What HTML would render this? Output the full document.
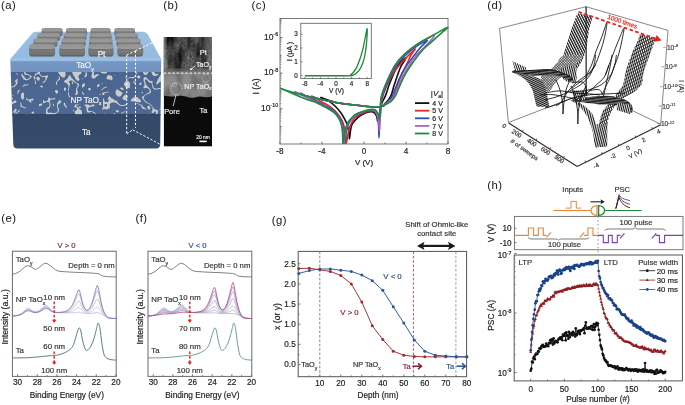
<!DOCTYPE html>
<html><head><meta charset="utf-8"><style>
html,body{margin:0;padding:0;background:#fff;}
svg{display:block;will-change:transform;}
text{font-family:"Liberation Sans", sans-serif;}
</style></head><body>
<svg width="685" height="405" viewBox="0 0 685 405">
<defs>
<linearGradient id="gTop" x1="0" y1="0" x2="0" y2="1"><stop offset="0" stop-color="#9cc0e4"/><stop offset="0.85" stop-color="#96bbe1"/><stop offset="1" stop-color="#a2c5e8"/></linearGradient>
<linearGradient id="gTaOy" x1="0" y1="0" x2="0" y2="1"><stop offset="0" stop-color="#84a8d4"/><stop offset="0.25" stop-color="#7396c2"/><stop offset="1" stop-color="#7093bf"/></linearGradient>
<linearGradient id="gNP" x1="0" y1="0" x2="0" y2="1"><stop offset="0" stop-color="#4a6690"/><stop offset="1" stop-color="#4c6893"/></linearGradient>
<linearGradient id="gTa" x1="0" y1="0" x2="0" y2="1"><stop offset="0" stop-color="#334967"/><stop offset="1" stop-color="#364c6b"/></linearGradient>
<linearGradient id="gPadS" x1="0" y1="0" x2="0" y2="1"><stop offset="0" stop-color="#666"/><stop offset="0.45" stop-color="#7a7a7a"/><stop offset="0.8" stop-color="#707070"/><stop offset="1" stop-color="#555"/></linearGradient>
<linearGradient id="gPadT" x1="0" y1="0" x2="0" y2="1"><stop offset="0" stop-color="#929292"/><stop offset="1" stop-color="#9c9c9c"/></linearGradient>
<clipPath id="clipFront"><path d="M10.3 60 L161.2 60 L160.2 144.5 Q160 148.6 156 148.6 L17.5 148.6 Q13.4 148.6 13.3 144.5 Z"/></clipPath>
<filter id="fblur" x="0" y="0" width="1" height="1"><feGaussianBlur stdDeviation="0.35"/></filter>

<filter id="ftem1" x="0" y="0" width="1" height="1">
<feTurbulence type="fractalNoise" baseFrequency="0.12 0.035" numOctaves="3" seed="12" result="n"/>
<feColorMatrix in="n" type="matrix" values="0 0 0 0 0  0 0 0 0 0  0 0 0 0 0  2.4 0 0 0 -0.98" result="a"/>
<feFlood flood-color="#000"/><feComposite in2="a" operator="in"/>
</filter>
<filter id="ftem3" x="0" y="0" width="1" height="1">
<feTurbulence type="fractalNoise" baseFrequency="0.1 0.03" numOctaves="2" seed="31" result="n"/>
<feColorMatrix in="n" type="matrix" values="0 0 0 0 0  0 0 0 0 0  0 0 0 0 0  0 2.8 0 0 -1.25" result="a"/>
<feFlood flood-color="#9a9a9a"/><feComposite in2="a" operator="in"/>
</filter>
<filter id="ftem2" x="0" y="0" width="1" height="1">
<feTurbulence type="fractalNoise" baseFrequency="0.4" numOctaves="2" seed="9" result="n"/>
<feColorMatrix in="n" type="matrix" values="0 0 0 0 0  0 0 0 0 0  0 0 0 0 0  0.8 0 0 0 -0.25" result="a"/>
<feFlood flood-color="#000"/><feComposite in2="a" operator="in"/>
</filter>
<filter id="ftem4" x="0" y="0" width="1" height="1">
<feTurbulence type="fractalNoise" baseFrequency="0.12 0.08" numOctaves="2" seed="5" result="n"/>
<feColorMatrix in="n" type="matrix" values="0 0 0 0 0  0 0 0 0 0  0 0 0 0 0  1.6 0 0 0 -0.65" result="a"/>
<feFlood flood-color="#000"/><feComposite in2="a" operator="in"/>
</filter>
<linearGradient id="gPt" x1="0" y1="0" x2="0" y2="1"><stop offset="0" stop-color="#555"/><stop offset="0.6" stop-color="#585858"/><stop offset="1" stop-color="#626262"/></linearGradient>
<linearGradient id="gNPt" x1="0" y1="0" x2="0" y2="1"><stop offset="0" stop-color="#868686"/><stop offset="0.5" stop-color="#8e8e8e"/><stop offset="1" stop-color="#828282"/></linearGradient>
<linearGradient id="gPtEdge" x1="0" y1="0" x2="1" y2="0"><stop offset="0" stop-color="#8a8a8a" stop-opacity="0.7"/><stop offset="0.08" stop-color="#8a8a8a" stop-opacity="0"/><stop offset="0.75" stop-color="#8a8a8a" stop-opacity="0"/><stop offset="1" stop-color="#8a8a8a" stop-opacity="0.45"/></linearGradient>
<clipPath id="clipTEM"><rect x="163.7" y="36.9" width="48.3" height="109.7"/></clipPath>
<clipPath id="clipc"><rect x="280" y="18.5" width="169" height="125.5"/></clipPath>
<pattern id="pDiag" patternUnits="userSpaceOnUse" width="2.3" height="2.3" patternTransform="rotate(-27)"><rect width="2.3" height="2.3" fill="#fff"/><rect width="1.3" height="2.3" fill="#161616"/></pattern>
<pattern id="pDiag2" patternUnits="userSpaceOnUse" width="2.0" height="2.0" patternTransform="rotate(-20)"><rect width="2.0" height="2.0" fill="#fff"/><rect width="1.0" height="2.0" fill="#161616"/></pattern>
<pattern id="pMesh" patternUnits="userSpaceOnUse" width="1.9" height="1.9" patternTransform="rotate(45)"><rect width="1.9" height="1.9" fill="#fff"/><rect width="0.55" height="1.9" fill="#161616"/><rect width="1.9" height="0.55" fill="#161616"/></pattern>
<pattern id="pR1" patternUnits="userSpaceOnUse" width="1.8" height="2" patternTransform="rotate(14)"><rect width="0.85" height="2" fill="#161616"/></pattern>
<pattern id="pR2" patternUnits="userSpaceOnUse" width="3.0" height="2" patternTransform="rotate(62)"><rect width="0.7" height="2" fill="#161616"/></pattern>
<pattern id="pHor" patternUnits="userSpaceOnUse" width="2" height="1.8" patternTransform="rotate(25)"><rect width="2" height="1.8" fill="#fff"/><rect width="2" height="1.2" fill="#161616"/></pattern>
<pattern id="pBand" patternUnits="userSpaceOnUse" width="3" height="1.45" patternTransform="rotate(4)"><rect width="3" height="1.45" fill="#fff"/><rect width="3" height="1.15" fill="#141414"/></pattern>
<pattern id="pVert" patternUnits="userSpaceOnUse" width="1.8" height="2" patternTransform="rotate(12)"><rect width="1.8" height="2" fill="#fff"/><rect width="1.0" height="2" fill="#161616"/></pattern>
<clipPath id="cliph"><rect x="514.2" y="255" width="168.19999999999993" height="125.89999999999998"/></clipPath></defs>
<rect width="685" height="405" fill="#fff"/>
<text x="1" y="9" font-size="11.3" text-anchor="start" fill="#222" stroke="#222" stroke-width="0.04" letter-spacing="0.45">(a)</text>
<text x="163.3" y="9" font-size="11.3" text-anchor="start" fill="#222" stroke="#222" stroke-width="0.04" letter-spacing="0.45">(b)</text>
<text x="251.6" y="9" font-size="11.3" text-anchor="start" fill="#222" stroke="#222" stroke-width="0.04" letter-spacing="0.45">(c)</text>
<text x="487.3" y="8.8" font-size="11.3" text-anchor="start" fill="#222" stroke="#222" stroke-width="0.04" letter-spacing="0.45">(d)</text>
<text x="1.3" y="221.5" font-size="11.3" text-anchor="start" fill="#222" stroke="#222" stroke-width="0.04" letter-spacing="0.45">(e)</text>
<text x="135.5" y="221.5" font-size="11.3" text-anchor="start" fill="#222" stroke="#222" stroke-width="0.04" letter-spacing="0.45">(f)</text>
<text x="271.8" y="224.4" font-size="11.3" text-anchor="start" fill="#222" stroke="#222" stroke-width="0.04" letter-spacing="0.45">(g)</text>
<text x="487.3" y="189" font-size="11.3" text-anchor="start" fill="#222" stroke="#222" stroke-width="0.04" letter-spacing="0.45">(h)</text>
<path d="M36 31.8 L143 31.8 Q146.3 31.8 147.8 34.5 L161.2 59 L161.2 61 L10.3 61 L10.3 59 L31.5 34.2 Q33 31.8 36 31.8 Z" stroke="none" stroke-width="1" fill="url(#gTop)"/>
<g clip-path="url(#clipFront)">
<rect x="8" y="59.5" width="156" height="13" fill="url(#gTaOy)" stroke="none" stroke-width="1"/>
<rect x="8" y="72" width="156" height="43" fill="url(#gNP)" stroke="none" stroke-width="1"/>
<rect x="8" y="114.6" width="156" height="36" fill="url(#gTa)" stroke="none" stroke-width="1"/>
<path d="M24 72h1.5v0.5h-1.5zM37.5 72h2.5v0.5h-2.5zM58 72h7.5v0.5h-7.5zM72 72h9.5v0.5h-9.5zM85.5 72h1v0.5h-1zM92.5 72h1.5v0.5h-1.5zM100.5 72h6.5v0.5h-6.5zM136.5 72h1v0.5h-1zM143 72h2v0.5h-2zM146.5 72h2v0.5h-2zM151.5 72h3v0.5h-3zM24 72.5h1.5v0.5h-1.5zM37.5 72.5h2.5v0.5h-2.5zM58.5 72.5h7v0.5h-7zM72.5 72.5h9v0.5h-9zM85.5 72.5h1v0.5h-1zM92 72.5h2v0.5h-2zM101 72.5h6v0.5h-6zM136.5 72.5h1v0.5h-1zM143 72.5h5v0.5h-5zM151.5 72.5h3v0.5h-3zM24 73h2v0.5h-2zM37 73h3v0.5h-3zM58.5 73h7v0.5h-7zM72.5 73h9v0.5h-9zM85.5 73h1.5v0.5h-1.5zM92 73h2v0.5h-2zM102 73h4.5v0.5h-4.5zM136.5 73h0.5v0.5h-0.5zM143.5 73h4.5v0.5h-4.5zM152 73h3v0.5h-3zM161.5 73h0.5v0.5h-0.5zM16 73.5h1.5v0.5h-1.5zM21.5 73.5h0.5v0.5h-0.5zM24.5 73.5h2v0.5h-2zM35 73.5h5v0.5h-5zM59 73.5h6.5v0.5h-6.5zM72.5 73.5h8.5v0.5h-8.5zM85.5 73.5h1.5v0.5h-1.5zM92 73.5h2v0.5h-2zM136 73.5h1v0.5h-1zM143.5 73.5h4v0.5h-4zM152 73.5h3.5v0.5h-3.5zM157.5 73.5h0.5v0.5h-0.5zM161 73.5h1v0.5h-1zM16.5 74h1.5v0.5h-1.5zM21.5 74h1v0.5h-1zM24.5 74h3.5v0.5h-3.5zM35 74h2.5v0.5h-2.5zM39 74h1.5v0.5h-1.5zM59.5 74h6v0.5h-6zM73 74h7v0.5h-7zM85.5 74h1.5v0.5h-1.5zM92 74h2v0.5h-2zM96.5 74h1.5v0.5h-1.5zM136 74h0.5v0.5h-0.5zM144 74h3v0.5h-3zM152 74h6.5v0.5h-6.5zM161 74h1v0.5h-1zM17 74.5h0.5v0.5h-0.5zM21.5 74.5h1v0.5h-1zM25 74.5h4.5v0.5h-4.5zM35 74.5h1.5v0.5h-1.5zM39.5 74.5h1v0.5h-1zM59.5 74.5h6v0.5h-6zM73 74.5h6.5v0.5h-6.5zM85.5 74.5h1.5v0.5h-1.5zM91.5 74.5h2.5v0.5h-2.5zM95.5 74.5h3.5v0.5h-3.5zM135.5 74.5h1v0.5h-1zM144.5 74.5h2v0.5h-2zM152.5 74.5h5.5v0.5h-5.5zM160.5 74.5h1.5v0.5h-1.5zM21 75h2v0.5h-2zM28 75h2.5v0.5h-2.5zM35 75h1v0.5h-1zM40 75h1v0.5h-1zM60 75h5.5v0.5h-5.5zM69.5 75h0.5v0.5h-0.5zM73.5 75h5.5v0.5h-5.5zM85 75h2v0.5h-2zM91.5 75h2.5v0.5h-2.5zM95 75h4v0.5h-4zM108 75h1.5v0.5h-1.5zM135.5 75h0.5v0.5h-0.5zM153 75h4.5v0.5h-4.5zM160.5 75h1.5v0.5h-1.5zM21.5 75.5h2v0.5h-2zM29.5 75.5h1.5v0.5h-1.5zM34.5 75.5h1v0.5h-1zM40.5 75.5h1v0.5h-1zM45.5 75.5h2.5v0.5h-2.5zM60.5 75.5h5v0.5h-5zM69 75.5h1.5v0.5h-1.5zM73.5 75.5h5v0.5h-5zM84.5 75.5h2.5v0.5h-2.5zM91.5 75.5h6v0.5h-6zM107.5 75.5h4v0.5h-4zM114 75.5h1v0.5h-1zM135 75.5h0.5v0.5h-0.5zM138 75.5h1.5v0.5h-1.5zM153.5 75.5h2.5v0.5h-2.5zM160 75.5h2v0.5h-2zM22 76h2v0.5h-2zM30 76h1.5v0.5h-1.5zM34 76h1v0.5h-1zM41 76h7v0.5h-7zM58.5 76h0.5v0.5h-0.5zM61 76h4v0.5h-4zM68.5 76h2v0.5h-2zM74 76h4.5v0.5h-4.5zM84.5 76h2v0.5h-2zM91.5 76h5.5v0.5h-5.5zM107 76h5v0.5h-5zM134.5 76h1v0.5h-1zM137 76h3v0.5h-3zM159.5 76h2.5v0.5h-2.5zM22 76.5h2.5v0.5h-2.5zM30 76.5h1.5v0.5h-1.5zM33.5 76.5h1v0.5h-1zM37.5 76.5h0.5v0.5h-0.5zM41.5 76.5h6.5v0.5h-6.5zM58.5 76.5h1v0.5h-1zM61.5 76.5h3.5v0.5h-3.5zM68.5 76.5h2.5v0.5h-2.5zM74.5 76.5h4v0.5h-4zM84.5 76.5h1.5v0.5h-1.5zM91.5 76.5h5v0.5h-5zM107 76.5h5v0.5h-5zM134 76.5h1v0.5h-1zM136.5 76.5h4v0.5h-4zM159.5 76.5h2.5v0.5h-2.5zM22.5 77h2v0.5h-2zM30 77h1.5v0.5h-1.5zM33.5 77h1.5v0.5h-1.5zM36.5 77h2.5v0.5h-2.5zM45 77h2.5v0.5h-2.5zM59 77h0.5v0.5h-0.5zM62 77h2.5v0.5h-2.5zM68.5 77h2.5v0.5h-2.5zM74.5 77h4v0.5h-4zM84.5 77h1v0.5h-1zM91.5 77h4.5v0.5h-4.5zM106.5 77h6v0.5h-6zM125 77h1v0.5h-1zM130 77h5v0.5h-5zM137 77h3.5v0.5h-3.5zM144.5 77h1.5v0.5h-1.5zM159 77h3v0.5h-3zM22.5 77.5h2.5v0.5h-2.5zM29.5 77.5h1.5v0.5h-1.5zM33.5 77.5h2v0.5h-2zM36.5 77.5h3v0.5h-3zM45.5 77.5h2v0.5h-2zM59 77.5h1v0.5h-1zM68 77.5h3.5v0.5h-3.5zM75 77.5h4v0.5h-4zM92 77.5h3.5v0.5h-3.5zM106.5 77.5h6v0.5h-6zM121 77.5h0.5v0.5h-0.5zM125.5 77.5h1.5v0.5h-1.5zM128.5 77.5h5.5v0.5h-5.5zM137.5 77.5h2.5v0.5h-2.5zM144 77.5h2.5v0.5h-2.5zM159 77.5h3v0.5h-3zM23 78h2.5v0.5h-2.5zM29 78h1.5v0.5h-1.5zM34 78h1.5v0.5h-1.5zM36.5 78h3v0.5h-3zM45.5 78h1.5v0.5h-1.5zM59 78h1v0.5h-1zM68 78h4v0.5h-4zM75 78h4v0.5h-4zM82.5 78h0.5v0.5h-0.5zM92.5 78h2.5v0.5h-2.5zM106.5 78h6v0.5h-6zM126 78h3.5v0.5h-3.5zM132.5 78h1v0.5h-1zM138 78h1.5v0.5h-1.5zM143.5 78h3.5v0.5h-3.5zM158.5 78h3.5v0.5h-3.5zM17 78.5h0.5v0.5h-0.5zM23 78.5h3v0.5h-3zM28 78.5h2v0.5h-2zM34 78.5h1.5v0.5h-1.5zM36.5 78.5h3.5v0.5h-3.5zM45.5 78.5h1.5v0.5h-1.5zM58.5 78.5h1.5v0.5h-1.5zM67 78.5h5.5v0.5h-5.5zM75.5 78.5h3.5v0.5h-3.5zM82.5 78.5h0.5v0.5h-0.5zM107 78.5h5.5v0.5h-5.5zM143.5 78.5h4v0.5h-4zM158.5 78.5h3.5v0.5h-3.5zM16.5 79h1v0.5h-1zM23.5 79h5.5v0.5h-5.5zM34.5 79h0.5v0.5h-0.5zM37 79h3v0.5h-3zM45.5 79h1v0.5h-1zM58.5 79h1.5v0.5h-1.5zM66.5 79h6.5v0.5h-6.5zM76 79h3.5v0.5h-3.5zM82.5 79h0.5v0.5h-0.5zM107.5 79h5v0.5h-5zM143.5 79h4.5v0.5h-4.5zM158 79h4v0.5h-4zM16 79.5h1.5v0.5h-1.5zM24.5 79.5h4v0.5h-4zM34.5 79.5h0.5v0.5h-0.5zM37 79.5h2.5v0.5h-2.5zM45 79.5h1.5v0.5h-1.5zM57.5 79.5h2v0.5h-2zM66 79.5h7.5v0.5h-7.5zM76 79.5h3.5v0.5h-3.5zM110.5 79.5h1.5v0.5h-1.5zM143.5 79.5h1.5v0.5h-1.5zM146.5 79.5h2v0.5h-2zM157.5 79.5h4.5v0.5h-4.5zM15.5 80h2v0.5h-2zM26 80h1v0.5h-1zM34.5 80h1v0.5h-1zM37.5 80h2v0.5h-2zM45 80h1v0.5h-1zM57.5 80h1.5v0.5h-1.5zM65 80h9v0.5h-9zM76.5 80h2.5v0.5h-2.5zM111 80h0.5v0.5h-0.5zM143.5 80h1.5v0.5h-1.5zM147 80h2v0.5h-2zM157.5 80h4.5v0.5h-4.5zM15 80.5h2.5v0.5h-2.5zM35 80.5h0.5v0.5h-0.5zM44.5 80.5h1v0.5h-1zM57 80.5h1v0.5h-1zM64.5 80.5h5.5v0.5h-5.5zM72.5 80.5h2v0.5h-2zM77.5 80.5h1v0.5h-1zM143.5 80.5h1.5v0.5h-1.5zM147.5 80.5h2.5v0.5h-2.5zM157.5 80.5h4.5v0.5h-4.5zM14.5 81h3v0.5h-3zM35 81h0.5v0.5h-0.5zM44 81h1.5v0.5h-1.5zM56.5 81h1v0.5h-1zM64 81h5v0.5h-5zM73 81h2v0.5h-2zM126.5 81h2v0.5h-2zM133.5 81h0.5v0.5h-0.5zM135 81h0.5v0.5h-0.5zM143.5 81h1.5v0.5h-1.5zM148 81h4.5v0.5h-4.5zM157 81h5v0.5h-5zM15.5 81.5h2v0.5h-2zM35 81.5h1v0.5h-1zM43.5 81.5h1.5v0.5h-1.5zM56.5 81.5h1v0.5h-1zM64 81.5h5v0.5h-5zM72 81.5h1v0.5h-1zM74 81.5h1.5v0.5h-1.5zM125.5 81.5h3.5v0.5h-3.5zM133.5 81.5h2v0.5h-2zM144 81.5h1v0.5h-1zM148.5 81.5h4v0.5h-4zM157 81.5h5v0.5h-5zM15.5 82h2v0.5h-2zM35 82h1v0.5h-1zM43 82h1.5v0.5h-1.5zM56 82h1v0.5h-1zM64.5 82h4.5v0.5h-4.5zM72 82h1v0.5h-1zM74.5 82h1.5v0.5h-1.5zM125 82h4.5v0.5h-4.5zM133.5 82h2v0.5h-2zM144 82h1.5v0.5h-1.5zM149 82h3.5v0.5h-3.5zM156.5 82h3v0.5h-3zM16 82.5h1.5v0.5h-1.5zM35 82.5h1v0.5h-1zM42.5 82.5h1v0.5h-1zM56 82.5h1v0.5h-1zM65.5 82.5h4v0.5h-4zM72 82.5h1v0.5h-1zM75.5 82.5h1.5v0.5h-1.5zM124.5 82.5h5v0.5h-5zM133.5 82.5h1.5v0.5h-1.5zM140 82.5h1.5v0.5h-1.5zM144 82.5h1.5v0.5h-1.5zM150.5 82.5h2v0.5h-2zM156.5 82.5h2.5v0.5h-2.5zM10 83h1v0.5h-1zM16 83h1.5v0.5h-1.5zM35 83h1v0.5h-1zM56 83h1v0.5h-1zM66.5 83h3.5v0.5h-3.5zM72 83h1v0.5h-1zM76 83h2v0.5h-2zM124.5 83h5.5v0.5h-5.5zM133.5 83h1v0.5h-1zM139.5 83h2v0.5h-2zM144.5 83h1v0.5h-1zM151.5 83h1v0.5h-1zM156.5 83h2v0.5h-2zM9.5 83.5h1v0.5h-1zM15.5 83.5h2v0.5h-2zM34.5 83.5h1.5v0.5h-1.5zM56 83.5h1v0.5h-1zM67 83.5h3v0.5h-3zM72.5 83.5h1v0.5h-1zM77 83.5h1.5v0.5h-1.5zM83 83.5h2v0.5h-2zM101.5 83.5h1.5v0.5h-1.5zM124 83.5h6v0.5h-6zM139.5 83.5h2v0.5h-2zM144.5 83.5h1.5v0.5h-1.5zM151.5 83.5h1v0.5h-1zM156 83.5h2v0.5h-2zM9.5 84h1v0.5h-1zM15.5 84h1.5v0.5h-1.5zM56 84h1v0.5h-1zM67.5 84h2.5v0.5h-2.5zM72.5 84h0.5v0.5h-0.5zM77.5 84h1.5v0.5h-1.5zM82.5 84h2.5v0.5h-2.5zM98 84h1v0.5h-1zM124 84h6v0.5h-6zM139 84h2.5v0.5h-2.5zM144.5 84h1.5v0.5h-1.5zM152 84h0.5v0.5h-0.5zM156.5 84h1v0.5h-1zM9.5 84.5h1v0.5h-1zM15 84.5h1.5v0.5h-1.5zM24 84.5h5v0.5h-5zM56.5 84.5h1v0.5h-1zM68 84.5h2v0.5h-2zM77.5 84.5h1.5v0.5h-1.5zM82 84.5h3v0.5h-3zM97.5 84.5h2v0.5h-2zM124 84.5h6v0.5h-6zM139.5 84.5h1.5v0.5h-1.5zM144.5 84.5h2v0.5h-2zM152 84.5h0.5v0.5h-0.5zM9.5 85h1v0.5h-1zM14.5 85h1.5v0.5h-1.5zM23.5 85h4v0.5h-4zM68 85h2v0.5h-2zM77.5 85h1.5v0.5h-1.5zM82 85h3v0.5h-3zM97 85h2.5v0.5h-2.5zM124 85h6v0.5h-6zM144.5 85h2v0.5h-2zM152 85h1v0.5h-1zM9.5 85.5h1.5v0.5h-1.5zM14 85.5h1.5v0.5h-1.5zM23 85.5h2v0.5h-2zM41 85.5h1v0.5h-1zM68.5 85.5h1v0.5h-1zM77.5 85.5h1.5v0.5h-1.5zM82 85.5h2.5v0.5h-2.5zM97 85.5h2.5v0.5h-2.5zM124.5 85.5h5.5v0.5h-5.5zM144.5 85.5h2.5v0.5h-2.5zM152 85.5h1v0.5h-1zM10 86h1.5v0.5h-1.5zM13.5 86h1.5v0.5h-1.5zM22.5 86h1.5v0.5h-1.5zM40 86h2.5v0.5h-2.5zM68.5 86h1v0.5h-1zM77.5 86h1v0.5h-1zM82 86h2.5v0.5h-2.5zM97 86h2v0.5h-2zM125 86h5v0.5h-5zM144 86h3.5v0.5h-3.5zM152.5 86h1v0.5h-1zM10.5 86.5h4v0.5h-4zM40.5 86.5h2.5v0.5h-2.5zM68.5 86.5h1v0.5h-1zM77 86.5h1.5v0.5h-1.5zM82 86.5h2v0.5h-2zM97 86.5h1.5v0.5h-1.5zM105.5 86.5h1v0.5h-1zM125.5 86.5h4.5v0.5h-4.5zM143.5 86.5h4.5v0.5h-4.5zM152.5 86.5h1v0.5h-1zM11.5 87h2v0.5h-2zM41 87h1.5v0.5h-1.5zM68.5 87h1v0.5h-1zM77 87h1v0.5h-1zM82 87h1v0.5h-1zM104.5 87h2.5v0.5h-2.5zM125.5 87h4.5v0.5h-4.5zM143.5 87h5v0.5h-5zM152.5 87h1v0.5h-1zM64.5 87.5h1.5v0.5h-1.5zM68.5 87.5h0.5v0.5h-0.5zM76.5 87.5h1v0.5h-1zM103.5 87.5h2v0.5h-2zM120.5 87.5h2v0.5h-2zM126 87.5h3.5v0.5h-3.5zM143.5 87.5h5.5v0.5h-5.5zM152.5 87.5h1.5v0.5h-1.5zM64 88h2v0.5h-2zM68.5 88h0.5v0.5h-0.5zM76.5 88h1v0.5h-1zM88.5 88h1.5v0.5h-1.5zM103 88h1.5v0.5h-1.5zM120 88h3v0.5h-3zM127 88h1.5v0.5h-1.5zM144 88h0.5v0.5h-0.5zM147.5 88h2v0.5h-2zM153 88h2v0.5h-2zM158 88h4v0.5h-4zM64 88.5h2v0.5h-2zM68 88.5h1v0.5h-1zM76 88.5h1.5v0.5h-1.5zM88 88.5h3v0.5h-3zM102.5 88.5h1v0.5h-1zM120.5 88.5h3v0.5h-3zM148.5 88.5h1.5v0.5h-1.5zM153.5 88.5h8.5v0.5h-8.5zM64 89h2v0.5h-2zM68 89h1v0.5h-1zM76 89h1v0.5h-1zM88 89h3v0.5h-3zM101.5 89h1.5v0.5h-1.5zM121 89h2.5v0.5h-2.5zM149 89h1v0.5h-1zM154 89h4v0.5h-4zM19.5 89.5h0.5v0.5h-0.5zM64 89.5h2v0.5h-2zM68 89.5h1v0.5h-1zM76 89.5h1v0.5h-1zM88.5 89.5h2.5v0.5h-2.5zM101.5 89.5h1v0.5h-1zM116.5 89.5h1.5v0.5h-1.5zM121.5 89.5h2v0.5h-2zM149 89.5h1.5v0.5h-1.5zM18.5 90h1.5v0.5h-1.5zM55.5 90h2v0.5h-2zM64 90h1.5v0.5h-1.5zM68 90h0.5v0.5h-0.5zM76 90h1.5v0.5h-1.5zM89 90h1v0.5h-1zM101.5 90h0.5v0.5h-0.5zM116 90h2.5v0.5h-2.5zM149.5 90h1v0.5h-1zM18 90.5h1.5v0.5h-1.5zM55 90.5h2.5v0.5h-2.5zM64.5 90.5h1v0.5h-1zM68 90.5h0.5v0.5h-0.5zM76 90.5h1.5v0.5h-1.5zM116 90.5h3.5v0.5h-3.5zM149.5 90.5h1.5v0.5h-1.5zM17.5 91h1.5v0.5h-1.5zM55 91h3v0.5h-3zM68 91h0.5v0.5h-0.5zM76 91h1.5v0.5h-1.5zM116 91h4.5v0.5h-4.5zM149.5 91h1.5v0.5h-1.5zM17.5 91.5h1v0.5h-1zM55 91.5h3v0.5h-3zM68 91.5h0.5v0.5h-0.5zM76 91.5h2v0.5h-2zM82 91.5h0.5v0.5h-0.5zM107 91.5h1.5v0.5h-1.5zM115.5 91.5h5.5v0.5h-5.5zM149.5 91.5h1.5v0.5h-1.5zM17.5 92h1v0.5h-1zM55.5 92h2.5v0.5h-2.5zM68 92h0.5v0.5h-0.5zM76 92h2v0.5h-2zM82 92h0.5v0.5h-0.5zM104.5 92h4v0.5h-4zM115.5 92h6.5v0.5h-6.5zM141.5 92h1.5v0.5h-1.5zM149.5 92h1.5v0.5h-1.5zM17.5 92.5h1v0.5h-1zM22.5 92.5h1v0.5h-1zM55.5 92.5h2.5v0.5h-2.5zM68 92.5h0.5v0.5h-0.5zM76 92.5h2v0.5h-2zM82 92.5h1v0.5h-1zM102.5 92.5h3.5v0.5h-3.5zM115.5 92.5h7v0.5h-7zM141.5 92.5h1.5v0.5h-1.5zM148.5 92.5h2v0.5h-2zM17.5 93h1v0.5h-1zM21.5 93h2.5v0.5h-2.5zM56 93h1.5v0.5h-1.5zM68 93h1v0.5h-1zM75.5 93h2.5v0.5h-2.5zM82 93h1.5v0.5h-1.5zM102 93h2.5v0.5h-2.5zM115.5 93h7v0.5h-7zM147.5 93h2.5v0.5h-2.5zM17.5 93.5h0.5v0.5h-0.5zM21.5 93.5h2.5v0.5h-2.5zM68 93.5h1v0.5h-1zM75.5 93.5h2v0.5h-2zM82.5 93.5h1.5v0.5h-1.5zM102.5 93.5h2v0.5h-2zM116 93.5h6.5v0.5h-6.5zM146.5 93.5h2.5v0.5h-2.5zM8 94h2.5v0.5h-2.5zM21 94h3v0.5h-3zM68 94h1v0.5h-1zM75.5 94h1.5v0.5h-1.5zM83 94h1v0.5h-1zM99.5 94h1v0.5h-1zM102 94h2.5v0.5h-2.5zM116 94h6v0.5h-6zM146 94h1.5v0.5h-1.5zM10 94.5h2v0.5h-2zM21 94.5h3v0.5h-3zM68 94.5h1v0.5h-1zM75 94.5h2v0.5h-2zM83.5 94.5h1v0.5h-1zM99.5 94.5h1.5v0.5h-1.5zM102 94.5h0.5v0.5h-0.5zM103 94.5h1v0.5h-1zM116 94.5h6v0.5h-6zM125 94.5h1.5v0.5h-1.5zM145 94.5h1.5v0.5h-1.5zM11.5 95h2v0.5h-2zM21 95h3v0.5h-3zM68.5 95h1v0.5h-1zM116.5 95h5v0.5h-5zM124.5 95h2.5v0.5h-2.5zM144.5 95h1v0.5h-1zM8 95.5h1.5v0.5h-1.5zM21 95.5h3v0.5h-3zM68.5 95.5h1v0.5h-1zM117 95.5h4v0.5h-4zM124 95.5h3.5v0.5h-3.5zM144 95.5h1v0.5h-1zM8 96h2.5v0.5h-2.5zM21 96h3v0.5h-3zM68.5 96h1.5v0.5h-1.5zM109.5 96h0.5v0.5h-0.5zM117.5 96h3v0.5h-3zM123.5 96h4v0.5h-4zM143 96h1.5v0.5h-1.5zM8 96.5h3.5v0.5h-3.5zM21 96.5h3v0.5h-3zM69 96.5h1v0.5h-1zM109 96.5h1v0.5h-1zM123 96.5h4.5v0.5h-4.5zM142 96.5h2v0.5h-2zM8 97h4v0.5h-4zM21 97h3v0.5h-3zM69.5 97h0.5v0.5h-0.5zM108.5 97h2v0.5h-2zM123 97h4.5v0.5h-4.5zM134 97h3v0.5h-3zM142 97h2v0.5h-2zM8 97.5h4.5v0.5h-4.5zM21 97.5h3v0.5h-3zM26 97.5h0.5v0.5h-0.5zM48.5 97.5h1v0.5h-1zM108 97.5h3v0.5h-3zM122.5 97.5h5v0.5h-5zM133 97.5h5v0.5h-5zM142 97.5h1.5v0.5h-1.5zM8 98h5v0.5h-5zM21.5 98h2.5v0.5h-2.5zM26 98h0.5v0.5h-0.5zM48 98h1.5v0.5h-1.5zM53.5 98h1.5v0.5h-1.5zM103 98h0.5v0.5h-0.5zM108 98h3.5v0.5h-3.5zM122.5 98h4.5v0.5h-4.5zM132.5 98h6v0.5h-6zM142 98h1.5v0.5h-1.5zM8 98.5h5v0.5h-5zM21.5 98.5h2v0.5h-2zM26 98.5h1v0.5h-1zM31.5 98.5h1.5v0.5h-1.5zM48 98.5h7.5v0.5h-7.5zM103 98.5h0.5v0.5h-0.5zM108 98.5h4.5v0.5h-4.5zM122.5 98.5h4.5v0.5h-4.5zM132 98.5h7v0.5h-7zM142.5 98.5h1.5v0.5h-1.5zM8 99h4.5v0.5h-4.5zM22 99h1.5v0.5h-1.5zM26 99h1.5v0.5h-1.5zM29.5 99h4v0.5h-4zM48 99h6.5v0.5h-6.5zM103 99h1v0.5h-1zM108 99h6v0.5h-6zM123 99h3.5v0.5h-3.5zM131.5 99h8v0.5h-8zM143 99h1v0.5h-1zM8 99.5h4.5v0.5h-4.5zM26.5 99.5h7v0.5h-7zM48 99.5h3.5v0.5h-3.5zM103 99.5h1v0.5h-1zM108.5 99.5h5.5v0.5h-5.5zM123.5 99.5h2.5v0.5h-2.5zM131 99.5h9.5v0.5h-9.5zM143.5 99.5h1v0.5h-1zM8 100h3.5v0.5h-3.5zM27 100h4v0.5h-4zM31.5 100h2v0.5h-2zM43 100h1v0.5h-1zM48 100h2v0.5h-2zM59 100h0.5v0.5h-0.5zM103 100h1v0.5h-1zM108.5 100h6v0.5h-6zM130.5 100h10v0.5h-10zM143.5 100h1.5v0.5h-1.5zM8 100.5h2.5v0.5h-2.5zM14.5 100.5h1.5v0.5h-1.5zM29 100.5h2v0.5h-2zM43 100.5h1v0.5h-1zM47 100.5h3v0.5h-3zM59 100.5h2v0.5h-2zM103 100.5h1.5v0.5h-1.5zM109 100.5h7.5v0.5h-7.5zM131 100.5h10v0.5h-10zM144 100.5h1v0.5h-1zM8 101h1v0.5h-1zM13.5 101h3v0.5h-3zM29 101h2.5v0.5h-2.5zM43 101h1.5v0.5h-1.5zM45.5 101h4.5v0.5h-4.5zM58.5 101h3v0.5h-3zM103 101h1.5v0.5h-1.5zM108.5 101h8.5v0.5h-8.5zM131.5 101h9.5v0.5h-9.5zM144.5 101h1v0.5h-1zM8 101.5h1v0.5h-1zM12.5 101.5h4v0.5h-4zM29.5 101.5h2v0.5h-2zM43 101.5h7v0.5h-7zM58.5 101.5h2.5v0.5h-2.5zM103 101.5h2v0.5h-2zM108 101.5h9.5v0.5h-9.5zM136 101.5h5v0.5h-5zM145 101.5h1.5v0.5h-1.5zM8 102h1.5v0.5h-1.5zM11 102h5.5v0.5h-5.5zM20.5 102h0.5v0.5h-0.5zM30 102h1.5v0.5h-1.5zM43 102h3v0.5h-3zM48.5 102h1.5v0.5h-1.5zM58 102h3v0.5h-3zM103 102h14.5v0.5h-14.5zM138.5 102h1.5v0.5h-1.5zM145.5 102h1.5v0.5h-1.5zM8 102.5h8v0.5h-8zM20.5 102.5h0.5v0.5h-0.5zM43 102.5h2v0.5h-2zM49 102.5h1v0.5h-1zM57.5 102.5h3v0.5h-3zM64 102.5h0.5v0.5h-0.5zM103 102.5h8.5v0.5h-8.5zM115.5 102.5h2.5v0.5h-2.5zM146 102.5h2v0.5h-2zM8 103h6v0.5h-6zM20.5 103h1v0.5h-1zM49.5 103h1v0.5h-1zM57 103h3.5v0.5h-3.5zM64 103h1v0.5h-1zM103 103h8v0.5h-8zM116.5 103h2v0.5h-2zM126.5 103h1v0.5h-1zM135 103h1.5v0.5h-1.5zM147.5 103h1.5v0.5h-1.5zM8 103.5h5v0.5h-5zM20.5 103.5h1v0.5h-1zM40.5 103.5h2v0.5h-2zM49.5 103.5h1v0.5h-1zM53 103.5h0.5v0.5h-0.5zM57 103.5h2v0.5h-2zM63.5 103.5h2v0.5h-2zM103 103.5h7v0.5h-7zM117 103.5h2v0.5h-2zM126 103.5h1.5v0.5h-1.5zM136.5 103.5h2v0.5h-2zM148.5 103.5h1.5v0.5h-1.5zM20.5 104h1v0.5h-1zM39 104h3.5v0.5h-3.5zM49.5 104h1v0.5h-1zM53 104h1v0.5h-1zM57 104h1.5v0.5h-1.5zM63.5 104h2v0.5h-2zM103 104h1.5v0.5h-1.5zM107 104h3v0.5h-3zM118 104h1.5v0.5h-1.5zM125 104h2v0.5h-2zM138.5 104h1.5v0.5h-1.5zM149.5 104h1v0.5h-1zM20.5 104.5h1v0.5h-1zM39 104.5h3v0.5h-3zM49.5 104.5h1v0.5h-1zM53 104.5h1v0.5h-1zM57 104.5h1v0.5h-1zM64 104.5h1.5v0.5h-1.5zM75 104.5h4v0.5h-4zM84.5 104.5h4v0.5h-4zM92 104.5h2v0.5h-2zM103 104.5h1.5v0.5h-1.5zM107 104.5h2.5v0.5h-2.5zM118.5 104.5h2v0.5h-2zM124.5 104.5h2v0.5h-2zM139.5 104.5h2v0.5h-2zM150 104.5h1v0.5h-1zM20.5 105h1v0.5h-1zM39 105h2.5v0.5h-2.5zM49.5 105h1v0.5h-1zM53 105h1v0.5h-1zM57 105h1v0.5h-1zM64 105h1.5v0.5h-1.5zM75 105h2.5v0.5h-2.5zM84.5 105h5v0.5h-5zM91 105h3.5v0.5h-3.5zM103 105h1.5v0.5h-1.5zM107 105h2.5v0.5h-2.5zM119 105h6.5v0.5h-6.5zM140.5 105h1.5v0.5h-1.5zM150.5 105h1v0.5h-1zM20.5 105.5h1.5v0.5h-1.5zM39 105.5h2v0.5h-2zM49.5 105.5h1v0.5h-1zM53.5 105.5h0.5v0.5h-0.5zM57 105.5h1v0.5h-1zM64.5 105.5h1.5v0.5h-1.5zM74.5 105.5h2v0.5h-2zM85 105.5h9.5v0.5h-9.5zM103 105.5h1.5v0.5h-1.5zM107 105.5h3v0.5h-3zM120.5 105.5h4v0.5h-4zM141 105.5h1.5v0.5h-1.5zM148 105.5h0.5v0.5h-0.5zM151 105.5h1v0.5h-1zM20.5 106h2v0.5h-2zM39.5 106h0.5v0.5h-0.5zM49 106h1.5v0.5h-1.5zM53.5 106h0.5v0.5h-0.5zM57 106h1v0.5h-1zM65 106h2v0.5h-2zM74.5 106h2v0.5h-2zM79.5 106h1v0.5h-1zM85.5 106h8.5v0.5h-8.5zM103 106h1.5v0.5h-1.5zM106.5 106h3.5v0.5h-3.5zM141 106h1.5v0.5h-1.5zM147.5 106h2v0.5h-2zM151.5 106h0.5v0.5h-0.5zM20.5 106.5h3v0.5h-3zM49 106.5h1v0.5h-1zM57 106.5h1v0.5h-1zM65.5 106.5h1.5v0.5h-1.5zM74 106.5h3.5v0.5h-3.5zM79 106.5h1.5v0.5h-1.5zM86 106.5h5v0.5h-5zM103 106.5h2v0.5h-2zM105.5 106.5h4.5v0.5h-4.5zM141.5 106.5h1.5v0.5h-1.5zM147 106.5h3v0.5h-3zM152 106.5h0.5v0.5h-0.5zM22 107h2.5v0.5h-2.5zM48 107h2v0.5h-2zM57 107h1v0.5h-1zM66 107h1v0.5h-1zM74.5 107h3.5v0.5h-3.5zM79 107h2v0.5h-2zM86 107h3.5v0.5h-3.5zM103 107h7v0.5h-7zM141.5 107h2.5v0.5h-2.5zM147.5 107h2.5v0.5h-2.5zM152 107h1v0.5h-1zM160.5 107h0.5v0.5h-0.5zM23.5 107.5h2.5v0.5h-2.5zM47 107.5h2.5v0.5h-2.5zM57.5 107.5h1v0.5h-1zM65 107.5h0.5v0.5h-0.5zM76.5 107.5h2v0.5h-2zM79 107.5h1.5v0.5h-1.5zM86.5 107.5h2v0.5h-2zM103 107.5h6.5v0.5h-6.5zM142 107.5h2.5v0.5h-2.5zM147.5 107.5h3v0.5h-3zM152.5 107.5h1v0.5h-1zM160.5 107.5h1v0.5h-1zM25 108h1v0.5h-1zM46.5 108h3v0.5h-3zM57.5 108h1v0.5h-1zM77 108h2v0.5h-2zM86.5 108h2v0.5h-2zM102.5 108h7v0.5h-7zM142 108h3.5v0.5h-3.5zM147.5 108h3v0.5h-3zM152.5 108h1v0.5h-1zM160.5 108h1.5v0.5h-1.5zM15.5 108.5h0.5v0.5h-0.5zM46.5 108.5h2v0.5h-2zM57.5 108.5h1.5v0.5h-1.5zM77 108.5h2.5v0.5h-2.5zM86.5 108.5h1.5v0.5h-1.5zM102 108.5h6.5v0.5h-6.5zM143 108.5h2.5v0.5h-2.5zM148 108.5h2v0.5h-2zM152.5 108.5h1.5v0.5h-1.5zM160.5 108.5h1.5v0.5h-1.5zM15 109h1.5v0.5h-1.5zM46.5 109h1.5v0.5h-1.5zM57.5 109h1.5v0.5h-1.5zM77 109h3v0.5h-3zM86.5 109h1.5v0.5h-1.5zM102.5 109h1v0.5h-1zM105.5 109h2v0.5h-2zM145 109h1v0.5h-1zM148.5 109h1.5v0.5h-1.5zM152.5 109h2.5v0.5h-2.5zM159.5 109h1v0.5h-1zM161.5 109h0.5v0.5h-0.5zM8 109.5h0.5v0.5h-0.5zM14.5 109.5h2v0.5h-2zM19.5 109.5h0.5v0.5h-0.5zM46 109.5h1.5v0.5h-1.5zM58 109.5h1v0.5h-1zM73.5 109.5h0.5v0.5h-0.5zM77 109.5h3.5v0.5h-3.5zM86.5 109.5h1.5v0.5h-1.5zM102.5 109.5h0.5v0.5h-0.5zM146 109.5h0.5v0.5h-0.5zM152.5 109.5h4v0.5h-4zM159.5 109.5h1v0.5h-1zM8 110h1v0.5h-1zM14 110h2.5v0.5h-2.5zM19 110h0.5v0.5h-0.5zM46 110h1.5v0.5h-1.5zM58 110h1v0.5h-1zM73.5 110h0.5v0.5h-0.5zM76.5 110h4.5v0.5h-4.5zM86.5 110h2v0.5h-2zM116.5 110h1.5v0.5h-1.5zM152.5 110h5v0.5h-5zM8 110.5h1.5v0.5h-1.5zM14 110.5h2.5v0.5h-2.5zM18.5 110.5h1v0.5h-1zM46 110.5h1.5v0.5h-1.5zM57.5 110.5h1.5v0.5h-1.5zM73 110.5h1v0.5h-1zM75.5 110.5h6v0.5h-6zM86.5 110.5h2v0.5h-2zM116 110.5h2.5v0.5h-2.5zM152 110.5h6v0.5h-6zM8 111h1.5v0.5h-1.5zM13.5 111h2.5v0.5h-2.5zM18 111h1.5v0.5h-1.5zM46 111h1.5v0.5h-1.5zM57.5 111h1v0.5h-1zM73 111h0.5v0.5h-0.5zM75 111h6.5v0.5h-6.5zM87 111h4.5v0.5h-4.5zM116 111h3v0.5h-3zM152 111h6v0.5h-6zM8 111.5h2v0.5h-2zM13.5 111.5h2v0.5h-2zM17.5 111.5h1.5v0.5h-1.5zM32.5 111.5h1.5v0.5h-1.5zM46 111.5h1.5v0.5h-1.5zM57 111.5h1.5v0.5h-1.5zM74.5 111.5h7.5v0.5h-7.5zM87 111.5h6.5v0.5h-6.5zM116 111.5h2.5v0.5h-2.5zM123.5 111.5h2v0.5h-2zM151.5 111.5h3v0.5h-3zM156 111.5h2v0.5h-2zM8 112h3v0.5h-3zM13.5 112h2v0.5h-2zM17 112h1v0.5h-1zM32 112h2v0.5h-2zM46 112h2v0.5h-2zM56.5 112h1.5v0.5h-1.5zM74.5 112h7.5v0.5h-7.5zM87.5 112h2.5v0.5h-2.5zM92.5 112h2v0.5h-2zM117 112h1v0.5h-1zM122.5 112h2v0.5h-2zM151.5 112h2.5v0.5h-2.5zM156 112h2v0.5h-2zM8 112.5h3v0.5h-3zM14 112.5h1v0.5h-1zM16 112.5h1.5v0.5h-1.5zM31.5 112.5h2.5v0.5h-2.5zM46 112.5h2.5v0.5h-2.5zM49.5 112.5h2v0.5h-2zM55.5 112.5h1.5v0.5h-1.5zM75 112.5h7v0.5h-7zM93.5 112.5h1.5v0.5h-1.5zM121.5 112.5h1.5v0.5h-1.5zM152 112.5h1.5v0.5h-1.5zM156 112.5h1.5v0.5h-1.5zM8 113h3v0.5h-3zM15.5 113h1.5v0.5h-1.5zM31.5 113h2.5v0.5h-2.5zM46 113h10.5v0.5h-10.5zM75 113h7v0.5h-7zM94.5 113h1v0.5h-1zM114 113h0.5v0.5h-0.5zM121.5 113h1v0.5h-1zM156 113h1.5v0.5h-1.5zM8 113.5h3v0.5h-3zM15.5 113.5h1v0.5h-1zM46 113.5h10v0.5h-10zM75 113.5h7v0.5h-7zM94.5 113.5h1v0.5h-1zM104.5 113.5h0.5v0.5h-0.5zM113.5 113.5h1.5v0.5h-1.5zM121.5 113.5h0.5v0.5h-0.5zM126 113.5h1v0.5h-1zM156 113.5h1.5v0.5h-1.5zM8 114h3v0.5h-3zM15 114h1v0.5h-1zM26 114h1.5v0.5h-1.5zM46 114h9v0.5h-9zM75 114h7v0.5h-7zM95 114h0.5v0.5h-0.5zM104.5 114h0.5v0.5h-0.5zM113.5 114h1.5v0.5h-1.5zM121 114h1v0.5h-1zM125 114h2.5v0.5h-2.5zM156 114h1.5v0.5h-1.5zM8 114.5h3v0.5h-3zM15 114.5h1v0.5h-1zM25.5 114.5h2.5v0.5h-2.5zM46 114.5h9v0.5h-9zM75 114.5h7v0.5h-7zM93 114.5h0.5v0.5h-0.5zM95 114.5h1v0.5h-1zM104.5 114.5h0.5v0.5h-0.5zM113.5 114.5h1.5v0.5h-1.5zM121 114.5h1v0.5h-1zM124.5 114.5h3.5v0.5h-3.5zM148 114.5h1.5v0.5h-1.5zM156 114.5h1v0.5h-1z" fill="#c9cacc" filter="url(#fblur)"/>
<line x1="8" y1="114.5" x2="164" y2="114.5" stroke="#2a3d58" stroke-width="0.8"/>
<line x1="8" y1="60.3" x2="164" y2="60.3" stroke="#9fc2e6" stroke-width="1"/>
</g>
<rect x="41.5" y="29.8" width="21.3" height="6.2" fill="url(#gPadS)" stroke="none" stroke-width="1" rx="2.2"/>
<rect x="41.5" y="28" width="21.3" height="3.6" fill="url(#gPadT)" stroke="none" stroke-width="1" rx="2.7" ry="1.8"/>
<rect x="65.9" y="29.8" width="21.3" height="6.2" fill="url(#gPadS)" stroke="none" stroke-width="1" rx="2.2"/>
<rect x="65.9" y="28" width="21.3" height="3.6" fill="url(#gPadT)" stroke="none" stroke-width="1" rx="2.7" ry="1.8"/>
<rect x="90.4" y="29.8" width="20.4" height="6.2" fill="url(#gPadS)" stroke="none" stroke-width="1" rx="2.2"/>
<rect x="90.4" y="28" width="20.4" height="3.6" fill="url(#gPadT)" stroke="none" stroke-width="1" rx="2.7" ry="1.8"/>
<rect x="114.2" y="29.8" width="21" height="6.2" fill="url(#gPadS)" stroke="none" stroke-width="1" rx="2.2"/>
<rect x="114.2" y="28" width="21" height="3.6" fill="url(#gPadT)" stroke="none" stroke-width="1" rx="2.7" ry="1.8"/>
<rect x="37.33" y="34.85" width="22.93" height="6.15" fill="url(#gPadS)" stroke="none" stroke-width="1" rx="2.7"/>
<rect x="37.33" y="32.9" width="22.93" height="3.9" fill="url(#gPadT)" stroke="none" stroke-width="1" rx="3.2" ry="1.95"/>
<rect x="63.67" y="34.85" width="22.83" height="6.15" fill="url(#gPadS)" stroke="none" stroke-width="1" rx="2.7"/>
<rect x="63.67" y="32.9" width="22.83" height="3.9" fill="url(#gPadT)" stroke="none" stroke-width="1" rx="3.2" ry="1.95"/>
<rect x="89.7" y="34.85" width="22.07" height="6.15" fill="url(#gPadS)" stroke="none" stroke-width="1" rx="2.7"/>
<rect x="89.7" y="32.9" width="22.07" height="3.9" fill="url(#gPadT)" stroke="none" stroke-width="1" rx="3.2" ry="1.95"/>
<rect x="115.23" y="34.85" width="22.67" height="6.15" fill="url(#gPadS)" stroke="none" stroke-width="1" rx="2.7"/>
<rect x="115.23" y="32.9" width="22.67" height="3.9" fill="url(#gPadT)" stroke="none" stroke-width="1" rx="3.2" ry="1.95"/>
<rect x="33.17" y="40.35" width="24.57" height="6.65" fill="url(#gPadS)" stroke="none" stroke-width="1" rx="3.2"/>
<rect x="33.17" y="38.2" width="24.57" height="4.3" fill="url(#gPadT)" stroke="none" stroke-width="1" rx="3.7" ry="2.15"/>
<rect x="61.43" y="40.35" width="24.37" height="6.65" fill="url(#gPadS)" stroke="none" stroke-width="1" rx="3.2"/>
<rect x="61.43" y="38.2" width="24.37" height="4.3" fill="url(#gPadT)" stroke="none" stroke-width="1" rx="3.7" ry="2.15"/>
<rect x="89" y="40.35" width="23.73" height="6.65" fill="url(#gPadS)" stroke="none" stroke-width="1" rx="3.2"/>
<rect x="89" y="38.2" width="23.73" height="4.3" fill="url(#gPadT)" stroke="none" stroke-width="1" rx="3.7" ry="2.15"/>
<rect x="116.27" y="40.35" width="24.33" height="6.65" fill="url(#gPadS)" stroke="none" stroke-width="1" rx="3.2"/>
<rect x="116.27" y="38.2" width="24.33" height="4.3" fill="url(#gPadT)" stroke="none" stroke-width="1" rx="3.7" ry="2.15"/>
<rect x="29" y="46.5" width="26.2" height="10.1" fill="url(#gPadS)" stroke="none" stroke-width="1" rx="3.7"/>
<rect x="29" y="44" width="26.2" height="5" fill="url(#gPadT)" stroke="none" stroke-width="1" rx="4.2" ry="2.5"/>
<rect x="59.2" y="46.5" width="25.9" height="10.1" fill="url(#gPadS)" stroke="none" stroke-width="1" rx="3.7"/>
<rect x="59.2" y="44" width="25.9" height="5" fill="url(#gPadT)" stroke="none" stroke-width="1" rx="4.2" ry="2.5"/>
<rect x="88.3" y="46.5" width="25.4" height="10.1" fill="url(#gPadS)" stroke="none" stroke-width="1" rx="3.7"/>
<rect x="88.3" y="44" width="25.4" height="5" fill="url(#gPadT)" stroke="none" stroke-width="1" rx="4.2" ry="2.5"/>
<rect x="117.3" y="46.5" width="26" height="10.1" fill="url(#gPadS)" stroke="none" stroke-width="1" rx="3.7"/>
<rect x="117.3" y="44" width="26" height="5" fill="url(#gPadT)" stroke="none" stroke-width="1" rx="4.2" ry="2.5"/>
<text x="101.5" y="57" font-size="8.2" text-anchor="middle" fill="#f4f4f4" stroke="#f4f4f4" stroke-width="0.18">Pt</text>
<text x="85" y="68.3" font-size="8.2" text-anchor="middle" fill="#f4f4f4" stroke="#f4f4f4" stroke-width="0.18">TaO<tspan font-size="5.3" dy="2.4">y</tspan></text>
<text x="86" y="102.5" font-size="8.2" text-anchor="middle" fill="#f4f4f4" stroke="#f4f4f4" stroke-width="0.18">NP TaO<tspan font-size="5.3" dy="2.4">x</tspan></text>
<text x="86.3" y="135" font-size="8.2" text-anchor="middle" fill="#f0f0f0" stroke="#f0f0f0" stroke-width="0.18">Ta</text>
<line x1="126.7" y1="55" x2="126.7" y2="133.8" stroke="#ffffff" stroke-width="1" stroke-dasharray="2.2 1.8"/>
<line x1="135.5" y1="50.8" x2="135.5" y2="127.8" stroke="#ffffff" stroke-width="1" stroke-dasharray="2.2 1.8"/>
<line x1="126.7" y1="55" x2="135.5" y2="50.8" stroke="#ffffff" stroke-width="1" stroke-dasharray="2.2 1.8"/>
<line x1="126.7" y1="133.8" x2="132.8" y2="129.8" stroke="#ffffff" stroke-width="1" stroke-dasharray="2.2 1.8"/>
<line x1="135.5" y1="50.8" x2="163.5" y2="37.2" stroke="#ffffff" stroke-width="1" stroke-dasharray="2.2 1.8"/>
<line x1="132.8" y1="129.8" x2="160.5" y2="144.5" stroke="#ffffff" stroke-width="1" stroke-dasharray="2.2 1.8"/>
<g clip-path="url(#clipTEM)">
<rect x="163.7" y="36.9" width="48.3" height="109.7" fill="#0b0b0b" stroke="none" stroke-width="1"/>
<rect x="163.7" y="36.9" width="48.3" height="36.5" fill="url(#gPt)" stroke="none" stroke-width="1"/>
<rect x="163.7" y="36.9" width="48.3" height="36.5" fill="#000" stroke="none" stroke-width="1" filter="url(#ftem3)"/>
<rect x="163.7" y="36.9" width="48.3" height="36.5" fill="#000" stroke="none" stroke-width="1" filter="url(#ftem1)"/>
<rect x="163.7" y="36.9" width="48.3" height="36.5" fill="#000" stroke="none" stroke-width="1" filter="url(#ftem2)"/>
<rect x="163.7" y="36.9" width="48.3" height="36.5" fill="url(#gPtEdge)" stroke="none" stroke-width="1"/>
<path d="M163.7 71.5 L212 70.5 L212 96.5 Q208 97.8 204 97 Q199 96 195 97.5 Q190 98.5 186 96.5 Q181 95 176 96.3 Q170 97 163.7 95.8 Z" stroke="none" stroke-width="1" fill="url(#gNPt)"/>
<rect x="163.7" y="68.5" width="48.3" height="4.5" fill="#6a6a6a" stroke="none" stroke-width="1" opacity="0.7"/>
<path d="M163.7 73.5 L212 73 L212 96.5 Q208 97.8 204 97 Q199 96 195 97.5 Q190 98.5 186 96.5 Q181 95 176 96.3 Q170 97 163.7 95.8 Z" fill="#000" filter="url(#ftem4)" opacity="0.35"/>
</g>
<line x1="163.7" y1="73.1" x2="212" y2="73.1" stroke="#ffffff" stroke-width="1" stroke-dasharray="2.6 1.7"/>
<text x="203.3" y="55" font-size="7.6" text-anchor="middle" fill="#f0f0f0" stroke="#f0f0f0" stroke-width="0.18">Pt</text>
<text x="202.5" y="66.6" font-size="7.2" text-anchor="middle" fill="#f0f0f0" stroke="#f0f0f0" stroke-width="0.18">TaO</text>
<text x="210" y="68.5" font-size="4.5" text-anchor="middle" fill="#f0f0f0" stroke="#f0f0f0" stroke-width="0.18">y</text>
<path d="M195 66 L191 69.5" stroke="#fff" stroke-width="0.9" fill="none"/>
<path d="M190 70.3 L190.6 67.8 L192.6 69.6 Z" stroke="none" stroke-width="1" fill="#fff"/>
<text x="196.8" y="88.5" font-size="7.2" text-anchor="middle" fill="#f0f0f0" stroke="#f0f0f0" stroke-width="0.18">NP TaO</text>
<text x="210.3" y="90.2" font-size="4.5" text-anchor="middle" fill="#f0f0f0" stroke="#f0f0f0" stroke-width="0.18">x</text>
<circle cx="176.3" cy="88.8" r="5.7" fill="none" stroke="#e8e8e8" stroke-width="0.7" stroke-dasharray="1.3 1.1"/>
<circle cx="205.8" cy="78.2" r="4" fill="none" stroke="#dddddd" stroke-width="0.6" stroke-dasharray="1.1 1"/>
<circle cx="174.5" cy="84.8" r="2" fill="none" stroke="#e0e0e0" stroke-width="0.5" stroke-dasharray="0.8 0.8"/>
<line x1="176" y1="95" x2="173.2" y2="106" stroke="#e8e8e8" stroke-width="0.8"/>
<text x="172" y="114.3" font-size="7.4" text-anchor="middle" fill="#f0f0f0" stroke="#f0f0f0" stroke-width="0.18">Pore</text>
<text x="203.5" y="113" font-size="7.4" text-anchor="middle" fill="#f0f0f0" stroke="#f0f0f0" stroke-width="0.18">Ta</text>
<text x="203" y="138.9" font-size="4.8" text-anchor="middle" fill="#f0f0f0" stroke="#f0f0f0" stroke-width="0.18">20 nm</text>
<rect x="199.4" y="140.6" width="7.3" height="1.6" fill="#fff" stroke="none" stroke-width="1"/>
<line x1="280" y1="144" x2="280" y2="141.5" stroke="#555" stroke-width="0.8"/>
<line x1="301" y1="144" x2="301" y2="142.5" stroke="#555" stroke-width="0.8"/>
<line x1="322" y1="144" x2="322" y2="141.5" stroke="#555" stroke-width="0.8"/>
<line x1="343" y1="144" x2="343" y2="142.5" stroke="#555" stroke-width="0.8"/>
<line x1="364" y1="144" x2="364" y2="141.5" stroke="#555" stroke-width="0.8"/>
<line x1="385" y1="144" x2="385" y2="142.5" stroke="#555" stroke-width="0.8"/>
<line x1="406" y1="144" x2="406" y2="141.5" stroke="#555" stroke-width="0.8"/>
<line x1="427" y1="144" x2="427" y2="142.5" stroke="#555" stroke-width="0.8"/>
<line x1="448" y1="144" x2="448" y2="141.5" stroke="#555" stroke-width="0.8"/>
<line x1="280" y1="126.5" x2="281.5" y2="126.5" stroke="#555" stroke-width="0.8"/>
<line x1="280" y1="108.7" x2="282.5" y2="108.7" stroke="#555" stroke-width="0.8"/>
<line x1="280" y1="90.9" x2="281.5" y2="90.9" stroke="#555" stroke-width="0.8"/>
<line x1="280" y1="73.1" x2="282.5" y2="73.1" stroke="#555" stroke-width="0.8"/>
<line x1="280" y1="55.3" x2="281.5" y2="55.3" stroke="#555" stroke-width="0.8"/>
<line x1="280" y1="37.5" x2="282.5" y2="37.5" stroke="#555" stroke-width="0.8"/>
<line x1="280" y1="19.7" x2="281.5" y2="19.7" stroke="#555" stroke-width="0.8"/>
<line x1="280" y1="138.94" x2="281.4" y2="138.94" stroke="#555" stroke-width="0.5"/>
<line x1="280" y1="135.81" x2="281.4" y2="135.81" stroke="#555" stroke-width="0.5"/>
<line x1="280" y1="133.58" x2="281.4" y2="133.58" stroke="#555" stroke-width="0.5"/>
<line x1="280" y1="131.86" x2="281.4" y2="131.86" stroke="#555" stroke-width="0.5"/>
<line x1="280" y1="130.45" x2="281.4" y2="130.45" stroke="#555" stroke-width="0.5"/>
<line x1="280" y1="129.26" x2="281.4" y2="129.26" stroke="#555" stroke-width="0.5"/>
<line x1="280" y1="128.22" x2="281.4" y2="128.22" stroke="#555" stroke-width="0.5"/>
<line x1="280" y1="127.31" x2="281.4" y2="127.31" stroke="#555" stroke-width="0.5"/>
<line x1="280" y1="121.14" x2="281.4" y2="121.14" stroke="#555" stroke-width="0.5"/>
<line x1="280" y1="118.01" x2="281.4" y2="118.01" stroke="#555" stroke-width="0.5"/>
<line x1="280" y1="115.78" x2="281.4" y2="115.78" stroke="#555" stroke-width="0.5"/>
<line x1="280" y1="114.06" x2="281.4" y2="114.06" stroke="#555" stroke-width="0.5"/>
<line x1="280" y1="112.65" x2="281.4" y2="112.65" stroke="#555" stroke-width="0.5"/>
<line x1="280" y1="111.46" x2="281.4" y2="111.46" stroke="#555" stroke-width="0.5"/>
<line x1="280" y1="110.42" x2="281.4" y2="110.42" stroke="#555" stroke-width="0.5"/>
<line x1="280" y1="109.51" x2="281.4" y2="109.51" stroke="#555" stroke-width="0.5"/>
<line x1="280" y1="103.34" x2="281.4" y2="103.34" stroke="#555" stroke-width="0.5"/>
<line x1="280" y1="100.21" x2="281.4" y2="100.21" stroke="#555" stroke-width="0.5"/>
<line x1="280" y1="97.98" x2="281.4" y2="97.98" stroke="#555" stroke-width="0.5"/>
<line x1="280" y1="96.26" x2="281.4" y2="96.26" stroke="#555" stroke-width="0.5"/>
<line x1="280" y1="94.85" x2="281.4" y2="94.85" stroke="#555" stroke-width="0.5"/>
<line x1="280" y1="93.66" x2="281.4" y2="93.66" stroke="#555" stroke-width="0.5"/>
<line x1="280" y1="92.62" x2="281.4" y2="92.62" stroke="#555" stroke-width="0.5"/>
<line x1="280" y1="91.71" x2="281.4" y2="91.71" stroke="#555" stroke-width="0.5"/>
<line x1="280" y1="85.54" x2="281.4" y2="85.54" stroke="#555" stroke-width="0.5"/>
<line x1="280" y1="82.41" x2="281.4" y2="82.41" stroke="#555" stroke-width="0.5"/>
<line x1="280" y1="80.18" x2="281.4" y2="80.18" stroke="#555" stroke-width="0.5"/>
<line x1="280" y1="78.46" x2="281.4" y2="78.46" stroke="#555" stroke-width="0.5"/>
<line x1="280" y1="77.05" x2="281.4" y2="77.05" stroke="#555" stroke-width="0.5"/>
<line x1="280" y1="75.86" x2="281.4" y2="75.86" stroke="#555" stroke-width="0.5"/>
<line x1="280" y1="74.82" x2="281.4" y2="74.82" stroke="#555" stroke-width="0.5"/>
<line x1="280" y1="73.91" x2="281.4" y2="73.91" stroke="#555" stroke-width="0.5"/>
<line x1="280" y1="67.74" x2="281.4" y2="67.74" stroke="#555" stroke-width="0.5"/>
<line x1="280" y1="64.61" x2="281.4" y2="64.61" stroke="#555" stroke-width="0.5"/>
<line x1="280" y1="62.38" x2="281.4" y2="62.38" stroke="#555" stroke-width="0.5"/>
<line x1="280" y1="60.66" x2="281.4" y2="60.66" stroke="#555" stroke-width="0.5"/>
<line x1="280" y1="59.25" x2="281.4" y2="59.25" stroke="#555" stroke-width="0.5"/>
<line x1="280" y1="58.06" x2="281.4" y2="58.06" stroke="#555" stroke-width="0.5"/>
<line x1="280" y1="57.02" x2="281.4" y2="57.02" stroke="#555" stroke-width="0.5"/>
<line x1="280" y1="56.11" x2="281.4" y2="56.11" stroke="#555" stroke-width="0.5"/>
<line x1="280" y1="49.94" x2="281.4" y2="49.94" stroke="#555" stroke-width="0.5"/>
<line x1="280" y1="46.81" x2="281.4" y2="46.81" stroke="#555" stroke-width="0.5"/>
<line x1="280" y1="44.58" x2="281.4" y2="44.58" stroke="#555" stroke-width="0.5"/>
<line x1="280" y1="42.86" x2="281.4" y2="42.86" stroke="#555" stroke-width="0.5"/>
<line x1="280" y1="41.45" x2="281.4" y2="41.45" stroke="#555" stroke-width="0.5"/>
<line x1="280" y1="40.26" x2="281.4" y2="40.26" stroke="#555" stroke-width="0.5"/>
<line x1="280" y1="39.22" x2="281.4" y2="39.22" stroke="#555" stroke-width="0.5"/>
<line x1="280" y1="38.31" x2="281.4" y2="38.31" stroke="#555" stroke-width="0.5"/>
<line x1="280" y1="32.14" x2="281.4" y2="32.14" stroke="#555" stroke-width="0.5"/>
<line x1="280" y1="29.01" x2="281.4" y2="29.01" stroke="#555" stroke-width="0.5"/>
<line x1="280" y1="26.78" x2="281.4" y2="26.78" stroke="#555" stroke-width="0.5"/>
<line x1="280" y1="25.06" x2="281.4" y2="25.06" stroke="#555" stroke-width="0.5"/>
<line x1="280" y1="23.65" x2="281.4" y2="23.65" stroke="#555" stroke-width="0.5"/>
<line x1="280" y1="22.46" x2="281.4" y2="22.46" stroke="#555" stroke-width="0.5"/>
<line x1="280" y1="21.42" x2="281.4" y2="21.42" stroke="#555" stroke-width="0.5"/>
<line x1="280" y1="20.51" x2="281.4" y2="20.51" stroke="#555" stroke-width="0.5"/>
<text x="280" y="154.3" font-size="8.2" text-anchor="middle" fill="#222" stroke="#222" stroke-width="0.18">-8</text>
<text x="322" y="154.3" font-size="8.2" text-anchor="middle" fill="#222" stroke="#222" stroke-width="0.18">-4</text>
<text x="364" y="154.3" font-size="8.2" text-anchor="middle" fill="#222" stroke="#222" stroke-width="0.18">0</text>
<text x="406" y="154.3" font-size="8.2" text-anchor="middle" fill="#222" stroke="#222" stroke-width="0.18">4</text>
<text x="448" y="154.3" font-size="8.2" text-anchor="middle" fill="#222" stroke="#222" stroke-width="0.18">8</text>
<text x="364" y="165" font-size="8" text-anchor="middle" fill="#222" stroke="#222" stroke-width="0.18">V (V)</text>
<text x="278.3" y="39.6" font-size="8.6" text-anchor="end" fill="#222" stroke="#222" stroke-width="0.18">10<tspan font-size="5.4" dy="-3.4">-6</tspan></text>
<text x="278.3" y="75.2" font-size="8.6" text-anchor="end" fill="#222" stroke="#222" stroke-width="0.18">10<tspan font-size="5.4" dy="-3.4">-8</tspan></text>
<text x="278.3" y="110.8" font-size="8.6" text-anchor="end" fill="#222" stroke="#222" stroke-width="0.18">10<tspan font-size="5.4" dy="-3.4">-10</tspan></text>
<text x="259.2" y="86.5" font-size="8.6" text-anchor="middle" fill="#222" stroke="#222" stroke-width="0.18" transform="rotate(-90 259.2 86.5)">I (A)</text>
<g clip-path="url(#clipc)" fill="none" stroke-linejoin="round" stroke-linecap="round">
<path d="M321 97.6 C323.7 98.45 332.37 101.55 337.2 102.7 C342.03 103.85 345.37 103.92 350 104.5 C354.63 105.08 360.67 105.75 365 106.2 C369.33 106.65 373.33 107.13 376 107.2 C378.67 107.27 379.67 106.87 381 106.6 C382.33 106.33 383.5 105.77 384 105.6" stroke="#111111" stroke-width="1.6" fill="none"/>
<path d="M321 97.6 C322.22 98.15 325.97 99.5 328.3 100.9 C330.63 102.3 333 104.15 335 106 C337 107.85 338.85 110.12 340.3 112 C341.75 113.88 342.7 115.55 343.7 117.3 C344.7 119.05 345.58 120.72 346.3 122.5 C347.02 124.28 347.55 126.25 348 128 C348.45 129.75 348.75 131.22 349 133 C349.25 134.78 349.28 138.87 349.5 138.7 C349.72 138.53 349.93 134.23 350.3 132 C350.67 129.77 350.92 127.22 351.7 125.3 C352.48 123.38 353.62 122.08 355 120.5 C356.38 118.92 358.17 117.1 360 115.8 C361.83 114.5 364.17 113.4 366 112.7 C367.83 112 369.58 111.58 371 111.6 C372.42 111.62 373.55 111.98 374.5 112.8 C375.45 113.62 376.15 115.13 376.7 116.5 C377.25 117.87 377.33 121.58 377.8 121 C378.27 120.42 378.88 115.83 379.5 113 C380.12 110.17 380.48 106.93 381.5 104 C382.52 101.07 384.3 98.68 385.6 95.4 C386.9 92.12 387.77 88.32 389.3 84.3 C390.83 80.28 392.95 75.02 394.8 71.3 C396.65 67.58 398.55 64.17 400.4 62 C402.25 59.83 405.75 57.68 405.9 58.3 C406.05 58.92 402.68 62.92 401.3 65.7 C399.92 68.48 398.83 71.6 397.6 75 C396.37 78.4 394.98 82.7 393.9 86.1 C392.82 89.5 392.08 93 391.1 95.4 C390.12 97.8 389.18 98.98 388 100.5 C386.82 102.02 384.67 103.83 384 104.5" stroke="#111111" stroke-width="1.6" fill="none"/>
<path d="M311.6 96.3 C313.4 96.87 318.13 98.63 322.4 99.7 C326.67 100.77 332.6 101.9 337.2 102.7 C341.8 103.5 345.37 103.92 350 104.5 C354.63 105.08 360.67 105.75 365 106.2 C369.33 106.65 373.33 107.13 376 107.2 C378.67 107.27 379.67 106.87 381 106.6 C382.33 106.33 383.5 105.77 384 105.6" stroke="#e3262b" stroke-width="1.6" fill="none"/>
<path d="M311.6 96.3 C312.17 96.52 313.32 96.65 315 97.6 C316.68 98.55 319.48 100.72 321.7 102 C323.92 103.28 326.08 103.85 328.3 105.3 C330.52 106.75 333.1 108.8 335 110.7 C336.9 112.6 338.37 114.7 339.7 116.7 C341.03 118.7 342.12 120.37 343 122.7 C343.88 125.03 344.52 128.15 345 130.7 C345.48 133.25 345.7 135.78 345.9 138 C346.1 140.22 345.9 144.33 346.2 144 C346.5 143.67 347.23 138.45 347.7 136 C348.17 133.55 348.33 131.52 349 129.3 C349.67 127.08 350.7 124.58 351.7 122.7 C352.7 120.82 353.62 119.37 355 118 C356.38 116.63 358.17 115.5 360 114.5 C361.83 113.5 364 112.63 366 112 C368 111.37 370.33 110.65 372 110.7 C373.67 110.75 375 111.33 376 112.3 C377 113.27 377.57 115.22 378 116.5 C378.43 117.78 378.3 120.58 378.6 120 C378.9 119.42 379.27 116.33 379.8 113 C380.33 109.67 380.93 103.83 381.8 100 C382.67 96.17 383.8 93.17 385 90 C386.2 86.83 387.08 84.58 389 81 C390.92 77.42 393.75 72.25 396.5 68.5 C399.25 64.75 402.38 61.73 405.5 58.5 C408.62 55.27 414.28 49.68 415.2 49.1 C416.12 48.52 412.23 52.85 411 55 C409.77 57.15 409.27 58.98 407.8 62 C406.33 65.02 403.9 69.38 402.2 73.1 C400.5 76.82 398.98 80.58 397.6 84.3 C396.22 88.02 395.17 92.7 393.9 95.4 C392.63 98.1 391.48 98.98 390 100.5 C388.52 102.02 385.83 103.83 385 104.5" stroke="#e3262b" stroke-width="1.6" fill="none"/>
<path d="M300.7 93.3 C301.85 93.8 303.98 95.23 307.6 96.3 C311.22 97.37 317.47 98.63 322.4 99.7 C327.33 100.77 332.6 101.9 337.2 102.7 C341.8 103.5 345.37 103.92 350 104.5 C354.63 105.08 360.67 105.75 365 106.2 C369.33 106.65 373.33 107.13 376 107.2 C378.67 107.27 379.67 106.87 381 106.6 C382.33 106.33 383.5 105.77 384 105.6" stroke="#2b4fb5" stroke-width="1.6" fill="none"/>
<path d="M300.7 93.3 C301.85 93.88 305.22 95.68 307.6 96.8 C309.98 97.92 312.65 98.8 315 100 C317.35 101.2 319.48 102.78 321.7 104 C323.92 105.22 326.08 105.97 328.3 107.3 C330.52 108.63 333.1 110.22 335 112 C336.9 113.78 338.48 116 339.7 118 C340.92 120 341.63 121.67 342.3 124 C342.97 126.33 343.37 128.67 343.7 132 C344.03 135.33 343.97 143.33 344.3 144 C344.63 144.67 345.25 138.67 345.7 136 C346.15 133.33 346.28 130.45 347 128 C347.72 125.55 348.67 123.3 350 121.3 C351.33 119.3 353 117.47 355 116 C357 114.53 359.5 113.42 362 112.5 C364.5 111.58 367.83 110.67 370 110.5 C372.17 110.33 373.75 110.42 375 111.5 C376.25 112.58 376.9 114.58 377.5 117 C378.1 119.42 378.35 122.53 378.6 126 C378.85 129.47 378.85 137.8 379 137.8 C379.15 137.8 379.23 130.13 379.5 126 C379.77 121.87 380.25 117.4 380.6 113 C380.95 108.6 380.98 103.35 381.6 99.6 C382.22 95.85 383.2 93.55 384.3 90.5 C385.4 87.45 386.32 85.28 388.2 81.3 C390.08 77.32 392.8 70.88 395.6 66.6 C398.4 62.32 401.35 59.1 405 55.6 C408.65 52.1 413.8 48.12 417.5 45.6 C421.2 43.08 426.67 40.23 427.2 40.5 C427.73 40.77 423.02 44.53 420.7 47.2 C418.38 49.87 415.77 53.25 413.3 56.5 C410.83 59.75 408.22 63 405.9 66.7 C403.58 70.4 401.25 74.85 399.4 78.7 C397.55 82.55 396.12 86.67 394.8 89.8 C393.48 92.93 392.8 95.38 391.5 97.5 C390.2 99.62 388.42 101.2 387 102.5 C385.58 103.8 383.67 104.83 383 105.3" stroke="#2b4fb5" stroke-width="1.6" fill="none"/>
<path d="M294.8 91.8 C296.93 92.55 303 94.98 307.6 96.3 C312.2 97.62 317.47 98.63 322.4 99.7 C327.33 100.77 332.6 101.9 337.2 102.7 C341.8 103.5 345.37 103.92 350 104.5 C354.63 105.08 360.67 105.75 365 106.2 C369.33 106.65 373.33 107.13 376 107.2 C378.67 107.27 379.67 106.87 381 106.6 C382.33 106.33 383.5 105.77 384 105.6" stroke="#b25fc2" stroke-width="1.6" fill="none"/>
<path d="M294.8 91.8 C295.67 92.17 297.87 92.97 300 94 C302.13 95.03 305.1 96.75 307.6 98 C310.1 99.25 312.65 100.33 315 101.5 C317.35 102.67 319.48 103.83 321.7 105 C323.92 106.17 326.08 107.17 328.3 108.5 C330.52 109.83 333.17 111.33 335 113 C336.83 114.67 338.17 116.5 339.3 118.5 C340.43 120.5 341.18 122.75 341.8 125 C342.42 127.25 342.7 128.83 343 132 C343.3 135.17 343.27 143.5 343.6 144 C343.93 144.5 344.52 137.83 345 135 C345.48 132.17 345.75 129.33 346.5 127 C347.25 124.67 348.08 122.92 349.5 121 C350.92 119.08 352.92 117 355 115.5 C357.08 114 359.5 112.92 362 112 C364.5 111.08 367.83 110.17 370 110 C372.17 109.83 373.73 110 375 111 C376.27 112 376.93 113.83 377.6 116 C378.27 118.17 378.7 121.5 379 124 C379.3 126.5 379.27 131 379.4 131 C379.53 131 379.65 127.17 379.8 124 C379.95 120.83 380.12 116.15 380.3 112 C380.48 107.85 380.37 102.77 380.9 99.1 C381.43 95.43 382.42 93.08 383.5 90 C384.58 86.92 385.52 84.65 387.4 80.6 C389.28 76.55 392.02 70.03 394.8 65.7 C397.58 61.37 400.4 58.15 404.1 54.6 C407.8 51.05 413.35 46.97 417 44.4 C420.65 41.83 423.07 40.77 426 39.2 C428.93 37.63 434.25 34.28 434.6 35 C434.95 35.72 431.03 40.23 428.1 43.5 C425.17 46.77 420.18 50.93 417 54.6 C413.82 58.27 411.42 61.77 409 65.5 C406.58 69.23 404.42 73.25 402.5 77 C400.58 80.75 399 84.67 397.5 88 C396 91.33 395.08 94.58 393.5 97 C391.92 99.42 389.75 101.08 388 102.5 C386.25 103.92 383.83 105 383 105.5" stroke="#b25fc2" stroke-width="1.6" fill="none"/>
<path d="M278.5 87.6 C280.08 88.15 284.92 89.87 288 90.9 C291.08 91.93 293.73 92.9 297 93.8 C300.27 94.7 303.37 95.32 307.6 96.3 C311.83 97.28 317.47 98.63 322.4 99.7 C327.33 100.77 332.6 101.9 337.2 102.7 C341.8 103.5 345.37 103.92 350 104.5 C354.63 105.08 360.67 105.75 365 106.2 C369.33 106.65 373.33 107.13 376 107.2 C378.67 107.27 379.67 106.87 381 106.6 C382.33 106.33 383.5 105.77 384 105.6" stroke="#1d8a3e" stroke-width="1.6" fill="none"/>
<path d="M278.5 87.6 C280.07 88.23 284.82 90.08 287.9 91.4 C290.98 92.72 293.72 94.12 297 95.5 C300.28 96.88 304.6 98.62 307.6 99.7 C310.6 100.78 312.65 101.07 315 102 C317.35 102.93 319.48 104.18 321.7 105.3 C323.92 106.42 326.08 107.37 328.3 108.7 C330.52 110.03 333.22 111.63 335 113.3 C336.78 114.97 337.92 116.7 339 118.7 C340.08 120.7 340.92 123.08 341.5 125.3 C342.08 127.52 342.25 128.88 342.5 132 C342.75 135.12 342.7 143.33 343 144 C343.3 144.67 343.85 138.67 344.3 136 C344.75 133.33 345.03 130.33 345.7 128 C346.37 125.67 347.3 123.67 348.3 122 C349.3 120.33 350.58 119.22 351.7 118 C352.82 116.78 353.28 115.73 355 114.7 C356.72 113.67 359.5 112.65 362 111.8 C364.5 110.95 367.83 109.93 370 109.6 C372.17 109.27 373.67 109.08 375 109.8 C376.33 110.52 377.28 112.37 378 113.9 C378.72 115.43 378.92 119.32 379.3 119 C379.68 118.68 380.03 115.32 380.3 112 C380.57 108.68 380.37 102.77 380.9 99.1 C381.43 95.43 382.42 93.08 383.5 90 C384.58 86.92 385.52 84.65 387.4 80.6 C389.28 76.55 392.02 70.03 394.8 65.7 C397.58 61.37 400.4 58.15 404.1 54.6 C407.8 51.05 412.68 47.33 417 44.4 C421.32 41.47 425.98 39.3 430 37 C434.02 34.7 438.1 32.18 441.1 30.6 C444.1 29.02 448 27.05 448 27.5 C448 27.95 443.78 30.93 441.1 33.3 C438.42 35.67 434.98 38.92 431.9 41.7 C428.82 44.48 425.7 46.62 422.6 50 C419.5 53.38 416.08 58.15 413.3 62 C410.52 65.85 408.05 69.38 405.9 73.1 C403.75 76.82 402.1 80.58 400.4 84.3 C398.7 88.02 397.27 92.53 395.7 95.4 C394.13 98.27 392.78 99.93 391 101.5 C389.22 103.07 386.58 104.08 385 104.8 C383.42 105.52 382.08 105.63 381.5 105.8" stroke="#1d8a3e" stroke-width="1.6" fill="none"/>
</g>
<rect x="280" y="18.5" width="168" height="125.5" fill="none" stroke="#6a6a6a" stroke-width="0.9"/>
<text x="437" y="96" font-size="8" text-anchor="middle" fill="#222" stroke="#222" stroke-width="0.18">|<tspan font-style="italic">V</tspan><tspan font-size="5" dy="1.5" font-style="italic">a</tspan><tspan dy="-1.5">|</tspan></text>
<line x1="415" y1="103.1" x2="429.3" y2="103.1" stroke="#111111" stroke-width="1.8"/>
<text x="432.3" y="105.7" font-size="7" text-anchor="start" fill="#222" stroke="#222" stroke-width="0.18">4 V</text>
<line x1="415" y1="110.7" x2="429.3" y2="110.7" stroke="#e3262b" stroke-width="1.8"/>
<text x="432.3" y="113.3" font-size="7" text-anchor="start" fill="#222" stroke="#222" stroke-width="0.18">5 V</text>
<line x1="415" y1="118.3" x2="429.3" y2="118.3" stroke="#2b4fb5" stroke-width="1.8"/>
<text x="432.3" y="120.9" font-size="7" text-anchor="start" fill="#222" stroke="#222" stroke-width="0.18">6 V</text>
<line x1="415" y1="125.9" x2="429.3" y2="125.9" stroke="#b25fc2" stroke-width="1.8"/>
<text x="432.3" y="128.5" font-size="7" text-anchor="start" fill="#222" stroke="#222" stroke-width="0.18">7 V</text>
<line x1="415" y1="133.5" x2="429.3" y2="133.5" stroke="#1d8a3e" stroke-width="1.8"/>
<text x="432.3" y="136.1" font-size="7" text-anchor="start" fill="#222" stroke="#222" stroke-width="0.18">8 V</text>
<rect x="300.8" y="23.3" width="70.5" height="55.3" fill="#fff" stroke="#6a6a6a" stroke-width="0.9"/>
<line x1="304.8" y1="78.6" x2="304.8" y2="76.8" stroke="#555" stroke-width="0.7"/>
<line x1="312.6" y1="78.6" x2="312.6" y2="77.4" stroke="#555" stroke-width="0.7"/>
<line x1="320.4" y1="78.6" x2="320.4" y2="76.8" stroke="#555" stroke-width="0.7"/>
<line x1="328.2" y1="78.6" x2="328.2" y2="77.4" stroke="#555" stroke-width="0.7"/>
<line x1="336" y1="78.6" x2="336" y2="76.8" stroke="#555" stroke-width="0.7"/>
<line x1="343.8" y1="78.6" x2="343.8" y2="77.4" stroke="#555" stroke-width="0.7"/>
<line x1="351.6" y1="78.6" x2="351.6" y2="76.8" stroke="#555" stroke-width="0.7"/>
<line x1="359.4" y1="78.6" x2="359.4" y2="77.4" stroke="#555" stroke-width="0.7"/>
<line x1="367.2" y1="78.6" x2="367.2" y2="76.8" stroke="#555" stroke-width="0.7"/>
<text x="304.8" y="85.5" font-size="6.3" text-anchor="middle" fill="#222" stroke="#222" stroke-width="0.18">-8</text>
<text x="320.4" y="85.5" font-size="6.3" text-anchor="middle" fill="#222" stroke="#222" stroke-width="0.18">-4</text>
<text x="336" y="85.5" font-size="6.3" text-anchor="middle" fill="#222" stroke="#222" stroke-width="0.18">0</text>
<text x="351.6" y="85.5" font-size="6.3" text-anchor="middle" fill="#222" stroke="#222" stroke-width="0.18">4</text>
<text x="367.2" y="85.5" font-size="6.3" text-anchor="middle" fill="#222" stroke="#222" stroke-width="0.18">8</text>
<line x1="300.8" y1="75.6" x2="302.6" y2="75.6" stroke="#555" stroke-width="0.7"/>
<text x="297.8" y="77.8" font-size="6.3" text-anchor="end" fill="#222" stroke="#222" stroke-width="0.18">0</text>
<line x1="300.8" y1="61.8" x2="302.6" y2="61.8" stroke="#555" stroke-width="0.7"/>
<text x="297.8" y="64" font-size="6.3" text-anchor="end" fill="#222" stroke="#222" stroke-width="0.18">1</text>
<line x1="300.8" y1="48" x2="302.6" y2="48" stroke="#555" stroke-width="0.7"/>
<text x="297.8" y="50.2" font-size="6.3" text-anchor="end" fill="#222" stroke="#222" stroke-width="0.18">2</text>
<line x1="300.8" y1="34.2" x2="302.6" y2="34.2" stroke="#555" stroke-width="0.7"/>
<text x="297.8" y="36.4" font-size="6.3" text-anchor="end" fill="#222" stroke="#222" stroke-width="0.18">3</text>
<text x="336.5" y="92.5" font-size="6.5" text-anchor="middle" fill="#222" stroke="#222" stroke-width="0.18">V (V)</text>
<text x="291.6" y="51.5" font-size="7.3" text-anchor="middle" fill="#222" stroke="#222" stroke-width="0.18" transform="rotate(-90 291.6 51.5)">I (μA )</text>
<path d="M304.8 75.6 C311.3 75.6 336.23 75.67 343.8 75.6 C351.37 75.53 348.15 76.42 350.2 75.2 C352.25 73.98 354.45 71.08 356.1 68.3 C357.75 65.52 358.95 61.78 360.1 58.5 C361.25 55.22 362.18 51.9 363 48.6 C363.82 45.3 364.3 42 365 38.7 C365.7 35.4 366.97 27.82 367.2 28.8 C367.43 29.78 366.77 40.32 366.4 44.6 C366.03 48.88 365.57 51.53 365 54.5 C364.43 57.47 363.98 59.77 363 62.4 C362.02 65.03 360.75 68.18 359.1 70.3 C357.45 72.42 355.33 74.18 353.1 75.1 C350.88 76.02 353.8 75.68 345.75 75.8 C337.7 75.92 311.62 75.8 304.8 75.8" stroke="#1d8a3e" stroke-width="1.3" fill="none" stroke-linejoin="round"/>
<line x1="499.5" y1="28.4" x2="508.4" y2="122.5" stroke="#555" stroke-width="0.7"/>
<line x1="499.5" y1="28.4" x2="586" y2="6.7" stroke="#555" stroke-width="0.7"/>
<line x1="586" y1="6.7" x2="668" y2="30.4" stroke="#555" stroke-width="0.7"/>
<line x1="668" y1="30.4" x2="660.7" y2="124.2" stroke="#555" stroke-width="0.7"/>
<line x1="586" y1="6.7" x2="586.4" y2="95" stroke="#555" stroke-width="0.7"/>
<line x1="508.4" y1="122.5" x2="586.4" y2="92.5" stroke="#555" stroke-width="0.7"/>
<line x1="660.7" y1="124.2" x2="619.4" y2="104.4" stroke="#555" stroke-width="0.7"/>
<line x1="508.6" y1="123" x2="577.2" y2="166.5" stroke="#3a2a22" stroke-width="1.2"/>
<line x1="577.2" y1="166.5" x2="660.8" y2="124.8" stroke="#3a2a22" stroke-width="1.2"/>
<line x1="522.32" y1="131.7" x2="523.12" y2="129.9" stroke="#3a2a22" stroke-width="0.8"/>
<line x1="536.04" y1="140.4" x2="536.84" y2="138.6" stroke="#3a2a22" stroke-width="0.8"/>
<line x1="549.76" y1="149.1" x2="550.56" y2="147.3" stroke="#3a2a22" stroke-width="0.8"/>
<line x1="563.48" y1="157.8" x2="564.28" y2="156" stroke="#3a2a22" stroke-width="0.8"/>
<line x1="585.56" y1="162.33" x2="585.06" y2="160.53" stroke="#3a2a22" stroke-width="0.8"/>
<line x1="602.28" y1="153.99" x2="601.78" y2="152.19" stroke="#3a2a22" stroke-width="0.8"/>
<line x1="619" y1="145.65" x2="618.5" y2="143.85" stroke="#3a2a22" stroke-width="0.8"/>
<line x1="635.72" y1="137.31" x2="635.22" y2="135.51" stroke="#3a2a22" stroke-width="0.8"/>
<line x1="652.44" y1="128.97" x2="651.94" y2="127.17" stroke="#3a2a22" stroke-width="0.8"/>
<text x="503.3" y="127.6" font-size="6.1" text-anchor="middle" fill="#333" stroke="#333" stroke-width="0.18" transform="rotate(33 503.3 127.6)">0</text>
<text x="515.6" y="135.3" font-size="6.1" text-anchor="middle" fill="#333" stroke="#333" stroke-width="0.18" transform="rotate(33 515.6 135.3)">200</text>
<text x="530.7" y="144.2" font-size="6.1" text-anchor="middle" fill="#333" stroke="#333" stroke-width="0.18" transform="rotate(33 530.7 144.2)">400</text>
<text x="544.4" y="152.7" font-size="6.1" text-anchor="middle" fill="#333" stroke="#333" stroke-width="0.18" transform="rotate(33 544.4 152.7)">600</text>
<text x="558.2" y="160.9" font-size="6.1" text-anchor="middle" fill="#333" stroke="#333" stroke-width="0.18" transform="rotate(33 558.2 160.9)">800</text>
<text x="523.3" y="151.4" font-size="6.1" text-anchor="middle" fill="#333" stroke="#333" stroke-width="0.18" transform="rotate(35 523.3 151.4)"># of sweeps</text>
<text x="597" y="167.5" font-size="6.1" text-anchor="middle" fill="#333" stroke="#333" stroke-width="0.18" transform="rotate(-27 597 167.5)">-4</text>
<text x="613.9" y="158" font-size="6.1" text-anchor="middle" fill="#333" stroke="#333" stroke-width="0.18" transform="rotate(-27 613.9 158)">-2</text>
<text x="628.9" y="149.8" font-size="6.1" text-anchor="middle" fill="#333" stroke="#333" stroke-width="0.18" transform="rotate(-27 628.9 149.8)">0</text>
<text x="644.5" y="141.7" font-size="6.1" text-anchor="middle" fill="#333" stroke="#333" stroke-width="0.18" transform="rotate(-27 644.5 141.7)">2</text>
<text x="659.4" y="133.5" font-size="6.1" text-anchor="middle" fill="#333" stroke="#333" stroke-width="0.18" transform="rotate(-27 659.4 133.5)">4</text>
<text x="636.3" y="155.5" font-size="6.1" text-anchor="middle" fill="#333" stroke="#333" stroke-width="0.18" transform="rotate(-27 636.3 155.5)">V (V)</text>
<text x="666.89" y="49.9" font-size="6.6" fill="#333" stroke="#333" stroke-width="0.15">10<tspan font-size="4.3" dy="-2.6">-8</tspan></text>
<line x1="663.15" y1="47.3" x2="665.65" y2="47.3" stroke="#555" stroke-width="0.6"/>
<text x="665.37" y="69.4" font-size="6.6" fill="#333" stroke="#333" stroke-width="0.15">10<tspan font-size="4.3" dy="-2.6">-9</tspan></text>
<line x1="661.63" y1="66.8" x2="664.13" y2="66.8" stroke="#555" stroke-width="0.6"/>
<text x="663.82" y="89.3" font-size="6.6" fill="#333" stroke="#333" stroke-width="0.15">10<tspan font-size="4.3" dy="-2.6">-10</tspan></text>
<line x1="660.08" y1="86.7" x2="662.58" y2="86.7" stroke="#555" stroke-width="0.6"/>
<text x="662.32" y="108.6" font-size="6.6" fill="#333" stroke="#333" stroke-width="0.15">10<tspan font-size="4.3" dy="-2.6">-11</tspan></text>
<line x1="658.57" y1="106" x2="661.07" y2="106" stroke="#555" stroke-width="0.6"/>
<text x="660.94" y="126.3" font-size="6.6" fill="#333" stroke="#333" stroke-width="0.15">10<tspan font-size="4.3" dy="-2.6">-12</tspan></text>
<line x1="657.19" y1="123.7" x2="659.69" y2="123.7" stroke="#555" stroke-width="0.6"/>
<text x="679.2" y="86.5" font-size="6.6" text-anchor="middle" fill="#333" stroke="#333" stroke-width="0.18" transform="rotate(90 679.2 86.5)">I (A)</text>
<path d="M578 13.5 C579.75 12.5 582.67 14.45 585 15 C587.33 15.55 591.32 14.33 592 16.8 C592.68 19.27 589.95 25.17 589.1 29.8 C588.25 34.43 587.77 40.15 586.9 44.6 C586.03 49.05 585.15 53.03 583.9 56.5 C582.65 59.97 580.88 63.18 579.4 65.4 C577.92 67.62 576.73 68.87 575 69.8 C573.27 70.73 571.17 71.97 569 71 C566.83 70.03 562.92 66.67 562 64 C561.08 61.33 562.75 58.17 563.5 55 C564.25 51.83 565.33 48.83 566.5 45 C567.67 41.17 569.17 36 570.5 32 C571.83 28 573.25 24.08 574.5 21 C575.75 17.92 576.25 14.5 578 13.5 Z" stroke="none" stroke-width="1" fill="url(#pDiag)"/>
<path d="M563.9 55.5 C568.12 54.33 580.48 53.77 582.3 55.5 C584.12 57.23 576.95 63.05 574.8 65.9 C572.65 68.75 572 70.45 569.4 72.6 C566.8 74.75 561.92 76.53 559.2 78.8 C556.48 81.07 554.57 84.28 553.1 86.2 C551.63 88.12 551.42 89.4 550.4 90.3 C549.38 91.2 548.13 92.28 547 91.6 C545.87 90.92 544.62 88.68 543.6 86.2 C542.58 83.72 539.77 79.42 540.9 76.7 C542.03 73.98 547.72 72.27 550.4 69.9 C553.08 67.53 554.75 64.9 557 62.5 C559.25 60.1 559.68 56.67 563.9 55.5 Z" stroke="none" stroke-width="1" fill="url(#pMesh)"/>
<path d="M561.5 68 C563.63 66.17 572.3 65 574.8 66 C577.3 67 576.38 71.33 576.5 74 C576.62 76.67 577.08 80.75 575.5 82 C573.92 83.25 569.25 82.33 567 81.5 C564.75 80.67 562.92 79.25 562 77 C561.08 74.75 559.37 69.83 561.5 68 Z" stroke="none" stroke-width="1" fill="url(#pVert)"/>
<path d="M513.8 70.6 C516.47 70.13 523.9 70.57 530 70.4 C536.1 70.23 544.75 69.08 550.4 69.6 C556.05 70.12 560.52 72.27 563.9 73.5 C567.28 74.73 569.18 75.82 570.7 77 C572.22 78.18 573.22 80.05 573 80.6 C572.78 81.15 572.05 81.13 569.4 80.3 C566.75 79.47 561.4 76.38 557.1 75.6 C552.8 74.82 548.12 75.6 543.6 75.6 C539.08 75.6 534.93 76 530 75.6 C525.07 75.2 516.7 74.03 514 73.2 C511.3 72.37 511.13 71.07 513.8 70.6 Z" stroke="none" stroke-width="1" fill="url(#pBand)"/>
<path d="M513.8 70.8 C516.5 70.75 523.9 70.67 530 70.5 C536.1 70.33 544.75 69.27 550.4 69.8 C556.05 70.33 560.52 72.47 563.9 73.7 C567.28 74.93 569.18 76.08 570.7 77.2 C572.22 78.32 572.62 79.87 573 80.4" stroke="#111" stroke-width="1" fill="none"/>
<path d="M572.8 99.8 C575.82 99.38 585 97.87 590.9 97.3 C596.8 96.73 603.02 96.12 608.2 96.4 C613.38 96.68 618.27 97.7 622 99 C625.73 100.3 628.9 102.32 630.6 104.2 C632.3 106.08 631.93 109.28 632.2 110.3" stroke="#111" stroke-width="1" fill="none"/>
<path d="M512.5 61.1 L526.1 67.6 L526.1 69.8 L515.2 71.1 Z" stroke="none" stroke-width="1" fill="url(#pDiag2)"/>
<path d="M513.5 72.5 C513.72 72.98 518.88 75.03 521.3 76.7 C523.72 78.37 526.12 80.18 528 82.5 C529.88 84.82 531.38 87.43 532.6 90.6 C533.82 93.77 534.58 98.88 535.3 101.5 C536.02 104.12 535.7 105.42 536.9 106.3 C538.1 107.18 540.5 106.7 542.5 106.8 C544.5 106.9 548.02 108.25 548.9 106.9 C549.78 105.55 548.25 101.52 547.8 98.7 C547.35 95.88 546.97 92.62 546.2 90 C545.43 87.38 544.48 84.95 543.2 83 C541.92 81.05 540.7 79.5 538.5 78.3 C536.3 77.1 533.08 76.55 530 75.8 C526.92 75.05 522.75 74.35 520 73.8 C517.25 73.25 513.28 72.02 513.5 72.5 Z" stroke="none" stroke-width="1" fill="url(#pHor)"/>
<path d="M640.4 34.6 C642.03 34.07 645.53 35.98 648 36.6 C650.47 37.22 654.12 37.52 655.2 38.3 C656.28 39.08 655.12 39.32 654.5 41.3 C653.88 43.28 652.73 46.73 651.5 50.2 C650.27 53.67 648.45 58.15 647.1 62.1 C645.75 66.05 644.33 70.2 643.4 73.9 C642.47 77.6 643.07 81.28 641.5 84.3 C639.93 87.32 637.25 89.55 634 92 C630.75 94.45 625.15 96.68 622 99 C618.85 101.32 617.12 103.32 615.1 105.9 C613.08 108.48 611.2 111.33 609.9 114.5 C608.6 117.67 607.85 121.15 607.3 124.9 C606.75 128.65 606.72 133.48 606.6 137 C606.48 140.52 608.03 144.47 606.6 146 C605.17 147.53 599.52 147.2 598 146.2 C596.48 145.2 597.53 142.4 597.5 140 C597.47 137.6 597.47 134.88 597.8 131.8 C598.13 128.72 598.63 124.95 599.5 121.5 C600.37 118.05 600.98 114.57 603 111.1 C605.02 107.63 609.1 103.88 611.6 100.7 C614.1 97.52 616.05 94.73 618 92 C619.95 89.27 621.92 88.05 623.3 84.3 C624.68 80.55 624.93 74.43 626.3 69.5 C627.67 64.57 629.52 59.65 631.5 54.7 C633.48 49.75 636.72 43.15 638.2 39.8 C639.68 36.45 638.77 35.13 640.4 34.6 Z" stroke="none" stroke-width="1" fill="#fff"/>
<path d="M640.4 34.6 C642.03 34.07 645.53 35.98 648 36.6 C650.47 37.22 654.12 37.52 655.2 38.3 C656.28 39.08 655.12 39.32 654.5 41.3 C653.88 43.28 652.73 46.73 651.5 50.2 C650.27 53.67 648.45 58.15 647.1 62.1 C645.75 66.05 644.33 70.2 643.4 73.9 C642.47 77.6 643.07 81.28 641.5 84.3 C639.93 87.32 637.25 89.55 634 92 C630.75 94.45 625.15 96.68 622 99 C618.85 101.32 617.12 103.32 615.1 105.9 C613.08 108.48 611.2 111.33 609.9 114.5 C608.6 117.67 607.85 121.15 607.3 124.9 C606.75 128.65 606.72 133.48 606.6 137 C606.48 140.52 608.03 144.47 606.6 146 C605.17 147.53 599.52 147.2 598 146.2 C596.48 145.2 597.53 142.4 597.5 140 C597.47 137.6 597.47 134.88 597.8 131.8 C598.13 128.72 598.63 124.95 599.5 121.5 C600.37 118.05 600.98 114.57 603 111.1 C605.02 107.63 609.1 103.88 611.6 100.7 C614.1 97.52 616.05 94.73 618 92 C619.95 89.27 621.92 88.05 623.3 84.3 C624.68 80.55 624.93 74.43 626.3 69.5 C627.67 64.57 629.52 59.65 631.5 54.7 C633.48 49.75 636.72 43.15 638.2 39.8 C639.68 36.45 638.77 35.13 640.4 34.6 Z" stroke="none" stroke-width="1" fill="url(#pR1)"/>
<path d="M640.4 34.6 C642.03 34.07 645.53 35.98 648 36.6 C650.47 37.22 654.12 37.52 655.2 38.3 C656.28 39.08 655.12 39.32 654.5 41.3 C653.88 43.28 652.73 46.73 651.5 50.2 C650.27 53.67 648.45 58.15 647.1 62.1 C645.75 66.05 644.33 70.2 643.4 73.9 C642.47 77.6 643.07 81.28 641.5 84.3 C639.93 87.32 637.25 89.55 634 92 C630.75 94.45 625.15 96.68 622 99 C618.85 101.32 617.12 103.32 615.1 105.9 C613.08 108.48 611.2 111.33 609.9 114.5 C608.6 117.67 607.85 121.15 607.3 124.9 C606.75 128.65 606.72 133.48 606.6 137 C606.48 140.52 608.03 144.47 606.6 146 C605.17 147.53 599.52 147.2 598 146.2 C596.48 145.2 597.53 142.4 597.5 140 C597.47 137.6 597.47 134.88 597.8 131.8 C598.13 128.72 598.63 124.95 599.5 121.5 C600.37 118.05 600.98 114.57 603 111.1 C605.02 107.63 609.1 103.88 611.6 100.7 C614.1 97.52 616.05 94.73 618 92 C619.95 89.27 621.92 88.05 623.3 84.3 C624.68 80.55 624.93 74.43 626.3 69.5 C627.67 64.57 629.52 59.65 631.5 54.7 C633.48 49.75 636.72 43.15 638.2 39.8 C639.68 36.45 638.77 35.13 640.4 34.6 Z" stroke="none" stroke-width="1" fill="url(#pR2)"/>
<path d="M572.8 99.6 C575.82 98.85 585 97.67 590.9 97.1 C596.8 96.53 603.02 95.92 608.2 96.2 C613.38 96.48 618.27 97.5 622 98.8 C625.73 100.1 628.9 102.05 630.6 104 C632.3 105.95 632.2 109.07 632.2 110.5 C632.2 111.93 633.17 113.48 630.6 112.6 C628.03 111.72 621.98 106.57 616.8 105.2 C611.62 103.83 604.68 104.82 599.5 104.4 C594.32 103.98 590.15 103.17 585.7 102.7 C581.25 102.23 574.95 102.12 572.8 101.6 C570.65 101.08 569.78 100.35 572.8 99.6 Z" stroke="none" stroke-width="1" fill="url(#pBand)"/>
<path d="M572.8 100.5 C574.27 100.92 579.28 102.58 582.3 104.5 C585.32 106.42 588.75 109.25 590.9 112 C593.05 114.75 594.05 117.7 595.2 121 C596.35 124.3 597.23 127.63 597.8 131.8 C598.37 135.97 599.07 143.6 598.6 146 C598.13 148.4 595.93 148.37 595 146.2 C594.07 144.03 593.83 136.87 593 133 C592.17 129.13 591.17 126.08 590 123 C588.83 119.92 587.67 117.17 586 114.5 C584.33 111.83 582.08 109.08 580 107 C577.92 104.92 574.7 103.08 573.5 102 C572.3 100.92 571.33 100.08 572.8 100.5 Z" stroke="none" stroke-width="1" fill="url(#pVert)"/>
<path d="M596.5 124 L607.5 124 L607.3 146.5 L596.8 146.5 Z" stroke="none" stroke-width="1" fill="url(#pVert)" opacity="0.8"/>
<path d="M616.8 102.5 L630.6 104.5 L631 114.5 L623 112 L616.8 110 Z" stroke="none" stroke-width="1" fill="url(#pVert)"/>
<path d="M572.6 90.2 L585.9 91 L586 99 L581 100.6 L574 99.5 Z" stroke="none" stroke-width="1" fill="url(#pDiag2)"/>
<path d="M586.9 74.3 C587.75 72.57 590.53 67.62 592 63.9 C593.47 60.18 594.08 56.45 595.7 52 C597.32 47.55 599.83 42.13 601.7 37.2 C603.57 32.27 606.42 22.4 606.9 22.4 C607.38 22.4 605.72 32.27 604.6 37.2 C603.48 42.13 601.8 47.3 600.2 52 C598.6 56.7 596.48 62.18 595 65.4 C593.52 68.62 592.47 69.62 591.3 71.3 C590.13 72.98 589.88 73.72 588 75.5 C586.12 77.28 582.67 79.92 580 82 C577.33 84.08 573.33 87 572 88" stroke="#0a0a0a" stroke-width="0.85" fill="none"/>
<path d="M605.4 75 C605.88 73.65 607.07 70.23 608.3 66.9 C609.53 63.57 611.18 59.2 612.8 55 C614.42 50.8 616.15 46.15 618 41.7 C619.85 37.25 623.28 28.3 623.9 28.3 C624.52 28.3 622.68 37 621.7 41.7 C620.72 46.4 619.37 52.07 618 56.5 C616.63 60.93 614.62 65.22 613.5 68.3 C612.38 71.38 612.05 73.05 611.3 75 C610.55 76.95 609.88 78.17 609 80 C608.12 81.83 607.13 83.57 606 86 C604.87 88.43 602.83 93.17 602.2 94.6" stroke="#0a0a0a" stroke-width="0.85" fill="none"/>
<path d="M595.6 65 C594.35 66.48 591.07 71.18 588.1 73.9 C585.13 76.62 581 78.58 577.8 81.3 C574.6 84.02 571.37 87.23 568.9 90.2 C566.43 93.17 564.48 96.88 563 99.1 C561.52 101.32 561.17 102.35 560 103.5 C558.83 104.65 556.67 105.58 556 106" stroke="#0a0a0a" stroke-width="0.85" fill="none"/>
<path d="M608.9 65 C608.15 66.98 606.38 73.68 604.4 76.9 C602.42 80.12 599.47 81.97 597 84.3 C594.53 86.63 592.07 88.93 589.6 90.9 C587.13 92.87 584.47 94.58 582.2 96.1 C579.93 97.62 577.03 99.35 576 100" stroke="#0a0a0a" stroke-width="0.85" fill="none"/>
<path d="M571.9 82.8 C573.62 82.67 579.87 81.27 582.2 82 C584.53 82.73 585.15 84.85 585.9 87.2 C586.65 89.55 586.57 94.62 586.7 96.1" stroke="#0a0a0a" stroke-width="0.85" fill="none"/>
<path d="M588.9 90.9 C590.25 90.65 595.03 89.4 597 89.4 C598.97 89.4 599.83 90.03 600.7 90.9 C601.57 91.77 601.95 93.98 602.2 94.6" stroke="#0a0a0a" stroke-width="0.85" fill="none"/>
<path d="M545 93 C547.5 92.65 555.03 90.88 560 90.9 C564.97 90.92 569.87 92.6 574.8 93.1 C579.73 93.6 585.4 93.58 589.6 93.9 C593.8 94.22 598.27 94.82 600 95" stroke="#0a0a0a" stroke-width="0.85" fill="none"/>
<path d="M540 95 C542 94.93 547.68 94.28 552 94.6 C556.32 94.92 562.07 96.17 565.9 96.9 C569.73 97.63 573.48 98.65 575 99" stroke="#0a0a0a" stroke-width="0.85" fill="none"/>
<path d="M556 80 C556.67 81.67 558.92 86.33 560 90 C561.08 93.67 562 98 562.5 102 C563 106 562.92 112 563 114" stroke="#0a0a0a" stroke-width="0.85" fill="none"/>
<path d="M570 80 C569.33 81.67 567 86.33 566 90 C565 93.67 564.5 98 564 102 C563.5 106 563.17 112 563 114" stroke="#0a0a0a" stroke-width="0.85" fill="none"/>
<path d="M571 86 C571.67 87.83 573.92 93 575 97 C576.08 101 577.03 105.5 577.5 110 C577.97 114.5 577.75 121.67 577.8 124" stroke="#0a0a0a" stroke-width="0.85" fill="none"/>
<path d="M586 86 C585.17 87.83 582.25 93 581 97 C579.75 101 579.03 105.5 578.5 110 C577.97 114.5 577.92 121.67 577.8 124" stroke="#0a0a0a" stroke-width="0.85" fill="none"/>
<path d="M586.1 6.7 L586.1 96" stroke="#0a0a0a" stroke-width="0.85" fill="none"/>
<path d="M595.6 55 C595.32 56.73 594.9 61.95 593.9 65.4 C592.9 68.85 591.77 72.53 589.6 75.7 C587.43 78.87 583.78 82.08 580.9 84.4 C578.02 86.72 575.47 87.87 572.3 89.6 C569.13 91.33 564.78 93.52 561.9 94.8 C559.02 96.08 557.82 96.43 555 97.3 C552.18 98.17 546.67 99.55 545 100" stroke="#0a0a0a" stroke-width="0.85" fill="none"/>
<path d="M616.4 55 C616.1 56.73 615.62 61.95 614.6 65.4 C613.58 68.85 612.45 72.53 610.3 75.7 C608.15 78.87 605.15 82.08 601.7 84.4 C598.25 86.72 593.35 88.45 589.6 89.6 C585.85 90.75 582.47 90.9 579.2 91.3 C575.93 91.7 571.53 91.88 570 92" stroke="#0a0a0a" stroke-width="0.85" fill="none"/>
<path d="M545 108 C546.67 107.52 550.45 106.73 555 105.1 C559.55 103.47 566.53 99.92 572.3 98.2 C578.07 96.48 583.85 95.52 589.6 94.8 C595.35 94.08 600.9 94.2 606.8 93.9 C612.7 93.6 621.97 93.15 625 93" stroke="#0a0a0a" stroke-width="0.85" fill="none"/>
<path d="M612 55 C611.72 56.73 611.17 61.08 610.3 65.4 C609.43 69.72 607.8 76.3 606.8 80.9 C605.8 85.5 605.02 90.12 604.3 93 C603.58 95.88 602.8 97.33 602.5 98.2" stroke="#0a0a0a" stroke-width="0.85" fill="none"/>
<line x1="578.5" y1="11.8" x2="655.5" y2="38.5" stroke="#e8201c" stroke-width="1.8" stroke-dasharray="3.6 2.4"/>
<path d="M661.5 40.6 L654 41.8 L656.7 35 Z" stroke="none" stroke-width="1" fill="#e8201c"/>
<text x="621.7" y="23.7" font-size="6.4" text-anchor="middle" fill="#e8201c" stroke="#e8201c" stroke-width="0.18" transform="rotate(19 621.7 23.7)">1000 times</text>
<line x1="115.9" y1="376.4" x2="115.9" y2="374.2" stroke="#555" stroke-width="0.8"/>
<line x1="106.07" y1="376.4" x2="106.07" y2="375.1" stroke="#555" stroke-width="0.8"/>
<line x1="96.24" y1="376.4" x2="96.24" y2="374.2" stroke="#555" stroke-width="0.8"/>
<line x1="86.41" y1="376.4" x2="86.41" y2="375.1" stroke="#555" stroke-width="0.8"/>
<line x1="76.58" y1="376.4" x2="76.58" y2="374.2" stroke="#555" stroke-width="0.8"/>
<line x1="66.75" y1="376.4" x2="66.75" y2="375.1" stroke="#555" stroke-width="0.8"/>
<line x1="56.92" y1="376.4" x2="56.92" y2="374.2" stroke="#555" stroke-width="0.8"/>
<line x1="47.09" y1="376.4" x2="47.09" y2="375.1" stroke="#555" stroke-width="0.8"/>
<line x1="37.26" y1="376.4" x2="37.26" y2="374.2" stroke="#555" stroke-width="0.8"/>
<line x1="27.43" y1="376.4" x2="27.43" y2="375.1" stroke="#555" stroke-width="0.8"/>
<line x1="17.6" y1="376.4" x2="17.6" y2="374.2" stroke="#555" stroke-width="0.8"/>
<text x="17.6" y="385.3" font-size="8.2" text-anchor="middle" fill="#222" stroke="#222" stroke-width="0.18">30</text>
<text x="37.26" y="385.3" font-size="8.2" text-anchor="middle" fill="#222" stroke="#222" stroke-width="0.18">28</text>
<text x="56.92" y="385.3" font-size="8.2" text-anchor="middle" fill="#222" stroke="#222" stroke-width="0.18">26</text>
<text x="76.58" y="385.3" font-size="8.2" text-anchor="middle" fill="#222" stroke="#222" stroke-width="0.18">24</text>
<text x="96.24" y="385.3" font-size="8.2" text-anchor="middle" fill="#222" stroke="#222" stroke-width="0.18">22</text>
<text x="115.9" y="385.3" font-size="8.2" text-anchor="middle" fill="#222" stroke="#222" stroke-width="0.18">20</text>
<text x="66.8" y="397.8" font-size="8.3" text-anchor="middle" fill="#222" stroke="#222" stroke-width="0.18">Binding Energy (eV)</text>
<text x="7.8" y="316.8" font-size="8.75" text-anchor="middle" fill="#222" stroke="#222" stroke-width="0.18" transform="rotate(-90 7.8 316.8)">Intensity (a.u.)</text>
<text x="66.5" y="248.3" font-size="7.6" text-anchor="middle" fill="#7a1f3d" stroke="#7a1f3d" stroke-width="0.18">V &gt; 0</text>
<path d="M12.4 274.2 C13.07 274.03 15.07 273.77 16.4 273.2 C17.73 272.63 19.07 271.78 20.4 270.8 C21.73 269.82 23.22 268.15 24.4 267.3 C25.58 266.45 26.42 265.78 27.5 265.7 C28.58 265.62 29.57 266.18 30.9 266.8 C32.23 267.42 34 269.4 35.5 269.4 C37 269.4 38.58 267.7 39.9 266.8 C41.22 265.9 42.4 264.58 43.4 264 C44.4 263.42 44.98 263.2 45.9 263.3 C46.82 263.4 47.65 263.78 48.9 264.6 C50.15 265.42 51.88 267.13 53.4 268.2 C54.92 269.27 56.17 270.42 58 271 C59.83 271.58 62 271.5 64.4 271.7 C66.8 271.9 69.73 272.07 72.4 272.2 C75.07 272.33 77.4 272.37 80.4 272.5 C83.4 272.63 87.45 272.8 90.4 273 C93.35 273.2 96.35 273.37 98.1 273.7 C99.85 274.03 100.02 274.58 100.9 275 C101.78 275.42 102.15 275.92 103.4 276.2 C104.65 276.48 106.27 276.57 108.4 276.7 C110.53 276.83 114.9 276.95 116.2 277" stroke="#555" stroke-width="0.75" fill="none"/>
<text x="15.7" y="262.2" font-size="7.8" text-anchor="start" fill="#333" stroke="#333" stroke-width="0.18">TaO<tspan font-size="5" dy="2.3">y</tspan></text>
<text x="114.7" y="267.7" font-size="7.7" text-anchor="end" fill="#333" stroke="#333" stroke-width="0.18">Depth = 0 nm</text>
<path d="M12.4 316 L13.4 315.91 L14.4 315.81 L15.4 315.7 L16.4 315.57 L17.4 315.4 L18.4 315.15 L19.4 314.79 L20.4 314.29 L21.4 313.62 L22.4 312.77 L23.4 311.79 L24.4 310.75 L25.4 309.76 L26.4 308.97 L27.4 308.47 L28.4 308.34 L29.4 308.61 L30.4 309.19 L31.4 309.89 L32.4 310.58 L33.4 311.12 L34.4 311.47 L35.4 311.62 L36.4 311.59 L37.4 311.39 L38.4 311.02 L39.4 310.47 L40.4 309.74 L41.4 308.84 L42.4 307.84 L43.4 306.86 L44.4 306.05 L45.4 305.55 L46.4 305.47 L47.4 305.9 L48.4 306.77 L49.4 307.91 L50.4 309.11 L51.4 310.17 L52.4 311.01 L53.4 311.58 L54.4 312.01 L55.4 312.29 L56.4 312.46 L57.4 312.56 L58.4 312.62 L59.4 312.67 L60.4 312.7 L61.4 312.73 L62.4 312.76 L63.4 312.78 L64.4 312.81 L65.4 312.82 L66.4 312.84 L67.4 312.84 L68.4 312.84 L69.4 312.84 L70.4 312.82 L71.4 312.78 L72.4 312.73 L73.4 312.66 L74.4 312.57 L75.4 312.47 L76.4 312.36 L77.4 312.26 L78.4 312.19 L79.4 312.23 L80.4 312.44 L81.4 312.7 L82.4 312.93 L83.4 313.13 L84.4 313.28 L85.4 313.38 L86.4 313.45 L87.4 313.49 L88.4 313.49 L89.4 313.47 L90.4 313.42 L91.4 313.34 L92.4 313.23 L93.4 313.1 L94.4 312.95 L95.4 312.79 L96.4 312.66 L97.4 312.59 L98.4 312.75 L99.4 313.03 L100.4 313.62 L101.4 314.06 L102.4 314.56 L103.4 315.14 L104.4 315.79 L105.4 316.45 L106.4 317.06 L107.4 317.55 L108.4 317.91 L109.4 318.14 L110.4 318.29 L111.4 318.38 L112.4 318.43 L113.4 318.46 L114.4 318.48 L115.4 318.49 L116.4 318.49" stroke="#a3b4e6" stroke-width="0.75" fill="none"/>
<path d="M12.4 316 L13.4 315.91 L14.4 315.81 L15.4 315.71 L16.4 315.58 L17.4 315.42 L18.4 315.18 L19.4 314.86 L20.4 314.41 L21.4 313.8 L22.4 313.04 L23.4 312.15 L24.4 311.22 L25.4 310.33 L26.4 309.62 L27.4 309.16 L28.4 309.04 L29.4 309.27 L30.4 309.77 L31.4 310.39 L32.4 310.99 L33.4 311.46 L34.4 311.76 L35.4 311.89 L36.4 311.85 L37.4 311.66 L38.4 311.33 L39.4 310.83 L40.4 310.17 L41.4 309.36 L42.4 308.46 L43.4 307.58 L44.4 306.85 L45.4 306.4 L46.4 306.32 L47.4 306.69 L48.4 307.46 L49.4 308.46 L50.4 309.51 L51.4 310.45 L52.4 311.18 L53.4 311.68 L54.4 312.05 L55.4 312.31 L56.4 312.46 L57.4 312.54 L58.4 312.59 L59.4 312.61 L60.4 312.63 L61.4 312.63 L62.4 312.62 L63.4 312.6 L64.4 312.57 L65.4 312.52 L66.4 312.45 L67.4 312.34 L68.4 312.21 L69.4 312.02 L70.4 311.78 L71.4 311.47 L72.4 311.07 L73.4 310.58 L74.4 310 L75.4 309.34 L76.4 308.65 L77.4 308 L78.4 307.51 L79.4 307.59 L80.4 308.52 L81.4 309.64 L82.4 310.68 L83.4 311.52 L84.4 312.13 L85.4 312.52 L86.4 312.72 L87.4 312.75 L88.4 312.64 L89.4 312.39 L90.4 312 L91.4 311.46 L92.4 310.79 L93.4 309.98 L94.4 309.08 L95.4 308.16 L96.4 307.34 L97.4 306.85 L98.4 307.54 L99.4 308.81 L100.4 310.44 L101.4 311.8 L102.4 313.03 L103.4 314.15 L104.4 315.18 L105.4 316.1 L106.4 316.86 L107.4 317.44 L108.4 317.85 L109.4 318.11 L110.4 318.27 L111.4 318.37 L112.4 318.42 L113.4 318.46 L114.4 318.48 L115.4 318.49 L116.4 318.49" stroke="#e3a6da" stroke-width="0.75" fill="none"/>
<path d="M12.4 316 L13.4 315.91 L14.4 315.82 L15.4 315.71 L16.4 315.59 L17.4 315.44 L18.4 315.22 L19.4 314.93 L20.4 314.52 L21.4 313.98 L22.4 313.3 L23.4 312.52 L24.4 311.69 L25.4 310.9 L26.4 310.27 L27.4 309.86 L28.4 309.74 L29.4 309.93 L30.4 310.36 L31.4 310.89 L32.4 311.4 L33.4 311.81 L34.4 312.06 L35.4 312.16 L36.4 312.11 L37.4 311.94 L38.4 311.64 L39.4 311.19 L40.4 310.6 L41.4 309.88 L42.4 309.09 L43.4 308.31 L44.4 307.65 L45.4 307.25 L46.4 307.17 L47.4 307.48 L48.4 308.14 L49.4 309.01 L50.4 309.92 L51.4 310.73 L52.4 311.35 L53.4 311.77 L54.4 312.1 L55.4 312.32 L56.4 312.44 L57.4 312.51 L58.4 312.53 L59.4 312.54 L60.4 312.52 L61.4 312.49 L62.4 312.43 L63.4 312.35 L64.4 312.24 L65.4 312.09 L66.4 311.9 L67.4 311.64 L68.4 311.31 L69.4 310.88 L70.4 310.33 L71.4 309.63 L72.4 308.75 L73.4 307.67 L74.4 306.4 L75.4 304.97 L76.4 303.47 L77.4 302.05 L78.4 300.96 L79.4 301.09 L80.4 303.03 L81.4 305.37 L82.4 307.53 L83.4 309.28 L84.4 310.53 L85.4 311.32 L86.4 311.7 L87.4 311.73 L88.4 311.45 L89.4 310.87 L90.4 310.01 L91.4 308.84 L92.4 307.36 L93.4 305.61 L94.4 303.66 L95.4 301.67 L96.4 299.9 L97.4 298.82 L98.4 300.25 L99.4 302.9 L100.4 305.98 L101.4 308.63 L102.4 310.89 L103.4 312.78 L104.4 314.33 L105.4 315.59 L106.4 316.57 L107.4 317.28 L108.4 317.76 L109.4 318.07 L110.4 318.25 L111.4 318.36 L112.4 318.42 L113.4 318.45 L114.4 318.47 L115.4 318.49 L116.4 318.49" stroke="#9cc89c" stroke-width="0.75" fill="none"/>
<path d="M12.4 316 L13.4 315.91 L14.4 315.82 L15.4 315.72 L16.4 315.6 L17.4 315.46 L18.4 315.26 L19.4 315 L20.4 314.63 L21.4 314.16 L22.4 313.57 L23.4 312.88 L24.4 312.16 L25.4 311.47 L26.4 310.91 L27.4 310.55 L28.4 310.44 L29.4 310.59 L30.4 310.95 L31.4 311.39 L32.4 311.82 L33.4 312.15 L34.4 312.35 L35.4 312.43 L36.4 312.38 L37.4 312.22 L38.4 311.94 L39.4 311.55 L40.4 311.03 L41.4 310.4 L42.4 309.71 L43.4 309.03 L44.4 308.46 L45.4 308.1 L46.4 308.02 L47.4 308.27 L48.4 308.83 L49.4 309.56 L50.4 310.32 L51.4 311 L52.4 311.52 L53.4 311.87 L54.4 312.14 L55.4 312.33 L56.4 312.43 L57.4 312.47 L58.4 312.48 L59.4 312.45 L60.4 312.41 L61.4 312.33 L62.4 312.23 L63.4 312.08 L64.4 311.89 L65.4 311.64 L66.4 311.31 L67.4 310.89 L68.4 310.36 L69.4 309.66 L70.4 308.78 L71.4 307.65 L72.4 306.26 L73.4 304.55 L74.4 302.54 L75.4 300.28 L76.4 297.91 L77.4 295.67 L78.4 293.95 L79.4 294.13 L80.4 297.15 L81.4 300.79 L82.4 304.16 L83.4 306.87 L84.4 308.82 L85.4 310.03 L86.4 310.6 L87.4 310.63 L88.4 310.17 L89.4 309.25 L90.4 307.87 L91.4 306.02 L92.4 303.69 L93.4 300.93 L94.4 297.85 L95.4 294.72 L96.4 291.93 L97.4 290.22 L98.4 292.44 L99.4 296.56 L100.4 301.2 L101.4 305.23 L102.4 308.6 L103.4 311.3 L104.4 313.42 L105.4 315.06 L106.4 316.27 L107.4 317.12 L108.4 317.67 L109.4 318.02 L110.4 318.23 L111.4 318.35 L112.4 318.41 L113.4 318.45 L114.4 318.47 L115.4 318.49 L116.4 318.49" stroke="#b3abe0" stroke-width="0.75" fill="none"/>
<path d="M12.4 316 L13.4 315.91 L14.4 315.82 L15.4 315.72 L16.4 315.61 L17.4 315.47 L18.4 315.28 L19.4 315.03 L20.4 314.69 L21.4 314.25 L22.4 313.7 L23.4 313.06 L24.4 312.39 L25.4 311.76 L26.4 311.24 L27.4 310.9 L28.4 310.79 L29.4 310.92 L30.4 311.24 L31.4 311.64 L32.4 312.02 L33.4 312.32 L34.4 312.5 L35.4 312.56 L36.4 312.51 L37.4 312.35 L38.4 312.1 L39.4 311.73 L40.4 311.25 L41.4 310.67 L42.4 310.02 L43.4 309.39 L44.4 308.86 L45.4 308.52 L46.4 308.44 L47.4 308.67 L48.4 309.17 L49.4 309.83 L50.4 310.52 L51.4 311.14 L52.4 311.61 L53.4 311.92 L54.4 312.16 L55.4 312.33 L56.4 312.42 L57.4 312.45 L58.4 312.44 L59.4 312.41 L60.4 312.34 L61.4 312.24 L62.4 312.11 L63.4 311.93 L64.4 311.69 L65.4 311.38 L66.4 310.98 L67.4 310.47 L68.4 309.81 L69.4 308.97 L70.4 307.9 L71.4 306.54 L72.4 304.84 L73.4 302.78 L74.4 300.36 L75.4 297.63 L76.4 294.77 L77.4 292.06 L78.4 289.98 L79.4 290.18 L80.4 293.82 L81.4 298.19 L82.4 302.25 L83.4 305.51 L84.4 307.85 L85.4 309.3 L86.4 309.98 L87.4 310.01 L88.4 309.45 L89.4 308.33 L90.4 306.67 L91.4 304.42 L92.4 301.61 L93.4 298.28 L94.4 294.56 L95.4 290.78 L96.4 287.41 L97.4 285.35 L98.4 288.02 L99.4 292.97 L100.4 298.49 L101.4 303.31 L102.4 307.31 L103.4 310.47 L104.4 312.91 L105.4 314.75 L106.4 316.09 L107.4 317.02 L108.4 317.62 L109.4 318 L110.4 318.21 L111.4 318.34 L112.4 318.41 L113.4 318.45 L114.4 318.47 L115.4 318.48 L116.4 318.49" stroke="#6f68b0" stroke-width="0.75" fill="none"/>
<path d="M12.4 357.9 C15.33 357.85 23.73 357.97 30 357.6 C36.27 357.23 45.43 356.12 50 355.7 C54.57 355.28 54.93 355.6 57.4 355.1 C59.87 354.6 62.73 353.62 64.8 352.7 C66.87 351.78 68.35 350.95 69.8 349.6 C71.25 348.25 72.38 347.07 73.5 344.6 C74.62 342.13 75.58 337.57 76.5 334.8 C77.42 332.03 78.27 328.63 79 328 C79.73 327.37 80.28 328.85 80.9 331 C81.52 333.15 81.88 337.73 82.7 340.9 C83.52 344.07 84.67 348.77 85.8 350 C86.93 351.23 88.27 349.82 89.5 348.3 C90.73 346.78 92.07 343.98 93.2 340.9 C94.33 337.82 95.48 332.78 96.3 329.8 C97.12 326.82 97.48 323.2 98.1 323 C98.72 322.8 99.37 325.2 100 328.6 C100.63 332 101.18 338.97 101.9 343.4 C102.62 347.83 103.28 352.63 104.3 355.2 C105.32 357.77 106.72 358.03 108 358.8 C109.28 359.57 110.63 359.58 112 359.8 C113.37 360.02 115.5 360.05 116.2 360.1" stroke="#44727a" stroke-width="0.9" fill="none"/>
<text x="15.7" y="302.3" font-size="7.8" text-anchor="start" fill="#333" stroke="#333" stroke-width="0.18">NP TaO<tspan font-size="5" dy="2.3">x</tspan></text>
<text x="15.7" y="352.8" font-size="7.8" text-anchor="start" fill="#333" stroke="#333" stroke-width="0.18">Ta</text>
<text x="54.2" y="299.5" font-size="7.8" text-anchor="middle" fill="#333" stroke="#333" stroke-width="0.18">10 nm</text>
<text x="54.2" y="330.5" font-size="7.8" text-anchor="middle" fill="#333" stroke="#333" stroke-width="0.18">50 nm</text>
<text x="54.2" y="349.3" font-size="7.8" text-anchor="middle" fill="#333" stroke="#333" stroke-width="0.18">60 nm</text>
<text x="54.2" y="373" font-size="7.8" text-anchor="middle" fill="#333" stroke="#333" stroke-width="0.18">100 nm</text>
<line x1="54.2" y1="301.5" x2="54.2" y2="320.5" stroke="#e02020" stroke-width="1.35" stroke-dasharray="2.8 1.6"/>
<path d="M52.1 319.7 L56.3 319.7 L54.2 322.9 Z" stroke="none" stroke-width="1" fill="#e02020"/>
<line x1="54.2" y1="351.5" x2="54.2" y2="362.5" stroke="#e02020" stroke-width="1.35" stroke-dasharray="2.8 1.6"/>
<path d="M52.1 361.7 L56.3 361.7 L54.2 364.9 Z" stroke="none" stroke-width="1" fill="#e02020"/>
<rect x="12.4" y="251.2" width="103.8" height="125.2" fill="none" stroke="#6a6a6a" stroke-width="1"/>
<line x1="251.5" y1="376.4" x2="251.5" y2="374.2" stroke="#555" stroke-width="0.8"/>
<line x1="241.67" y1="376.4" x2="241.67" y2="375.1" stroke="#555" stroke-width="0.8"/>
<line x1="231.84" y1="376.4" x2="231.84" y2="374.2" stroke="#555" stroke-width="0.8"/>
<line x1="222.01" y1="376.4" x2="222.01" y2="375.1" stroke="#555" stroke-width="0.8"/>
<line x1="212.18" y1="376.4" x2="212.18" y2="374.2" stroke="#555" stroke-width="0.8"/>
<line x1="202.35" y1="376.4" x2="202.35" y2="375.1" stroke="#555" stroke-width="0.8"/>
<line x1="192.52" y1="376.4" x2="192.52" y2="374.2" stroke="#555" stroke-width="0.8"/>
<line x1="182.69" y1="376.4" x2="182.69" y2="375.1" stroke="#555" stroke-width="0.8"/>
<line x1="172.86" y1="376.4" x2="172.86" y2="374.2" stroke="#555" stroke-width="0.8"/>
<line x1="163.03" y1="376.4" x2="163.03" y2="375.1" stroke="#555" stroke-width="0.8"/>
<line x1="153.2" y1="376.4" x2="153.2" y2="374.2" stroke="#555" stroke-width="0.8"/>
<text x="153.2" y="385.3" font-size="8.2" text-anchor="middle" fill="#222" stroke="#222" stroke-width="0.18">30</text>
<text x="172.86" y="385.3" font-size="8.2" text-anchor="middle" fill="#222" stroke="#222" stroke-width="0.18">28</text>
<text x="192.52" y="385.3" font-size="8.2" text-anchor="middle" fill="#222" stroke="#222" stroke-width="0.18">26</text>
<text x="212.18" y="385.3" font-size="8.2" text-anchor="middle" fill="#222" stroke="#222" stroke-width="0.18">24</text>
<text x="231.84" y="385.3" font-size="8.2" text-anchor="middle" fill="#222" stroke="#222" stroke-width="0.18">22</text>
<text x="251.5" y="385.3" font-size="8.2" text-anchor="middle" fill="#222" stroke="#222" stroke-width="0.18">20</text>
<text x="202.4" y="397.8" font-size="8.3" text-anchor="middle" fill="#222" stroke="#222" stroke-width="0.18">Binding Energy (eV)</text>
<text x="143.4" y="316.8" font-size="8.75" text-anchor="middle" fill="#222" stroke="#222" stroke-width="0.18" transform="rotate(-90 143.4 316.8)">Intensity (a.u.)</text>
<text x="197.5" y="248.3" font-size="7.6" text-anchor="middle" fill="#2c4f91" stroke="#2c4f91" stroke-width="0.18">V &lt; 0</text>
<path d="M148 274.2 C148.67 274.03 150.67 273.77 152 273.2 C153.33 272.63 154.67 271.78 156 270.8 C157.33 269.82 158.82 268.15 160 267.3 C161.18 266.45 162.02 265.78 163.1 265.7 C164.18 265.62 165.17 266.18 166.5 266.8 C167.83 267.42 169.6 269.4 171.1 269.4 C172.6 269.4 174.18 267.7 175.5 266.8 C176.82 265.9 178 264.58 179 264 C180 263.42 180.58 263.2 181.5 263.3 C182.42 263.4 183.25 263.78 184.5 264.6 C185.75 265.42 187.48 267.13 189 268.2 C190.52 269.27 191.77 270.42 193.6 271 C195.43 271.58 197.6 271.5 200 271.7 C202.4 271.9 205.33 272.07 208 272.2 C210.67 272.33 213 272.37 216 272.5 C219 272.63 223.05 272.8 226 273 C228.95 273.2 231.95 273.37 233.7 273.7 C235.45 274.03 235.62 274.58 236.5 275 C237.38 275.42 237.75 275.92 239 276.2 C240.25 276.48 241.87 276.57 244 276.7 C246.13 276.83 250.5 276.95 251.8 277" stroke="#555" stroke-width="0.75" fill="none"/>
<text x="151.3" y="262.2" font-size="7.8" text-anchor="start" fill="#333" stroke="#333" stroke-width="0.18">TaO<tspan font-size="5" dy="2.3">y</tspan></text>
<text x="250.3" y="267.7" font-size="7.7" text-anchor="end" fill="#333" stroke="#333" stroke-width="0.18">Depth = 0 nm</text>
<path d="M148 316 L149 315.91 L150 315.81 L151 315.7 L152 315.57 L153 315.39 L154 315.13 L155 314.76 L156 314.23 L157 313.53 L158 312.64 L159 311.61 L160 310.51 L161 309.48 L162 308.64 L163 308.12 L164 307.99 L165 308.28 L166 308.89 L167 309.64 L168 310.37 L169 310.95 L170 311.32 L171 311.48 L172 311.45 L173 311.25 L174 310.87 L175 310.29 L176 309.52 L177 308.58 L178 307.53 L179 306.5 L180 305.64 L181 305.12 L182 305.04 L183 305.5 L184 306.43 L185 307.64 L186 308.9 L187 310.03 L188 310.92 L189 311.53 L190 311.98 L191 312.28 L192 312.46 L193 312.56 L194 312.63 L195 312.68 L196 312.71 L197 312.75 L198 312.78 L199 312.81 L200 312.84 L201 312.87 L202 312.89 L203 312.92 L204 312.94 L205 312.96 L206 312.97 L207 312.98 L208 312.98 L209 312.97 L210 312.96 L211 312.94 L212 312.91 L213 312.89 L214 312.89 L215 312.92 L216 313.03 L217 313.15 L218 313.27 L219 313.37 L220 313.45 L221 313.51 L222 313.56 L223 313.6 L224 313.62 L225 313.63 L226 313.63 L227 313.62 L228 313.6 L229 313.57 L230 313.53 L231 313.49 L232 313.45 L233 313.45 L234 313.53 L235 313.67 L236 314.1 L237 314.4 L238 314.79 L239 315.28 L240 315.88 L241 316.51 L242 317.09 L243 317.57 L244 317.92 L245 318.15 L246 318.29 L247 318.38 L248 318.43 L249 318.46 L250 318.48 L251 318.49 L252 318.49" stroke="#a3b4e6" stroke-width="0.75" fill="none"/>
<path d="M148 316 L149 315.91 L150 315.81 L151 315.71 L152 315.58 L153 315.41 L154 315.17 L155 314.82 L156 314.35 L157 313.71 L158 312.91 L159 311.97 L160 310.98 L161 310.05 L162 309.29 L163 308.81 L164 308.69 L165 308.94 L166 309.48 L167 310.14 L168 310.78 L169 311.29 L170 311.61 L171 311.75 L172 311.72 L173 311.53 L174 311.17 L175 310.65 L176 309.96 L177 309.1 L178 308.15 L179 307.22 L180 306.45 L181 305.97 L182 305.89 L183 306.29 L184 307.11 L185 308.19 L186 309.31 L187 310.31 L188 311.09 L189 311.63 L190 312.03 L191 312.3 L192 312.46 L193 312.55 L194 312.61 L195 312.65 L196 312.67 L197 312.69 L198 312.7 L199 312.71 L200 312.71 L201 312.7 L202 312.68 L203 312.64 L204 312.59 L205 312.51 L206 312.4 L207 312.25 L208 312.07 L209 311.83 L210 311.54 L211 311.22 L212 310.88 L213 310.56 L214 310.32 L215 310.37 L216 310.88 L217 311.47 L218 312.03 L219 312.49 L220 312.82 L221 313.04 L222 313.16 L223 313.19 L224 313.15 L225 313.04 L226 312.85 L227 312.59 L228 312.25 L229 311.85 L230 311.4 L231 310.94 L232 310.53 L233 310.29 L234 310.67 L235 311.34 L236 312.35 L237 313.15 L238 313.95 L239 314.74 L240 315.54 L241 316.31 L242 316.98 L243 317.51 L244 317.88 L245 318.13 L246 318.28 L247 318.37 L248 318.43 L249 318.46 L250 318.48 L251 318.49 L252 318.49" stroke="#d9a0d8" stroke-width="0.75" fill="none"/>
<path d="M148 316 L149 315.91 L150 315.82 L151 315.71 L152 315.59 L153 315.43 L154 315.2 L155 314.89 L156 314.46 L157 313.89 L158 313.17 L159 312.34 L160 311.45 L161 310.62 L162 309.94 L163 309.51 L164 309.39 L165 309.6 L166 310.07 L167 310.64 L168 311.2 L169 311.63 L170 311.91 L171 312.02 L172 311.98 L173 311.8 L174 311.48 L175 311.01 L176 310.39 L177 309.62 L178 308.78 L179 307.94 L180 307.25 L181 306.82 L182 306.74 L183 307.08 L184 307.8 L185 308.73 L186 309.71 L187 310.59 L188 311.27 L189 311.73 L190 312.08 L191 312.32 L192 312.46 L193 312.54 L194 312.58 L195 312.6 L196 312.61 L197 312.61 L198 312.6 L199 312.57 L200 312.52 L201 312.46 L202 312.37 L203 312.24 L204 312.08 L205 311.86 L206 311.57 L207 311.2 L208 310.74 L209 310.16 L210 309.49 L211 308.72 L212 307.91 L213 307.15 L214 306.58 L215 306.66 L216 307.74 L217 309.03 L218 310.23 L219 311.2 L220 311.91 L221 312.35 L222 312.58 L223 312.61 L224 312.47 L225 312.17 L226 311.71 L227 311.09 L228 310.3 L229 309.35 L230 308.3 L231 307.23 L232 306.28 L233 305.7 L234 306.5 L235 307.97 L236 309.8 L237 311.34 L238 312.73 L239 313.96 L240 315.06 L241 316.02 L242 316.82 L243 317.42 L244 317.84 L245 318.1 L246 318.27 L247 318.37 L248 318.42 L249 318.46 L250 318.48 L251 318.49 L252 318.49" stroke="#97c497" stroke-width="0.75" fill="none"/>
<path d="M148 316 L149 315.91 L150 315.82 L151 315.72 L152 315.6 L153 315.46 L154 315.26 L155 315 L156 314.63 L157 314.16 L158 313.57 L159 312.88 L160 312.16 L161 311.47 L162 310.91 L163 310.55 L164 310.44 L165 310.59 L166 310.95 L167 311.39 L168 311.82 L169 312.15 L170 312.35 L171 312.43 L172 312.38 L173 312.22 L174 311.94 L175 311.55 L176 311.03 L177 310.4 L178 309.71 L179 309.03 L180 308.46 L181 308.1 L182 308.02 L183 308.27 L184 308.83 L185 309.56 L186 310.32 L187 311 L188 311.53 L189 311.88 L190 312.15 L191 312.34 L192 312.45 L193 312.51 L194 312.53 L195 312.53 L196 312.51 L197 312.48 L198 312.42 L199 312.33 L200 312.22 L201 312.06 L202 311.86 L203 311.59 L204 311.25 L205 310.8 L206 310.23 L207 309.49 L208 308.58 L209 307.46 L210 306.14 L211 304.66 L212 303.1 L213 301.63 L214 300.5 L215 300.62 L216 302.64 L217 305.06 L218 307.31 L219 309.12 L220 310.42 L221 311.23 L222 311.63 L223 311.66 L224 311.36 L225 310.77 L226 309.86 L227 308.65 L228 307.12 L229 305.3 L230 303.27 L231 301.2 L232 299.37 L233 298.25 L234 299.73 L235 302.48 L236 305.66 L237 308.4 L238 310.74 L239 312.68 L240 314.27 L241 315.56 L242 316.55 L243 317.27 L244 317.76 L245 318.06 L246 318.25 L247 318.36 L248 318.42 L249 318.45 L250 318.47 L251 318.49 L252 318.49" stroke="#a79ad8" stroke-width="0.75" fill="none"/>
<path d="M148 316 L149 315.91 L150 315.82 L151 315.72 L152 315.62 L153 315.49 L154 315.32 L155 315.1 L156 314.81 L157 314.43 L158 313.96 L159 313.43 L160 312.86 L161 312.33 L162 311.89 L163 311.6 L164 311.49 L165 311.58 L166 311.83 L167 312.14 L168 312.44 L169 312.67 L170 312.8 L171 312.83 L172 312.77 L173 312.63 L174 312.41 L175 312.09 L176 311.68 L177 311.19 L178 310.65 L179 310.11 L180 309.66 L181 309.37 L182 309.29 L183 309.46 L184 309.85 L185 310.38 L186 310.93 L187 311.42 L188 311.79 L189 312.03 L190 312.23 L191 312.37 L192 312.45 L193 312.48 L194 312.49 L195 312.47 L196 312.42 L197 312.35 L198 312.25 L199 312.12 L200 311.93 L201 311.7 L202 311.39 L203 310.99 L204 310.48 L205 309.83 L206 308.98 L207 307.92 L208 306.59 L209 304.97 L210 303.06 L211 300.91 L212 298.65 L213 296.52 L214 294.89 L215 295.05 L216 297.94 L217 301.4 L218 304.61 L219 307.19 L220 309.05 L221 310.2 L222 310.75 L223 310.78 L224 310.34 L225 309.47 L226 308.16 L227 306.4 L228 304.18 L229 301.55 L230 298.63 L231 295.64 L232 292.99 L233 291.37 L234 293.48 L235 297.41 L236 301.84 L237 305.68 L238 308.91 L239 311.5 L240 313.54 L241 315.13 L242 316.31 L243 317.14 L244 317.69 L245 318.03 L246 318.23 L247 318.35 L248 318.42 L249 318.45 L250 318.47 L251 318.49 L252 318.49" stroke="#b7addf" stroke-width="0.75" fill="none"/>
<path d="M148 316 L149 315.91 L150 315.82 L151 315.73 L152 315.63 L153 315.52 L154 315.38 L155 315.2 L156 314.98 L157 314.7 L158 314.36 L159 313.97 L160 313.57 L161 313.18 L162 312.86 L163 312.64 L164 312.54 L165 312.57 L166 312.71 L167 312.89 L168 313.06 L169 313.18 L170 313.24 L171 313.24 L172 313.17 L173 313.05 L174 312.87 L175 312.63 L176 312.33 L177 311.97 L178 311.58 L179 311.2 L180 310.87 L181 310.65 L182 310.56 L183 310.65 L184 310.88 L185 311.2 L186 311.54 L187 311.84 L188 312.05 L189 312.18 L190 312.3 L191 312.4 L192 312.45 L193 312.47 L194 312.46 L195 312.42 L196 312.36 L197 312.27 L198 312.14 L199 311.97 L200 311.75 L201 311.45 L202 311.08 L203 310.59 L204 309.97 L205 309.17 L206 308.16 L207 306.87 L208 305.26 L209 303.3 L210 301 L211 298.41 L212 295.69 L213 293.12 L214 291.15 L215 291.34 L216 294.8 L217 298.96 L218 302.81 L219 305.91 L220 308.13 L221 309.51 L222 310.17 L223 310.19 L224 309.66 L225 308.6 L226 307.02 L227 304.89 L228 302.22 L229 299.06 L230 295.53 L231 291.94 L232 288.74 L233 286.78 L234 289.32 L235 294.03 L236 299.29 L237 303.87 L238 307.69 L239 310.71 L240 313.06 L241 314.84 L242 316.14 L243 317.05 L244 317.64 L245 318 L246 318.22 L247 318.34 L248 318.41 L249 318.45 L250 318.47 L251 318.48 L252 318.49" stroke="#9d8fd0" stroke-width="0.75" fill="none"/>
<path d="M148 316 L149 315.91 L150 315.83 L151 315.74 L152 315.65 L153 315.56 L154 315.45 L155 315.34 L156 315.21 L157 315.06 L158 314.89 L159 314.7 L160 314.51 L161 314.32 L162 314.16 L163 314.03 L164 313.94 L165 313.89 L166 313.88 L167 313.89 L168 313.89 L169 313.87 L170 313.83 L171 313.78 L172 313.7 L173 313.6 L174 313.48 L175 313.35 L176 313.19 L177 313.01 L178 312.83 L179 312.64 L180 312.48 L181 312.34 L182 312.26 L183 312.23 L184 312.25 L185 312.3 L186 312.36 L187 312.39 L188 312.4 L189 312.38 L190 312.41 L191 312.45 L192 312.46 L193 312.46 L194 312.43 L195 312.38 L196 312.31 L197 312.19 L198 312.04 L199 311.84 L200 311.57 L201 311.23 L202 310.78 L203 310.22 L204 309.49 L205 308.56 L206 307.38 L207 305.88 L208 304.01 L209 301.75 L210 299.07 L211 296.06 L212 292.91 L213 289.93 L214 287.64 L215 287.86 L216 291.86 L217 296.67 L218 301.12 L219 304.71 L220 307.27 L221 308.87 L222 309.62 L223 309.64 L224 309.02 L225 307.79 L226 305.95 L227 303.49 L228 300.39 L229 296.72 L230 292.63 L231 288.46 L232 284.75 L233 282.48 L234 285.41 L235 290.86 L236 296.9 L237 302.18 L238 306.54 L239 309.98 L240 312.61 L241 314.57 L242 315.99 L243 316.96 L244 317.59 L245 317.98 L246 318.21 L247 318.34 L248 318.41 L249 318.45 L250 318.47 L251 318.48 L252 318.49" stroke="#b24a72" stroke-width="0.75" fill="none"/>
<path d="M148 357.9 C150.93 357.85 159.33 357.97 165.6 357.6 C171.87 357.23 181.03 356.12 185.6 355.7 C190.17 355.28 190.53 355.6 193 355.1 C195.47 354.6 198.33 353.62 200.4 352.7 C202.47 351.78 203.95 350.95 205.4 349.6 C206.85 348.25 207.98 347.07 209.1 344.6 C210.22 342.13 211.18 337.57 212.1 334.8 C213.02 332.03 213.87 328.63 214.6 328 C215.33 327.37 215.88 328.85 216.5 331 C217.12 333.15 217.48 337.73 218.3 340.9 C219.12 344.07 220.27 348.77 221.4 350 C222.53 351.23 223.87 349.82 225.1 348.3 C226.33 346.78 227.67 343.98 228.8 340.9 C229.93 337.82 231.08 332.78 231.9 329.8 C232.72 326.82 233.08 323.2 233.7 323 C234.32 322.8 234.97 325.2 235.6 328.6 C236.23 332 236.78 338.97 237.5 343.4 C238.22 347.83 238.88 352.63 239.9 355.2 C240.92 357.77 242.32 358.03 243.6 358.8 C244.88 359.57 246.23 359.58 247.6 359.8 C248.97 360.02 251.1 360.05 251.8 360.1" stroke="#5a9298" stroke-width="0.9" fill="none"/>
<text x="151.3" y="302.3" font-size="7.8" text-anchor="start" fill="#333" stroke="#333" stroke-width="0.18">NP TaO<tspan font-size="5" dy="2.3">x</tspan></text>
<text x="151.3" y="352.8" font-size="7.8" text-anchor="start" fill="#333" stroke="#333" stroke-width="0.18">Ta</text>
<text x="189.8" y="299.5" font-size="7.8" text-anchor="middle" fill="#333" stroke="#333" stroke-width="0.18">10 nm</text>
<text x="189.8" y="330.5" font-size="7.8" text-anchor="middle" fill="#333" stroke="#333" stroke-width="0.18">70 nm</text>
<text x="189.8" y="349.3" font-size="7.8" text-anchor="middle" fill="#333" stroke="#333" stroke-width="0.18">80 nm</text>
<text x="189.8" y="373" font-size="7.8" text-anchor="middle" fill="#333" stroke="#333" stroke-width="0.18">100 nm</text>
<line x1="189.8" y1="301.5" x2="189.8" y2="320.5" stroke="#e02020" stroke-width="1.35" stroke-dasharray="2.8 1.6"/>
<path d="M187.7 319.7 L191.9 319.7 L189.8 322.9 Z" stroke="none" stroke-width="1" fill="#e02020"/>
<line x1="189.8" y1="351.5" x2="189.8" y2="362.5" stroke="#e02020" stroke-width="1.35" stroke-dasharray="2.8 1.6"/>
<path d="M187.7 361.7 L191.9 361.7 L189.8 364.9 Z" stroke="none" stroke-width="1" fill="#e02020"/>
<rect x="148" y="251.2" width="103.8" height="125.2" fill="none" stroke="#6a6a6a" stroke-width="1"/>
<line x1="309.3" y1="376.7" x2="309.3" y2="375.4" stroke="#555" stroke-width="0.8"/>
<line x1="319.8" y1="376.7" x2="319.8" y2="374.5" stroke="#555" stroke-width="0.8"/>
<line x1="330.3" y1="376.7" x2="330.3" y2="375.4" stroke="#555" stroke-width="0.8"/>
<line x1="340.8" y1="376.7" x2="340.8" y2="374.5" stroke="#555" stroke-width="0.8"/>
<line x1="351.3" y1="376.7" x2="351.3" y2="375.4" stroke="#555" stroke-width="0.8"/>
<line x1="361.8" y1="376.7" x2="361.8" y2="374.5" stroke="#555" stroke-width="0.8"/>
<line x1="372.3" y1="376.7" x2="372.3" y2="375.4" stroke="#555" stroke-width="0.8"/>
<line x1="382.8" y1="376.7" x2="382.8" y2="374.5" stroke="#555" stroke-width="0.8"/>
<line x1="393.3" y1="376.7" x2="393.3" y2="375.4" stroke="#555" stroke-width="0.8"/>
<line x1="403.8" y1="376.7" x2="403.8" y2="374.5" stroke="#555" stroke-width="0.8"/>
<line x1="414.3" y1="376.7" x2="414.3" y2="375.4" stroke="#555" stroke-width="0.8"/>
<line x1="424.8" y1="376.7" x2="424.8" y2="374.5" stroke="#555" stroke-width="0.8"/>
<line x1="435.3" y1="376.7" x2="435.3" y2="375.4" stroke="#555" stroke-width="0.8"/>
<line x1="445.8" y1="376.7" x2="445.8" y2="374.5" stroke="#555" stroke-width="0.8"/>
<line x1="456.3" y1="376.7" x2="456.3" y2="375.4" stroke="#555" stroke-width="0.8"/>
<text x="319.8" y="385.6" font-size="8.2" text-anchor="middle" fill="#222" stroke="#222" stroke-width="0.18">10</text>
<text x="340.8" y="385.6" font-size="8.2" text-anchor="middle" fill="#222" stroke="#222" stroke-width="0.18">20</text>
<text x="361.8" y="385.6" font-size="8.2" text-anchor="middle" fill="#222" stroke="#222" stroke-width="0.18">30</text>
<text x="382.8" y="385.6" font-size="8.2" text-anchor="middle" fill="#222" stroke="#222" stroke-width="0.18">40</text>
<text x="403.8" y="385.6" font-size="8.2" text-anchor="middle" fill="#222" stroke="#222" stroke-width="0.18">50</text>
<text x="424.8" y="385.6" font-size="8.2" text-anchor="middle" fill="#222" stroke="#222" stroke-width="0.18">60</text>
<text x="445.8" y="385.6" font-size="8.2" text-anchor="middle" fill="#222" stroke="#222" stroke-width="0.18">70</text>
<text x="466.8" y="385.6" font-size="8.2" text-anchor="middle" fill="#222" stroke="#222" stroke-width="0.18">80</text>
<line x1="298.2" y1="364.5" x2="300.4" y2="364.5" stroke="#555" stroke-width="0.8"/>
<line x1="298.2" y1="354.43" x2="299.5" y2="354.43" stroke="#555" stroke-width="0.8"/>
<line x1="298.2" y1="344.35" x2="300.4" y2="344.35" stroke="#555" stroke-width="0.8"/>
<line x1="298.2" y1="334.27" x2="299.5" y2="334.27" stroke="#555" stroke-width="0.8"/>
<line x1="298.2" y1="324.2" x2="300.4" y2="324.2" stroke="#555" stroke-width="0.8"/>
<line x1="298.2" y1="314.12" x2="299.5" y2="314.12" stroke="#555" stroke-width="0.8"/>
<line x1="298.2" y1="304.05" x2="300.4" y2="304.05" stroke="#555" stroke-width="0.8"/>
<line x1="298.2" y1="293.98" x2="299.5" y2="293.98" stroke="#555" stroke-width="0.8"/>
<line x1="298.2" y1="283.9" x2="300.4" y2="283.9" stroke="#555" stroke-width="0.8"/>
<line x1="298.2" y1="273.82" x2="299.5" y2="273.82" stroke="#555" stroke-width="0.8"/>
<line x1="298.2" y1="263.75" x2="300.4" y2="263.75" stroke="#555" stroke-width="0.8"/>
<text x="295.7" y="367.4" font-size="8.2" text-anchor="end" fill="#222" stroke="#222" stroke-width="0.18">0.0</text>
<text x="295.7" y="347.25" font-size="8.2" text-anchor="end" fill="#222" stroke="#222" stroke-width="0.18">0.5</text>
<text x="295.7" y="327.1" font-size="8.2" text-anchor="end" fill="#222" stroke="#222" stroke-width="0.18">1.0</text>
<text x="295.7" y="306.95" font-size="8.2" text-anchor="end" fill="#222" stroke="#222" stroke-width="0.18">1.5</text>
<text x="295.7" y="286.8" font-size="8.2" text-anchor="end" fill="#222" stroke="#222" stroke-width="0.18">2.0</text>
<text x="295.7" y="266.65" font-size="8.2" text-anchor="end" fill="#222" stroke="#222" stroke-width="0.18">2.5</text>
<text x="378" y="397.5" font-size="8.2" text-anchor="middle" fill="#222" stroke="#222" stroke-width="0.18">Depth (nm)</text>
<text x="279.6" y="316.5" font-size="8.6" text-anchor="middle" fill="#222" stroke="#222" stroke-width="0.18" transform="rotate(-90 279.6 316.5)">x (or y)</text>
<line x1="319.8" y1="251.4" x2="319.8" y2="376.7" stroke="#777" stroke-width="0.9" stroke-dasharray="2.6 1.8"/>
<line x1="413.4" y1="251.4" x2="413.4" y2="376.7" stroke="#b0415c" stroke-width="0.9" stroke-dasharray="2.6 1.8"/>
<line x1="455.9" y1="251.4" x2="455.9" y2="376.7" stroke="#7d97cc" stroke-width="0.9" stroke-dasharray="2.6 1.8"/>
<path d="M298.8 268.59 L309.3 268.18 L319.8 269.8 L330.3 271.41 L340.8 275.44 L351.3 283.9 L361.8 302.04 L372.3 325.81 L382.8 339.51 L393.3 351.2 L403.8 355.23 L414.3 356.44 L424.8 356.84 L435.3 356.84 L445.8 356.84 L456.3 356.84 L466.8 356.84" stroke="#a32a2e" stroke-width="0.95" fill="none" stroke-linejoin="round"/>
<circle cx="298.8" cy="268.59" r="1.5" fill="#a32a2e"/>
<circle cx="309.3" cy="268.18" r="1.5" fill="#a32a2e"/>
<circle cx="319.8" cy="269.8" r="1.5" fill="#a32a2e"/>
<circle cx="330.3" cy="271.41" r="1.5" fill="#a32a2e"/>
<circle cx="340.8" cy="275.44" r="1.5" fill="#a32a2e"/>
<circle cx="351.3" cy="283.9" r="1.5" fill="#a32a2e"/>
<circle cx="361.8" cy="302.04" r="1.5" fill="#a32a2e"/>
<circle cx="372.3" cy="325.81" r="1.5" fill="#a32a2e"/>
<circle cx="382.8" cy="339.51" r="1.5" fill="#a32a2e"/>
<circle cx="393.3" cy="351.2" r="1.5" fill="#a32a2e"/>
<circle cx="403.8" cy="355.23" r="1.5" fill="#a32a2e"/>
<circle cx="414.3" cy="356.44" r="1.5" fill="#a32a2e"/>
<circle cx="424.8" cy="356.84" r="1.5" fill="#a32a2e"/>
<circle cx="435.3" cy="356.84" r="1.5" fill="#a32a2e"/>
<circle cx="445.8" cy="356.84" r="1.5" fill="#a32a2e"/>
<circle cx="456.3" cy="356.84" r="1.5" fill="#a32a2e"/>
<circle cx="466.8" cy="356.84" r="1.5" fill="#a32a2e"/>
<path d="M298.8 273.42 L309.3 270.6 L319.8 268.99 L330.3 268.99 L340.8 270.2 L351.3 271.41 L361.8 275.03 L372.3 280.68 L382.8 290.35 L393.3 306.87 L403.8 322.99 L414.3 339.92 L424.8 351.2 L435.3 355.23 L445.8 356.04 L456.3 356.84 L466.8 356.84" stroke="#2b5597" stroke-width="0.95" fill="none" stroke-linejoin="round"/>
<circle cx="298.8" cy="273.42" r="1.5" fill="#2b5597"/>
<circle cx="309.3" cy="270.6" r="1.5" fill="#2b5597"/>
<circle cx="319.8" cy="268.99" r="1.5" fill="#2b5597"/>
<circle cx="330.3" cy="268.99" r="1.5" fill="#2b5597"/>
<circle cx="340.8" cy="270.2" r="1.5" fill="#2b5597"/>
<circle cx="351.3" cy="271.41" r="1.5" fill="#2b5597"/>
<circle cx="361.8" cy="275.03" r="1.5" fill="#2b5597"/>
<circle cx="372.3" cy="280.68" r="1.5" fill="#2b5597"/>
<circle cx="382.8" cy="290.35" r="1.5" fill="#2b5597"/>
<circle cx="393.3" cy="306.87" r="1.5" fill="#2b5597"/>
<circle cx="403.8" cy="322.99" r="1.5" fill="#2b5597"/>
<circle cx="414.3" cy="339.92" r="1.5" fill="#2b5597"/>
<circle cx="424.8" cy="351.2" r="1.5" fill="#2b5597"/>
<circle cx="435.3" cy="355.23" r="1.5" fill="#2b5597"/>
<circle cx="445.8" cy="356.04" r="1.5" fill="#2b5597"/>
<circle cx="456.3" cy="356.84" r="1.5" fill="#2b5597"/>
<circle cx="466.8" cy="356.84" r="1.5" fill="#2b5597"/>
<rect x="298.2" y="251.4" width="168.4" height="125.3" fill="none" stroke="#555" stroke-width="1"/>
<text x="392.5" y="279.3" font-size="7.8" text-anchor="middle" fill="#2c4f91" stroke="#2c4f91" stroke-width="0.18">V &lt; 0</text>
<text x="349.5" y="315" font-size="7.8" text-anchor="middle" fill="#8a1f2a" stroke="#8a1f2a" stroke-width="0.18">V &gt; 0</text>
<text x="301.3" y="367.3" font-size="7.3" text-anchor="start" fill="#333" stroke="#333" stroke-width="0.18">TaO<tspan font-size="5" dy="2.3">y</tspan></text>
<text x="353" y="367.3" font-size="7.3" text-anchor="start" fill="#333" stroke="#333" stroke-width="0.18">NP TaO<tspan font-size="5" dy="2.3">x</tspan></text>
<text x="402.8" y="368.8" font-size="7.5" text-anchor="start" fill="#8a1f3a" stroke="#8a1f3a" stroke-width="0.18">Ta</text>
<text x="446.3" y="368.8" font-size="7.5" text-anchor="start" fill="#2c4f91" stroke="#2c4f91" stroke-width="0.18">Ta</text>
<line x1="412.5" y1="366.2" x2="420.5" y2="366.2" stroke="#7a1f3a" stroke-width="1.5"/>
<path d="M418 363.3 L421.5 366.2 L418 369.1" stroke="#7a1f3a" stroke-width="1.5" fill="none" stroke-linejoin="miter"/>
<line x1="456.5" y1="366.2" x2="464.5" y2="366.2" stroke="#2c4f91" stroke-width="1.5"/>
<path d="M462 363.3 L465.5 366.2 L462 369.1" stroke="#2c4f91" stroke-width="1.5" fill="none" stroke-linejoin="miter"/>
<text x="436.8" y="227" font-size="7.75" text-anchor="middle" fill="#333" stroke="#333" stroke-width="0.18">Shift of Ohmic-like</text>
<text x="436.8" y="236.2" font-size="7.75" text-anchor="middle" fill="#333" stroke="#333" stroke-width="0.18">contact site</text>
<line x1="422" y1="245.9" x2="450.5" y2="245.9" stroke="#1a1a1a" stroke-width="2.2"/>
<path d="M417 245.9 L424.5 241.7 L423 245.9 L424.5 250.1 Z" stroke="none" stroke-width="1" fill="#1a1a1a"/>
<path d="M455.5 245.9 L448 241.7 L449.5 245.9 L448 250.1 Z" stroke="none" stroke-width="1" fill="#1a1a1a"/>
<line x1="530.7" y1="380.9" x2="530.7" y2="378.7" stroke="#555" stroke-width="0.8"/>
<line x1="547.51" y1="380.9" x2="547.51" y2="379.6" stroke="#555" stroke-width="0.8"/>
<line x1="564.33" y1="380.9" x2="564.33" y2="378.7" stroke="#555" stroke-width="0.8"/>
<line x1="581.14" y1="380.9" x2="581.14" y2="379.6" stroke="#555" stroke-width="0.8"/>
<line x1="597.95" y1="380.9" x2="597.95" y2="378.7" stroke="#555" stroke-width="0.8"/>
<line x1="614.76" y1="380.9" x2="614.76" y2="379.6" stroke="#555" stroke-width="0.8"/>
<line x1="631.58" y1="380.9" x2="631.58" y2="378.7" stroke="#555" stroke-width="0.8"/>
<line x1="648.39" y1="380.9" x2="648.39" y2="379.6" stroke="#555" stroke-width="0.8"/>
<line x1="665.2" y1="380.9" x2="665.2" y2="378.7" stroke="#555" stroke-width="0.8"/>
<text x="530.7" y="391.6" font-size="8.2" text-anchor="middle" fill="#222" stroke="#222" stroke-width="0.18">0</text>
<text x="564.33" y="391.6" font-size="8.2" text-anchor="middle" fill="#222" stroke="#222" stroke-width="0.18">50</text>
<text x="597.95" y="391.6" font-size="8.2" text-anchor="middle" fill="#222" stroke="#222" stroke-width="0.18">100</text>
<text x="631.58" y="391.6" font-size="8.2" text-anchor="middle" fill="#222" stroke="#222" stroke-width="0.18">150</text>
<text x="665.2" y="391.6" font-size="8.2" text-anchor="middle" fill="#222" stroke="#222" stroke-width="0.18">200</text>
<text x="598" y="402" font-size="8.3" text-anchor="middle" fill="#222" stroke="#222" stroke-width="0.18">Pulse number (#)</text>
<line x1="514.2" y1="372.6" x2="516.6" y2="372.6" stroke="#555" stroke-width="0.8"/>
<line x1="514.2" y1="354.66" x2="515.5" y2="354.66" stroke="#555" stroke-width="0.6"/>
<line x1="514.2" y1="344.16" x2="515.5" y2="344.16" stroke="#555" stroke-width="0.6"/>
<line x1="514.2" y1="336.72" x2="515.5" y2="336.72" stroke="#555" stroke-width="0.6"/>
<line x1="514.2" y1="330.94" x2="515.5" y2="330.94" stroke="#555" stroke-width="0.6"/>
<line x1="514.2" y1="326.22" x2="515.5" y2="326.22" stroke="#555" stroke-width="0.6"/>
<line x1="514.2" y1="322.23" x2="515.5" y2="322.23" stroke="#555" stroke-width="0.6"/>
<line x1="514.2" y1="318.78" x2="515.5" y2="318.78" stroke="#555" stroke-width="0.6"/>
<line x1="514.2" y1="315.73" x2="515.5" y2="315.73" stroke="#555" stroke-width="0.6"/>
<line x1="514.2" y1="313" x2="516.6" y2="313" stroke="#555" stroke-width="0.8"/>
<line x1="514.2" y1="295.06" x2="515.5" y2="295.06" stroke="#555" stroke-width="0.6"/>
<line x1="514.2" y1="284.56" x2="515.5" y2="284.56" stroke="#555" stroke-width="0.6"/>
<line x1="514.2" y1="277.12" x2="515.5" y2="277.12" stroke="#555" stroke-width="0.6"/>
<line x1="514.2" y1="271.34" x2="515.5" y2="271.34" stroke="#555" stroke-width="0.6"/>
<line x1="514.2" y1="266.62" x2="515.5" y2="266.62" stroke="#555" stroke-width="0.6"/>
<line x1="514.2" y1="262.63" x2="515.5" y2="262.63" stroke="#555" stroke-width="0.6"/>
<line x1="514.2" y1="259.18" x2="515.5" y2="259.18" stroke="#555" stroke-width="0.6"/>
<line x1="514.2" y1="256.13" x2="515.5" y2="256.13" stroke="#555" stroke-width="0.6"/>
<line x1="514.2" y1="253.4" x2="516.6" y2="253.4" stroke="#555" stroke-width="0.8"/>
<text x="511.5" y="375.6" font-size="8.2" text-anchor="end" fill="#222" stroke="#222" stroke-width="0.18">10<tspan font-size="5.3" dy="-3.3">-9</tspan></text>
<text x="511.5" y="316" font-size="8.2" text-anchor="end" fill="#222" stroke="#222" stroke-width="0.18">10<tspan font-size="5.3" dy="-3.3">-8</tspan></text>
<text x="511.5" y="257.9" font-size="8.2" text-anchor="end" fill="#222" stroke="#222" stroke-width="0.18">10<tspan font-size="5.3" dy="-3.3">-7</tspan></text>
<text x="493.6" y="315.4" font-size="8.4" text-anchor="middle" fill="#222" stroke="#222" stroke-width="0.18" transform="rotate(-90 493.6 315.4)">PSC (A)</text>
<g clip-path="url(#cliph)">
<path d="M530.7 370.67 L531.37 368.64 L532.05 361.61 L532.72 362.59 L533.39 358.32 L534.06 356.66 L534.74 359.16 L535.41 354.86 L536.08 353.5 L536.75 354.03 L537.43 353.99 L538.1 351.23 L538.77 351.73 L539.44 348.36 L540.12 348.94 L540.79 348.33 L541.46 346.26 L542.13 345.51 L542.81 344.88 L543.48 346.98 L544.15 346.71 L544.82 346.07 L545.5 346.4 L546.17 343.51 L546.84 345.42 L547.51 345.64 L548.19 346.22 L548.86 343.01 L549.53 343.48 L550.2 340.24 L550.88 342.63 L551.55 339.26 L552.22 340.33 L552.89 344.55 L553.57 338.29 L554.24 343.38 L554.91 342.22 L555.58 340.76 L556.25 341.84 L556.93 341.66 L557.6 342.29 L558.27 339.69 L558.95 338.74 L559.62 338.42 L560.29 337.44 L560.96 338.84 L561.63 337.21 L562.31 340.26 L562.98 334.68 L563.65 335.79 L564.33 335.76 L565 333.42 L565.67 340.33 L566.34 332.29 L567.02 335.83 L567.69 335.12 L568.36 338.77 L569.03 331.93 L569.71 337.16 L570.38 333.64 L571.05 334.41 L571.72 333.2 L572.4 335.29 L573.07 331.82 L573.74 333.46 L574.41 333.97 L575.09 336.38 L575.76 328.47 L576.43 335.28 L577.1 333.98 L577.78 331.14 L578.45 332.3 L579.12 330.65 L579.79 334.19 L580.47 331.35 L581.14 330.32 L581.81 330.04 L582.48 329.84 L583.16 329.62 L583.83 328.1 L584.5 333.14 L585.17 325.74 L585.85 322.43 L586.52 328.45 L587.19 328.16 L587.86 328.84 L588.54 327.55 L589.21 327.41 L589.88 328.02 L590.55 328.92 L591.23 326.12 L591.9 326.01 L592.57 329.93 L593.24 327.15 L593.92 324.18 L594.59 329.89 L595.26 326.86 L595.93 324.16 L596.61 322.87 L597.28 325.28 L597.95 323.5 L598.62 329.73 L599.3 334.82 L599.97 340.09 L600.64 345.46 L601.31 347.43 L601.99 349.41 L602.66 353.8 L603.33 355.4 L604 357.94 L604.68 359.85 L605.35 359.98 L606.02 361.18 L606.69 362.29 L607.37 362.19 L608.04 364.57 L608.71 365.87 L609.38 365.36 L610.06 365.49 L610.73 365.9 L611.4 365.82 L612.07 366.13 L612.75 366.78 L613.42 366.64 L614.09 367.24 L614.76 366.41 L615.44 368.33 L616.11 368.22 L616.78 367.28 L617.45 366.39 L618.12 368.57 L618.8 369.68 L619.47 368.13 L620.14 368.45 L620.82 368.46 L621.49 369.64 L622.16 368.31 L622.83 370.09 L623.5 369 L624.18 370.18 L624.85 369.44 L625.52 369.26 L626.2 368.2 L626.87 368.97 L627.54 369.42 L628.21 370.3 L628.88 369.98 L629.56 369.19 L630.23 370.24 L630.9 370.82 L631.58 369.85 L632.25 369.64 L632.92 369.73 L633.59 370.87 L634.27 370.67 L634.94 369.4 L635.61 370.63 L636.28 369.91 L636.96 369.72 L637.63 371.56 L638.3 371.23 L638.97 369.89 L639.64 370.67 L640.32 371.1 L640.99 370.12 L641.66 370.64 L642.34 371.4 L643.01 369.24 L643.68 371.19 L644.35 371.61 L645.03 363 L645.7 369.84 L646.37 371.39 L647.04 370.37 L647.72 371.71 L648.39 371.79 L649.06 371.49 L649.73 370.66 L650.41 370.87 L651.08 372.22 L651.75 370.69 L652.42 372 L653.1 372.06 L653.77 371.4 L654.44 373.85 L655.11 371.81 L655.79 373.73 L656.46 370.04 L657.13 369.88 L657.8 372.83 L658.48 372.57 L659.15 371.77 L659.82 372.05 L660.49 370.44 L661.17 371.63 L661.84 371.32 L662.51 372.1 L663.18 373.15 L663.86 372.45 L664.53 372.78 L665.2 371.87" stroke="#111" stroke-width="0.8" fill="none"/>
<circle cx="530.7" cy="370.67" r="1.35" fill="#111"/>
<circle cx="531.37" cy="368.64" r="1.35" fill="#111"/>
<circle cx="532.05" cy="361.61" r="1.35" fill="#111"/>
<circle cx="532.72" cy="362.59" r="1.35" fill="#111"/>
<circle cx="533.39" cy="358.32" r="1.35" fill="#111"/>
<circle cx="534.06" cy="356.66" r="1.35" fill="#111"/>
<circle cx="534.74" cy="359.16" r="1.35" fill="#111"/>
<circle cx="535.41" cy="354.86" r="1.35" fill="#111"/>
<circle cx="536.08" cy="353.5" r="1.35" fill="#111"/>
<circle cx="536.75" cy="354.03" r="1.35" fill="#111"/>
<circle cx="537.43" cy="353.99" r="1.35" fill="#111"/>
<circle cx="538.1" cy="351.23" r="1.35" fill="#111"/>
<circle cx="538.77" cy="351.73" r="1.35" fill="#111"/>
<circle cx="539.44" cy="348.36" r="1.35" fill="#111"/>
<circle cx="540.12" cy="348.94" r="1.35" fill="#111"/>
<circle cx="540.79" cy="348.33" r="1.35" fill="#111"/>
<circle cx="541.46" cy="346.26" r="1.35" fill="#111"/>
<circle cx="542.13" cy="345.51" r="1.35" fill="#111"/>
<circle cx="542.81" cy="344.88" r="1.35" fill="#111"/>
<circle cx="543.48" cy="346.98" r="1.35" fill="#111"/>
<circle cx="544.15" cy="346.71" r="1.35" fill="#111"/>
<circle cx="544.82" cy="346.07" r="1.35" fill="#111"/>
<circle cx="545.5" cy="346.4" r="1.35" fill="#111"/>
<circle cx="546.17" cy="343.51" r="1.35" fill="#111"/>
<circle cx="546.84" cy="345.42" r="1.35" fill="#111"/>
<circle cx="547.51" cy="345.64" r="1.35" fill="#111"/>
<circle cx="548.19" cy="346.22" r="1.35" fill="#111"/>
<circle cx="548.86" cy="343.01" r="1.35" fill="#111"/>
<circle cx="549.53" cy="343.48" r="1.35" fill="#111"/>
<circle cx="550.2" cy="340.24" r="1.35" fill="#111"/>
<circle cx="550.88" cy="342.63" r="1.35" fill="#111"/>
<circle cx="551.55" cy="339.26" r="1.35" fill="#111"/>
<circle cx="552.22" cy="340.33" r="1.35" fill="#111"/>
<circle cx="552.89" cy="344.55" r="1.35" fill="#111"/>
<circle cx="553.57" cy="338.29" r="1.35" fill="#111"/>
<circle cx="554.24" cy="343.38" r="1.35" fill="#111"/>
<circle cx="554.91" cy="342.22" r="1.35" fill="#111"/>
<circle cx="555.58" cy="340.76" r="1.35" fill="#111"/>
<circle cx="556.25" cy="341.84" r="1.35" fill="#111"/>
<circle cx="556.93" cy="341.66" r="1.35" fill="#111"/>
<circle cx="557.6" cy="342.29" r="1.35" fill="#111"/>
<circle cx="558.27" cy="339.69" r="1.35" fill="#111"/>
<circle cx="558.95" cy="338.74" r="1.35" fill="#111"/>
<circle cx="559.62" cy="338.42" r="1.35" fill="#111"/>
<circle cx="560.29" cy="337.44" r="1.35" fill="#111"/>
<circle cx="560.96" cy="338.84" r="1.35" fill="#111"/>
<circle cx="561.63" cy="337.21" r="1.35" fill="#111"/>
<circle cx="562.31" cy="340.26" r="1.35" fill="#111"/>
<circle cx="562.98" cy="334.68" r="1.35" fill="#111"/>
<circle cx="563.65" cy="335.79" r="1.35" fill="#111"/>
<circle cx="564.33" cy="335.76" r="1.35" fill="#111"/>
<circle cx="565" cy="333.42" r="1.35" fill="#111"/>
<circle cx="565.67" cy="340.33" r="1.35" fill="#111"/>
<circle cx="566.34" cy="332.29" r="1.35" fill="#111"/>
<circle cx="567.02" cy="335.83" r="1.35" fill="#111"/>
<circle cx="567.69" cy="335.12" r="1.35" fill="#111"/>
<circle cx="568.36" cy="338.77" r="1.35" fill="#111"/>
<circle cx="569.03" cy="331.93" r="1.35" fill="#111"/>
<circle cx="569.71" cy="337.16" r="1.35" fill="#111"/>
<circle cx="570.38" cy="333.64" r="1.35" fill="#111"/>
<circle cx="571.05" cy="334.41" r="1.35" fill="#111"/>
<circle cx="571.72" cy="333.2" r="1.35" fill="#111"/>
<circle cx="572.4" cy="335.29" r="1.35" fill="#111"/>
<circle cx="573.07" cy="331.82" r="1.35" fill="#111"/>
<circle cx="573.74" cy="333.46" r="1.35" fill="#111"/>
<circle cx="574.41" cy="333.97" r="1.35" fill="#111"/>
<circle cx="575.09" cy="336.38" r="1.35" fill="#111"/>
<circle cx="575.76" cy="328.47" r="1.35" fill="#111"/>
<circle cx="576.43" cy="335.28" r="1.35" fill="#111"/>
<circle cx="577.1" cy="333.98" r="1.35" fill="#111"/>
<circle cx="577.78" cy="331.14" r="1.35" fill="#111"/>
<circle cx="578.45" cy="332.3" r="1.35" fill="#111"/>
<circle cx="579.12" cy="330.65" r="1.35" fill="#111"/>
<circle cx="579.79" cy="334.19" r="1.35" fill="#111"/>
<circle cx="580.47" cy="331.35" r="1.35" fill="#111"/>
<circle cx="581.14" cy="330.32" r="1.35" fill="#111"/>
<circle cx="581.81" cy="330.04" r="1.35" fill="#111"/>
<circle cx="582.48" cy="329.84" r="1.35" fill="#111"/>
<circle cx="583.16" cy="329.62" r="1.35" fill="#111"/>
<circle cx="583.83" cy="328.1" r="1.35" fill="#111"/>
<circle cx="584.5" cy="333.14" r="1.35" fill="#111"/>
<circle cx="585.17" cy="325.74" r="1.35" fill="#111"/>
<circle cx="585.85" cy="322.43" r="1.35" fill="#111"/>
<circle cx="586.52" cy="328.45" r="1.35" fill="#111"/>
<circle cx="587.19" cy="328.16" r="1.35" fill="#111"/>
<circle cx="587.86" cy="328.84" r="1.35" fill="#111"/>
<circle cx="588.54" cy="327.55" r="1.35" fill="#111"/>
<circle cx="589.21" cy="327.41" r="1.35" fill="#111"/>
<circle cx="589.88" cy="328.02" r="1.35" fill="#111"/>
<circle cx="590.55" cy="328.92" r="1.35" fill="#111"/>
<circle cx="591.23" cy="326.12" r="1.35" fill="#111"/>
<circle cx="591.9" cy="326.01" r="1.35" fill="#111"/>
<circle cx="592.57" cy="329.93" r="1.35" fill="#111"/>
<circle cx="593.24" cy="327.15" r="1.35" fill="#111"/>
<circle cx="593.92" cy="324.18" r="1.35" fill="#111"/>
<circle cx="594.59" cy="329.89" r="1.35" fill="#111"/>
<circle cx="595.26" cy="326.86" r="1.35" fill="#111"/>
<circle cx="595.93" cy="324.16" r="1.35" fill="#111"/>
<circle cx="596.61" cy="322.87" r="1.35" fill="#111"/>
<circle cx="597.28" cy="325.28" r="1.35" fill="#111"/>
<circle cx="597.95" cy="323.5" r="1.35" fill="#111"/>
<circle cx="598.62" cy="329.73" r="1.35" fill="#111"/>
<circle cx="599.3" cy="334.82" r="1.35" fill="#111"/>
<circle cx="599.97" cy="340.09" r="1.35" fill="#111"/>
<circle cx="600.64" cy="345.46" r="1.35" fill="#111"/>
<circle cx="601.31" cy="347.43" r="1.35" fill="#111"/>
<circle cx="601.99" cy="349.41" r="1.35" fill="#111"/>
<circle cx="602.66" cy="353.8" r="1.35" fill="#111"/>
<circle cx="603.33" cy="355.4" r="1.35" fill="#111"/>
<circle cx="604" cy="357.94" r="1.35" fill="#111"/>
<circle cx="604.68" cy="359.85" r="1.35" fill="#111"/>
<circle cx="605.35" cy="359.98" r="1.35" fill="#111"/>
<circle cx="606.02" cy="361.18" r="1.35" fill="#111"/>
<circle cx="606.69" cy="362.29" r="1.35" fill="#111"/>
<circle cx="607.37" cy="362.19" r="1.35" fill="#111"/>
<circle cx="608.04" cy="364.57" r="1.35" fill="#111"/>
<circle cx="608.71" cy="365.87" r="1.35" fill="#111"/>
<circle cx="609.38" cy="365.36" r="1.35" fill="#111"/>
<circle cx="610.06" cy="365.49" r="1.35" fill="#111"/>
<circle cx="610.73" cy="365.9" r="1.35" fill="#111"/>
<circle cx="611.4" cy="365.82" r="1.35" fill="#111"/>
<circle cx="612.07" cy="366.13" r="1.35" fill="#111"/>
<circle cx="612.75" cy="366.78" r="1.35" fill="#111"/>
<circle cx="613.42" cy="366.64" r="1.35" fill="#111"/>
<circle cx="614.09" cy="367.24" r="1.35" fill="#111"/>
<circle cx="614.76" cy="366.41" r="1.35" fill="#111"/>
<circle cx="615.44" cy="368.33" r="1.35" fill="#111"/>
<circle cx="616.11" cy="368.22" r="1.35" fill="#111"/>
<circle cx="616.78" cy="367.28" r="1.35" fill="#111"/>
<circle cx="617.45" cy="366.39" r="1.35" fill="#111"/>
<circle cx="618.12" cy="368.57" r="1.35" fill="#111"/>
<circle cx="618.8" cy="369.68" r="1.35" fill="#111"/>
<circle cx="619.47" cy="368.13" r="1.35" fill="#111"/>
<circle cx="620.14" cy="368.45" r="1.35" fill="#111"/>
<circle cx="620.82" cy="368.46" r="1.35" fill="#111"/>
<circle cx="621.49" cy="369.64" r="1.35" fill="#111"/>
<circle cx="622.16" cy="368.31" r="1.35" fill="#111"/>
<circle cx="622.83" cy="370.09" r="1.35" fill="#111"/>
<circle cx="623.5" cy="369" r="1.35" fill="#111"/>
<circle cx="624.18" cy="370.18" r="1.35" fill="#111"/>
<circle cx="624.85" cy="369.44" r="1.35" fill="#111"/>
<circle cx="625.52" cy="369.26" r="1.35" fill="#111"/>
<circle cx="626.2" cy="368.2" r="1.35" fill="#111"/>
<circle cx="626.87" cy="368.97" r="1.35" fill="#111"/>
<circle cx="627.54" cy="369.42" r="1.35" fill="#111"/>
<circle cx="628.21" cy="370.3" r="1.35" fill="#111"/>
<circle cx="628.88" cy="369.98" r="1.35" fill="#111"/>
<circle cx="629.56" cy="369.19" r="1.35" fill="#111"/>
<circle cx="630.23" cy="370.24" r="1.35" fill="#111"/>
<circle cx="630.9" cy="370.82" r="1.35" fill="#111"/>
<circle cx="631.58" cy="369.85" r="1.35" fill="#111"/>
<circle cx="632.25" cy="369.64" r="1.35" fill="#111"/>
<circle cx="632.92" cy="369.73" r="1.35" fill="#111"/>
<circle cx="633.59" cy="370.87" r="1.35" fill="#111"/>
<circle cx="634.27" cy="370.67" r="1.35" fill="#111"/>
<circle cx="634.94" cy="369.4" r="1.35" fill="#111"/>
<circle cx="635.61" cy="370.63" r="1.35" fill="#111"/>
<circle cx="636.28" cy="369.91" r="1.35" fill="#111"/>
<circle cx="636.96" cy="369.72" r="1.35" fill="#111"/>
<circle cx="637.63" cy="371.56" r="1.35" fill="#111"/>
<circle cx="638.3" cy="371.23" r="1.35" fill="#111"/>
<circle cx="638.97" cy="369.89" r="1.35" fill="#111"/>
<circle cx="639.64" cy="370.67" r="1.35" fill="#111"/>
<circle cx="640.32" cy="371.1" r="1.35" fill="#111"/>
<circle cx="640.99" cy="370.12" r="1.35" fill="#111"/>
<circle cx="641.66" cy="370.64" r="1.35" fill="#111"/>
<circle cx="642.34" cy="371.4" r="1.35" fill="#111"/>
<circle cx="643.01" cy="369.24" r="1.35" fill="#111"/>
<circle cx="643.68" cy="371.19" r="1.35" fill="#111"/>
<circle cx="644.35" cy="371.61" r="1.35" fill="#111"/>
<circle cx="645.03" cy="363" r="1.35" fill="#111"/>
<circle cx="645.7" cy="369.84" r="1.35" fill="#111"/>
<circle cx="646.37" cy="371.39" r="1.35" fill="#111"/>
<circle cx="647.04" cy="370.37" r="1.35" fill="#111"/>
<circle cx="647.72" cy="371.71" r="1.35" fill="#111"/>
<circle cx="648.39" cy="371.79" r="1.35" fill="#111"/>
<circle cx="649.06" cy="371.49" r="1.35" fill="#111"/>
<circle cx="649.73" cy="370.66" r="1.35" fill="#111"/>
<circle cx="650.41" cy="370.87" r="1.35" fill="#111"/>
<circle cx="651.08" cy="372.22" r="1.35" fill="#111"/>
<circle cx="651.75" cy="370.69" r="1.35" fill="#111"/>
<circle cx="652.42" cy="372" r="1.35" fill="#111"/>
<circle cx="653.1" cy="372.06" r="1.35" fill="#111"/>
<circle cx="653.77" cy="371.4" r="1.35" fill="#111"/>
<circle cx="654.44" cy="373.85" r="1.35" fill="#111"/>
<circle cx="655.11" cy="371.81" r="1.35" fill="#111"/>
<circle cx="655.79" cy="373.73" r="1.35" fill="#111"/>
<circle cx="656.46" cy="370.04" r="1.35" fill="#111"/>
<circle cx="657.13" cy="369.88" r="1.35" fill="#111"/>
<circle cx="657.8" cy="372.83" r="1.35" fill="#111"/>
<circle cx="658.48" cy="372.57" r="1.35" fill="#111"/>
<circle cx="659.15" cy="371.77" r="1.35" fill="#111"/>
<circle cx="659.82" cy="372.05" r="1.35" fill="#111"/>
<circle cx="660.49" cy="370.44" r="1.35" fill="#111"/>
<circle cx="661.17" cy="371.63" r="1.35" fill="#111"/>
<circle cx="661.84" cy="371.32" r="1.35" fill="#111"/>
<circle cx="662.51" cy="372.1" r="1.35" fill="#111"/>
<circle cx="663.18" cy="373.15" r="1.35" fill="#111"/>
<circle cx="663.86" cy="372.45" r="1.35" fill="#111"/>
<circle cx="664.53" cy="372.78" r="1.35" fill="#111"/>
<circle cx="665.2" cy="371.87" r="1.35" fill="#111"/>
<path d="M530.7 352 L531.37 344.67 L532.05 337.96 L532.72 333.66 L533.39 327.63 L534.06 325.74 L534.74 320.49 L535.41 319.16 L536.08 315.51 L536.75 315.16 L537.43 312.33 L538.1 310.97 L538.77 309.85 L539.44 307.68 L540.12 306.32 L540.79 304.67 L541.46 306.06 L542.13 303.92 L542.81 303.26 L543.48 302.98 L544.15 303.76 L544.82 300.58 L545.5 301.41 L546.17 300.44 L546.84 300.59 L547.51 298.49 L548.19 299.03 L548.86 299.47 L549.53 299.56 L550.2 299.2 L550.88 297.1 L551.55 297.38 L552.22 296.91 L552.89 295.68 L553.57 295.31 L554.24 296.53 L554.91 291.87 L555.58 292.8 L556.25 293.46 L556.93 291.63 L557.6 292.43 L558.27 291.81 L558.95 291.5 L559.62 291.64 L560.29 291.18 L560.96 291.01 L561.63 290.78 L562.31 291.73 L562.98 289.94 L563.65 290.66 L564.33 290.18 L565 289.31 L565.67 289.92 L566.34 288.58 L567.02 289.81 L567.69 288.26 L568.36 288.31 L569.03 288.72 L569.71 288.91 L570.38 288.81 L571.05 288.65 L571.72 287.73 L572.4 287.06 L573.07 287.98 L573.74 287.67 L574.41 286.66 L575.09 287.88 L575.76 287.22 L576.43 286.29 L577.1 287.15 L577.78 285.8 L578.45 286 L579.12 286.79 L579.79 285.31 L580.47 286.33 L581.14 285.26 L581.81 286.62 L582.48 285.5 L583.16 286.05 L583.83 284.78 L584.5 285.51 L585.17 286.33 L585.85 285.91 L586.52 284.22 L587.19 286.08 L587.86 285.98 L588.54 285.02 L589.21 286.21 L589.88 284.41 L590.55 285.02 L591.23 285.8 L591.9 285.87 L592.57 285.79 L593.24 284.07 L593.92 283.53 L594.59 285 L595.26 283.67 L595.93 284.52 L596.61 283.67 L597.28 285.26 L597.95 285.03 L598.62 288.68 L599.3 292.08 L599.97 295.58 L600.64 298.57 L601.31 302.03 L601.99 304.71 L602.66 307.42 L603.33 309.17 L604 313.01 L604.68 313.93 L605.35 316.62 L606.02 318.36 L606.69 318.47 L607.37 319.46 L608.04 322.97 L608.71 323.17 L609.38 324.77 L610.06 325.72 L610.73 327.11 L611.4 327.24 L612.07 328.99 L612.75 329.67 L613.42 330.87 L614.09 330.07 L614.76 333.07 L615.44 333.48 L616.11 332.74 L616.78 334.11 L617.45 335.29 L618.12 336.32 L618.8 336.46 L619.47 337.99 L620.14 337.56 L620.82 337.36 L621.49 338.07 L622.16 339.54 L622.83 339.04 L623.5 340.49 L624.18 341.03 L624.85 341.13 L625.52 341.82 L626.2 341.36 L626.87 341.83 L627.54 341.78 L628.21 342.1 L628.88 341.76 L629.56 342.79 L630.23 342.74 L630.9 342.79 L631.58 344.18 L632.25 344.68 L632.92 344.4 L633.59 345.86 L634.27 345.83 L634.94 346.15 L635.61 345.25 L636.28 344.87 L636.96 346.54 L637.63 346.6 L638.3 347.12 L638.97 347.12 L639.64 347.93 L640.32 347.05 L640.99 347.93 L641.66 347.04 L642.34 346.24 L643.01 347.74 L643.68 349.29 L644.35 347.25 L645.03 349.32 L645.7 348.31 L646.37 348.68 L647.04 349.16 L647.72 349.45 L648.39 348.78 L649.06 349.71 L649.73 350.09 L650.41 350.52 L651.08 349.56 L651.75 351.32 L652.42 351.71 L653.1 352.21 L653.77 349.72 L654.44 350.92 L655.11 349.63 L655.79 351.33 L656.46 351.58 L657.13 350.52 L657.8 350.34 L658.48 351.7 L659.15 352.13 L659.82 351.25 L660.49 351.74 L661.17 350.27 L661.84 351.65 L662.51 352.36 L663.18 352.47 L663.86 353.58 L664.53 351.78 L665.2 351.1" stroke="#8f1d22" stroke-width="0.8" fill="none"/>
<path d="M530.7 350.4 l1.45 2.5 l-2.9 0 Z" fill="#8f1d22"/>
<path d="M531.37 343.07 l1.45 2.5 l-2.9 0 Z" fill="#8f1d22"/>
<path d="M532.05 336.36 l1.45 2.5 l-2.9 0 Z" fill="#8f1d22"/>
<path d="M532.72 332.06 l1.45 2.5 l-2.9 0 Z" fill="#8f1d22"/>
<path d="M533.39 326.03 l1.45 2.5 l-2.9 0 Z" fill="#8f1d22"/>
<path d="M534.06 324.14 l1.45 2.5 l-2.9 0 Z" fill="#8f1d22"/>
<path d="M534.74 318.89 l1.45 2.5 l-2.9 0 Z" fill="#8f1d22"/>
<path d="M535.41 317.56 l1.45 2.5 l-2.9 0 Z" fill="#8f1d22"/>
<path d="M536.08 313.91 l1.45 2.5 l-2.9 0 Z" fill="#8f1d22"/>
<path d="M536.75 313.56 l1.45 2.5 l-2.9 0 Z" fill="#8f1d22"/>
<path d="M537.43 310.73 l1.45 2.5 l-2.9 0 Z" fill="#8f1d22"/>
<path d="M538.1 309.37 l1.45 2.5 l-2.9 0 Z" fill="#8f1d22"/>
<path d="M538.77 308.25 l1.45 2.5 l-2.9 0 Z" fill="#8f1d22"/>
<path d="M539.44 306.08 l1.45 2.5 l-2.9 0 Z" fill="#8f1d22"/>
<path d="M540.12 304.72 l1.45 2.5 l-2.9 0 Z" fill="#8f1d22"/>
<path d="M540.79 303.07 l1.45 2.5 l-2.9 0 Z" fill="#8f1d22"/>
<path d="M541.46 304.46 l1.45 2.5 l-2.9 0 Z" fill="#8f1d22"/>
<path d="M542.13 302.32 l1.45 2.5 l-2.9 0 Z" fill="#8f1d22"/>
<path d="M542.81 301.66 l1.45 2.5 l-2.9 0 Z" fill="#8f1d22"/>
<path d="M543.48 301.38 l1.45 2.5 l-2.9 0 Z" fill="#8f1d22"/>
<path d="M544.15 302.16 l1.45 2.5 l-2.9 0 Z" fill="#8f1d22"/>
<path d="M544.82 298.98 l1.45 2.5 l-2.9 0 Z" fill="#8f1d22"/>
<path d="M545.5 299.81 l1.45 2.5 l-2.9 0 Z" fill="#8f1d22"/>
<path d="M546.17 298.84 l1.45 2.5 l-2.9 0 Z" fill="#8f1d22"/>
<path d="M546.84 298.99 l1.45 2.5 l-2.9 0 Z" fill="#8f1d22"/>
<path d="M547.51 296.89 l1.45 2.5 l-2.9 0 Z" fill="#8f1d22"/>
<path d="M548.19 297.43 l1.45 2.5 l-2.9 0 Z" fill="#8f1d22"/>
<path d="M548.86 297.87 l1.45 2.5 l-2.9 0 Z" fill="#8f1d22"/>
<path d="M549.53 297.96 l1.45 2.5 l-2.9 0 Z" fill="#8f1d22"/>
<path d="M550.2 297.6 l1.45 2.5 l-2.9 0 Z" fill="#8f1d22"/>
<path d="M550.88 295.5 l1.45 2.5 l-2.9 0 Z" fill="#8f1d22"/>
<path d="M551.55 295.78 l1.45 2.5 l-2.9 0 Z" fill="#8f1d22"/>
<path d="M552.22 295.31 l1.45 2.5 l-2.9 0 Z" fill="#8f1d22"/>
<path d="M552.89 294.08 l1.45 2.5 l-2.9 0 Z" fill="#8f1d22"/>
<path d="M553.57 293.71 l1.45 2.5 l-2.9 0 Z" fill="#8f1d22"/>
<path d="M554.24 294.93 l1.45 2.5 l-2.9 0 Z" fill="#8f1d22"/>
<path d="M554.91 290.27 l1.45 2.5 l-2.9 0 Z" fill="#8f1d22"/>
<path d="M555.58 291.2 l1.45 2.5 l-2.9 0 Z" fill="#8f1d22"/>
<path d="M556.25 291.86 l1.45 2.5 l-2.9 0 Z" fill="#8f1d22"/>
<path d="M556.93 290.03 l1.45 2.5 l-2.9 0 Z" fill="#8f1d22"/>
<path d="M557.6 290.83 l1.45 2.5 l-2.9 0 Z" fill="#8f1d22"/>
<path d="M558.27 290.21 l1.45 2.5 l-2.9 0 Z" fill="#8f1d22"/>
<path d="M558.95 289.9 l1.45 2.5 l-2.9 0 Z" fill="#8f1d22"/>
<path d="M559.62 290.04 l1.45 2.5 l-2.9 0 Z" fill="#8f1d22"/>
<path d="M560.29 289.58 l1.45 2.5 l-2.9 0 Z" fill="#8f1d22"/>
<path d="M560.96 289.41 l1.45 2.5 l-2.9 0 Z" fill="#8f1d22"/>
<path d="M561.63 289.18 l1.45 2.5 l-2.9 0 Z" fill="#8f1d22"/>
<path d="M562.31 290.13 l1.45 2.5 l-2.9 0 Z" fill="#8f1d22"/>
<path d="M562.98 288.34 l1.45 2.5 l-2.9 0 Z" fill="#8f1d22"/>
<path d="M563.65 289.06 l1.45 2.5 l-2.9 0 Z" fill="#8f1d22"/>
<path d="M564.33 288.58 l1.45 2.5 l-2.9 0 Z" fill="#8f1d22"/>
<path d="M565 287.71 l1.45 2.5 l-2.9 0 Z" fill="#8f1d22"/>
<path d="M565.67 288.32 l1.45 2.5 l-2.9 0 Z" fill="#8f1d22"/>
<path d="M566.34 286.98 l1.45 2.5 l-2.9 0 Z" fill="#8f1d22"/>
<path d="M567.02 288.21 l1.45 2.5 l-2.9 0 Z" fill="#8f1d22"/>
<path d="M567.69 286.66 l1.45 2.5 l-2.9 0 Z" fill="#8f1d22"/>
<path d="M568.36 286.71 l1.45 2.5 l-2.9 0 Z" fill="#8f1d22"/>
<path d="M569.03 287.12 l1.45 2.5 l-2.9 0 Z" fill="#8f1d22"/>
<path d="M569.71 287.31 l1.45 2.5 l-2.9 0 Z" fill="#8f1d22"/>
<path d="M570.38 287.21 l1.45 2.5 l-2.9 0 Z" fill="#8f1d22"/>
<path d="M571.05 287.05 l1.45 2.5 l-2.9 0 Z" fill="#8f1d22"/>
<path d="M571.72 286.13 l1.45 2.5 l-2.9 0 Z" fill="#8f1d22"/>
<path d="M572.4 285.46 l1.45 2.5 l-2.9 0 Z" fill="#8f1d22"/>
<path d="M573.07 286.38 l1.45 2.5 l-2.9 0 Z" fill="#8f1d22"/>
<path d="M573.74 286.07 l1.45 2.5 l-2.9 0 Z" fill="#8f1d22"/>
<path d="M574.41 285.06 l1.45 2.5 l-2.9 0 Z" fill="#8f1d22"/>
<path d="M575.09 286.28 l1.45 2.5 l-2.9 0 Z" fill="#8f1d22"/>
<path d="M575.76 285.62 l1.45 2.5 l-2.9 0 Z" fill="#8f1d22"/>
<path d="M576.43 284.69 l1.45 2.5 l-2.9 0 Z" fill="#8f1d22"/>
<path d="M577.1 285.55 l1.45 2.5 l-2.9 0 Z" fill="#8f1d22"/>
<path d="M577.78 284.2 l1.45 2.5 l-2.9 0 Z" fill="#8f1d22"/>
<path d="M578.45 284.4 l1.45 2.5 l-2.9 0 Z" fill="#8f1d22"/>
<path d="M579.12 285.19 l1.45 2.5 l-2.9 0 Z" fill="#8f1d22"/>
<path d="M579.79 283.71 l1.45 2.5 l-2.9 0 Z" fill="#8f1d22"/>
<path d="M580.47 284.73 l1.45 2.5 l-2.9 0 Z" fill="#8f1d22"/>
<path d="M581.14 283.66 l1.45 2.5 l-2.9 0 Z" fill="#8f1d22"/>
<path d="M581.81 285.02 l1.45 2.5 l-2.9 0 Z" fill="#8f1d22"/>
<path d="M582.48 283.9 l1.45 2.5 l-2.9 0 Z" fill="#8f1d22"/>
<path d="M583.16 284.45 l1.45 2.5 l-2.9 0 Z" fill="#8f1d22"/>
<path d="M583.83 283.18 l1.45 2.5 l-2.9 0 Z" fill="#8f1d22"/>
<path d="M584.5 283.91 l1.45 2.5 l-2.9 0 Z" fill="#8f1d22"/>
<path d="M585.17 284.73 l1.45 2.5 l-2.9 0 Z" fill="#8f1d22"/>
<path d="M585.85 284.31 l1.45 2.5 l-2.9 0 Z" fill="#8f1d22"/>
<path d="M586.52 282.62 l1.45 2.5 l-2.9 0 Z" fill="#8f1d22"/>
<path d="M587.19 284.48 l1.45 2.5 l-2.9 0 Z" fill="#8f1d22"/>
<path d="M587.86 284.38 l1.45 2.5 l-2.9 0 Z" fill="#8f1d22"/>
<path d="M588.54 283.42 l1.45 2.5 l-2.9 0 Z" fill="#8f1d22"/>
<path d="M589.21 284.61 l1.45 2.5 l-2.9 0 Z" fill="#8f1d22"/>
<path d="M589.88 282.81 l1.45 2.5 l-2.9 0 Z" fill="#8f1d22"/>
<path d="M590.55 283.42 l1.45 2.5 l-2.9 0 Z" fill="#8f1d22"/>
<path d="M591.23 284.2 l1.45 2.5 l-2.9 0 Z" fill="#8f1d22"/>
<path d="M591.9 284.27 l1.45 2.5 l-2.9 0 Z" fill="#8f1d22"/>
<path d="M592.57 284.19 l1.45 2.5 l-2.9 0 Z" fill="#8f1d22"/>
<path d="M593.24 282.47 l1.45 2.5 l-2.9 0 Z" fill="#8f1d22"/>
<path d="M593.92 281.93 l1.45 2.5 l-2.9 0 Z" fill="#8f1d22"/>
<path d="M594.59 283.4 l1.45 2.5 l-2.9 0 Z" fill="#8f1d22"/>
<path d="M595.26 282.07 l1.45 2.5 l-2.9 0 Z" fill="#8f1d22"/>
<path d="M595.93 282.92 l1.45 2.5 l-2.9 0 Z" fill="#8f1d22"/>
<path d="M596.61 282.07 l1.45 2.5 l-2.9 0 Z" fill="#8f1d22"/>
<path d="M597.28 283.66 l1.45 2.5 l-2.9 0 Z" fill="#8f1d22"/>
<path d="M597.95 283.43 l1.45 2.5 l-2.9 0 Z" fill="#8f1d22"/>
<path d="M598.62 287.08 l1.45 2.5 l-2.9 0 Z" fill="#8f1d22"/>
<path d="M599.3 290.48 l1.45 2.5 l-2.9 0 Z" fill="#8f1d22"/>
<path d="M599.97 293.98 l1.45 2.5 l-2.9 0 Z" fill="#8f1d22"/>
<path d="M600.64 296.97 l1.45 2.5 l-2.9 0 Z" fill="#8f1d22"/>
<path d="M601.31 300.43 l1.45 2.5 l-2.9 0 Z" fill="#8f1d22"/>
<path d="M601.99 303.11 l1.45 2.5 l-2.9 0 Z" fill="#8f1d22"/>
<path d="M602.66 305.82 l1.45 2.5 l-2.9 0 Z" fill="#8f1d22"/>
<path d="M603.33 307.57 l1.45 2.5 l-2.9 0 Z" fill="#8f1d22"/>
<path d="M604 311.41 l1.45 2.5 l-2.9 0 Z" fill="#8f1d22"/>
<path d="M604.68 312.33 l1.45 2.5 l-2.9 0 Z" fill="#8f1d22"/>
<path d="M605.35 315.02 l1.45 2.5 l-2.9 0 Z" fill="#8f1d22"/>
<path d="M606.02 316.76 l1.45 2.5 l-2.9 0 Z" fill="#8f1d22"/>
<path d="M606.69 316.87 l1.45 2.5 l-2.9 0 Z" fill="#8f1d22"/>
<path d="M607.37 317.86 l1.45 2.5 l-2.9 0 Z" fill="#8f1d22"/>
<path d="M608.04 321.37 l1.45 2.5 l-2.9 0 Z" fill="#8f1d22"/>
<path d="M608.71 321.57 l1.45 2.5 l-2.9 0 Z" fill="#8f1d22"/>
<path d="M609.38 323.17 l1.45 2.5 l-2.9 0 Z" fill="#8f1d22"/>
<path d="M610.06 324.12 l1.45 2.5 l-2.9 0 Z" fill="#8f1d22"/>
<path d="M610.73 325.51 l1.45 2.5 l-2.9 0 Z" fill="#8f1d22"/>
<path d="M611.4 325.64 l1.45 2.5 l-2.9 0 Z" fill="#8f1d22"/>
<path d="M612.07 327.39 l1.45 2.5 l-2.9 0 Z" fill="#8f1d22"/>
<path d="M612.75 328.07 l1.45 2.5 l-2.9 0 Z" fill="#8f1d22"/>
<path d="M613.42 329.27 l1.45 2.5 l-2.9 0 Z" fill="#8f1d22"/>
<path d="M614.09 328.47 l1.45 2.5 l-2.9 0 Z" fill="#8f1d22"/>
<path d="M614.76 331.47 l1.45 2.5 l-2.9 0 Z" fill="#8f1d22"/>
<path d="M615.44 331.88 l1.45 2.5 l-2.9 0 Z" fill="#8f1d22"/>
<path d="M616.11 331.14 l1.45 2.5 l-2.9 0 Z" fill="#8f1d22"/>
<path d="M616.78 332.51 l1.45 2.5 l-2.9 0 Z" fill="#8f1d22"/>
<path d="M617.45 333.69 l1.45 2.5 l-2.9 0 Z" fill="#8f1d22"/>
<path d="M618.12 334.72 l1.45 2.5 l-2.9 0 Z" fill="#8f1d22"/>
<path d="M618.8 334.86 l1.45 2.5 l-2.9 0 Z" fill="#8f1d22"/>
<path d="M619.47 336.39 l1.45 2.5 l-2.9 0 Z" fill="#8f1d22"/>
<path d="M620.14 335.96 l1.45 2.5 l-2.9 0 Z" fill="#8f1d22"/>
<path d="M620.82 335.76 l1.45 2.5 l-2.9 0 Z" fill="#8f1d22"/>
<path d="M621.49 336.47 l1.45 2.5 l-2.9 0 Z" fill="#8f1d22"/>
<path d="M622.16 337.94 l1.45 2.5 l-2.9 0 Z" fill="#8f1d22"/>
<path d="M622.83 337.44 l1.45 2.5 l-2.9 0 Z" fill="#8f1d22"/>
<path d="M623.5 338.89 l1.45 2.5 l-2.9 0 Z" fill="#8f1d22"/>
<path d="M624.18 339.43 l1.45 2.5 l-2.9 0 Z" fill="#8f1d22"/>
<path d="M624.85 339.53 l1.45 2.5 l-2.9 0 Z" fill="#8f1d22"/>
<path d="M625.52 340.22 l1.45 2.5 l-2.9 0 Z" fill="#8f1d22"/>
<path d="M626.2 339.76 l1.45 2.5 l-2.9 0 Z" fill="#8f1d22"/>
<path d="M626.87 340.23 l1.45 2.5 l-2.9 0 Z" fill="#8f1d22"/>
<path d="M627.54 340.18 l1.45 2.5 l-2.9 0 Z" fill="#8f1d22"/>
<path d="M628.21 340.5 l1.45 2.5 l-2.9 0 Z" fill="#8f1d22"/>
<path d="M628.88 340.16 l1.45 2.5 l-2.9 0 Z" fill="#8f1d22"/>
<path d="M629.56 341.19 l1.45 2.5 l-2.9 0 Z" fill="#8f1d22"/>
<path d="M630.23 341.14 l1.45 2.5 l-2.9 0 Z" fill="#8f1d22"/>
<path d="M630.9 341.19 l1.45 2.5 l-2.9 0 Z" fill="#8f1d22"/>
<path d="M631.58 342.58 l1.45 2.5 l-2.9 0 Z" fill="#8f1d22"/>
<path d="M632.25 343.08 l1.45 2.5 l-2.9 0 Z" fill="#8f1d22"/>
<path d="M632.92 342.8 l1.45 2.5 l-2.9 0 Z" fill="#8f1d22"/>
<path d="M633.59 344.26 l1.45 2.5 l-2.9 0 Z" fill="#8f1d22"/>
<path d="M634.27 344.23 l1.45 2.5 l-2.9 0 Z" fill="#8f1d22"/>
<path d="M634.94 344.55 l1.45 2.5 l-2.9 0 Z" fill="#8f1d22"/>
<path d="M635.61 343.65 l1.45 2.5 l-2.9 0 Z" fill="#8f1d22"/>
<path d="M636.28 343.27 l1.45 2.5 l-2.9 0 Z" fill="#8f1d22"/>
<path d="M636.96 344.94 l1.45 2.5 l-2.9 0 Z" fill="#8f1d22"/>
<path d="M637.63 345 l1.45 2.5 l-2.9 0 Z" fill="#8f1d22"/>
<path d="M638.3 345.52 l1.45 2.5 l-2.9 0 Z" fill="#8f1d22"/>
<path d="M638.97 345.52 l1.45 2.5 l-2.9 0 Z" fill="#8f1d22"/>
<path d="M639.64 346.33 l1.45 2.5 l-2.9 0 Z" fill="#8f1d22"/>
<path d="M640.32 345.45 l1.45 2.5 l-2.9 0 Z" fill="#8f1d22"/>
<path d="M640.99 346.33 l1.45 2.5 l-2.9 0 Z" fill="#8f1d22"/>
<path d="M641.66 345.44 l1.45 2.5 l-2.9 0 Z" fill="#8f1d22"/>
<path d="M642.34 344.64 l1.45 2.5 l-2.9 0 Z" fill="#8f1d22"/>
<path d="M643.01 346.14 l1.45 2.5 l-2.9 0 Z" fill="#8f1d22"/>
<path d="M643.68 347.69 l1.45 2.5 l-2.9 0 Z" fill="#8f1d22"/>
<path d="M644.35 345.65 l1.45 2.5 l-2.9 0 Z" fill="#8f1d22"/>
<path d="M645.03 347.72 l1.45 2.5 l-2.9 0 Z" fill="#8f1d22"/>
<path d="M645.7 346.71 l1.45 2.5 l-2.9 0 Z" fill="#8f1d22"/>
<path d="M646.37 347.08 l1.45 2.5 l-2.9 0 Z" fill="#8f1d22"/>
<path d="M647.04 347.56 l1.45 2.5 l-2.9 0 Z" fill="#8f1d22"/>
<path d="M647.72 347.85 l1.45 2.5 l-2.9 0 Z" fill="#8f1d22"/>
<path d="M648.39 347.18 l1.45 2.5 l-2.9 0 Z" fill="#8f1d22"/>
<path d="M649.06 348.11 l1.45 2.5 l-2.9 0 Z" fill="#8f1d22"/>
<path d="M649.73 348.49 l1.45 2.5 l-2.9 0 Z" fill="#8f1d22"/>
<path d="M650.41 348.92 l1.45 2.5 l-2.9 0 Z" fill="#8f1d22"/>
<path d="M651.08 347.96 l1.45 2.5 l-2.9 0 Z" fill="#8f1d22"/>
<path d="M651.75 349.72 l1.45 2.5 l-2.9 0 Z" fill="#8f1d22"/>
<path d="M652.42 350.11 l1.45 2.5 l-2.9 0 Z" fill="#8f1d22"/>
<path d="M653.1 350.61 l1.45 2.5 l-2.9 0 Z" fill="#8f1d22"/>
<path d="M653.77 348.12 l1.45 2.5 l-2.9 0 Z" fill="#8f1d22"/>
<path d="M654.44 349.32 l1.45 2.5 l-2.9 0 Z" fill="#8f1d22"/>
<path d="M655.11 348.03 l1.45 2.5 l-2.9 0 Z" fill="#8f1d22"/>
<path d="M655.79 349.73 l1.45 2.5 l-2.9 0 Z" fill="#8f1d22"/>
<path d="M656.46 349.98 l1.45 2.5 l-2.9 0 Z" fill="#8f1d22"/>
<path d="M657.13 348.92 l1.45 2.5 l-2.9 0 Z" fill="#8f1d22"/>
<path d="M657.8 348.74 l1.45 2.5 l-2.9 0 Z" fill="#8f1d22"/>
<path d="M658.48 350.1 l1.45 2.5 l-2.9 0 Z" fill="#8f1d22"/>
<path d="M659.15 350.53 l1.45 2.5 l-2.9 0 Z" fill="#8f1d22"/>
<path d="M659.82 349.65 l1.45 2.5 l-2.9 0 Z" fill="#8f1d22"/>
<path d="M660.49 350.14 l1.45 2.5 l-2.9 0 Z" fill="#8f1d22"/>
<path d="M661.17 348.67 l1.45 2.5 l-2.9 0 Z" fill="#8f1d22"/>
<path d="M661.84 350.05 l1.45 2.5 l-2.9 0 Z" fill="#8f1d22"/>
<path d="M662.51 350.76 l1.45 2.5 l-2.9 0 Z" fill="#8f1d22"/>
<path d="M663.18 350.87 l1.45 2.5 l-2.9 0 Z" fill="#8f1d22"/>
<path d="M663.86 351.98 l1.45 2.5 l-2.9 0 Z" fill="#8f1d22"/>
<path d="M664.53 350.18 l1.45 2.5 l-2.9 0 Z" fill="#8f1d22"/>
<path d="M665.2 349.5 l1.45 2.5 l-2.9 0 Z" fill="#8f1d22"/>
<path d="M530.7 350.36 L531.37 339.7 L532.05 332 L532.72 325.16 L533.39 318.9 L534.06 314.27 L534.74 309.64 L535.41 303.29 L536.08 301.17 L536.75 301.27 L537.43 295.08 L538.1 294.9 L538.77 291.4 L539.44 289.11 L540.12 290.59 L540.79 288.41 L541.46 285.27 L542.13 285.9 L542.81 281.59 L543.48 281.58 L544.15 283.2 L544.82 281.16 L545.5 278.82 L546.17 280.45 L546.84 279.68 L547.51 280.55 L548.19 279.54 L548.86 277.2 L549.53 276.41 L550.2 276.49 L550.88 275.92 L551.55 278.05 L552.22 277.85 L552.89 277.13 L553.57 275.3 L554.24 274.01 L554.91 275.39 L555.58 273.18 L556.25 273.73 L556.93 270.56 L557.6 272.12 L558.27 274.62 L558.95 270.63 L559.62 269.64 L560.29 271.36 L560.96 273.83 L561.63 273.24 L562.31 270.26 L562.98 269.83 L563.65 270.13 L564.33 268.65 L565 269.86 L565.67 269.12 L566.34 267.13 L567.02 268.25 L567.69 268.51 L568.36 267.38 L569.03 266.78 L569.71 269.61 L570.38 270.89 L571.05 267.41 L571.72 267 L572.4 268.2 L573.07 266.91 L573.74 265.89 L574.41 268.96 L575.09 265.13 L575.76 265.42 L576.43 265.34 L577.1 264.84 L577.78 265.81 L578.45 266.29 L579.12 266.82 L579.79 266.04 L580.47 265.38 L581.14 264.19 L581.81 264.99 L582.48 264.14 L583.16 264.67 L583.83 265.38 L584.5 264.62 L585.17 264.15 L585.85 263.58 L586.52 264.03 L587.19 264 L587.86 263.04 L588.54 263.25 L589.21 264.23 L589.88 262.07 L590.55 262.92 L591.23 262.23 L591.9 264.28 L592.57 263.41 L593.24 263.22 L593.92 263.01 L594.59 262.82 L595.26 262.71 L595.93 261.1 L596.61 262.47 L597.28 262.64 L597.95 260.92 L598.62 270.98 L599.3 276.37 L599.97 278.42 L600.64 282.02 L601.31 284.27 L601.99 285.82 L602.66 288.03 L603.33 288.01 L604 290.07 L604.68 291.57 L605.35 293.07 L606.02 293.59 L606.69 294.39 L607.37 296.14 L608.04 294.99 L608.71 298.3 L609.38 298.26 L610.06 298.44 L610.73 300.01 L611.4 299.79 L612.07 300.51 L612.75 302.76 L613.42 303.26 L614.09 305.31 L614.76 304.85 L615.44 305.34 L616.11 306.41 L616.78 309.34 L617.45 308.77 L618.12 309.02 L618.8 309.47 L619.47 310.12 L620.14 311.6 L620.82 312.79 L621.49 314.07 L622.16 314.76 L622.83 314.74 L623.5 314.66 L624.18 315.16 L624.85 314.64 L625.52 316.32 L626.2 318.09 L626.87 318.1 L627.54 319.27 L628.21 318.49 L628.88 320.88 L629.56 320.97 L630.23 321.33 L630.9 322.18 L631.58 320.62 L632.25 322.5 L632.92 322.76 L633.59 325.44 L634.27 324.36 L634.94 324.61 L635.61 326.19 L636.28 325.15 L636.96 327.61 L637.63 326.38 L638.3 327.36 L638.97 327.13 L639.64 328.96 L640.32 327.02 L640.99 329.74 L641.66 328.96 L642.34 330.07 L643.01 329.53 L643.68 331.04 L644.35 331.4 L645.03 332.12 L645.7 332.28 L646.37 332.91 L647.04 333.58 L647.72 332.84 L648.39 332.57 L649.06 332.85 L649.73 334.76 L650.41 334.26 L651.08 335.74 L651.75 335.27 L652.42 334.75 L653.1 336.6 L653.77 337.75 L654.44 336.36 L655.11 336.06 L655.79 336.43 L656.46 338.12 L657.13 337.23 L657.8 337.66 L658.48 338.81 L659.15 338.55 L659.82 338.91 L660.49 338.65 L661.17 338.83 L661.84 339.73 L662.51 339.98 L663.18 340.58 L663.86 339.95 L664.53 340.87 L665.2 341.21" stroke="#1a4289" stroke-width="0.8" fill="none"/>
<circle cx="530.7" cy="350.36" r="1.35" fill="#1a4289"/>
<circle cx="531.37" cy="339.7" r="1.35" fill="#1a4289"/>
<circle cx="532.05" cy="332" r="1.35" fill="#1a4289"/>
<circle cx="532.72" cy="325.16" r="1.35" fill="#1a4289"/>
<circle cx="533.39" cy="318.9" r="1.35" fill="#1a4289"/>
<circle cx="534.06" cy="314.27" r="1.35" fill="#1a4289"/>
<circle cx="534.74" cy="309.64" r="1.35" fill="#1a4289"/>
<circle cx="535.41" cy="303.29" r="1.35" fill="#1a4289"/>
<circle cx="536.08" cy="301.17" r="1.35" fill="#1a4289"/>
<circle cx="536.75" cy="301.27" r="1.35" fill="#1a4289"/>
<circle cx="537.43" cy="295.08" r="1.35" fill="#1a4289"/>
<circle cx="538.1" cy="294.9" r="1.35" fill="#1a4289"/>
<circle cx="538.77" cy="291.4" r="1.35" fill="#1a4289"/>
<circle cx="539.44" cy="289.11" r="1.35" fill="#1a4289"/>
<circle cx="540.12" cy="290.59" r="1.35" fill="#1a4289"/>
<circle cx="540.79" cy="288.41" r="1.35" fill="#1a4289"/>
<circle cx="541.46" cy="285.27" r="1.35" fill="#1a4289"/>
<circle cx="542.13" cy="285.9" r="1.35" fill="#1a4289"/>
<circle cx="542.81" cy="281.59" r="1.35" fill="#1a4289"/>
<circle cx="543.48" cy="281.58" r="1.35" fill="#1a4289"/>
<circle cx="544.15" cy="283.2" r="1.35" fill="#1a4289"/>
<circle cx="544.82" cy="281.16" r="1.35" fill="#1a4289"/>
<circle cx="545.5" cy="278.82" r="1.35" fill="#1a4289"/>
<circle cx="546.17" cy="280.45" r="1.35" fill="#1a4289"/>
<circle cx="546.84" cy="279.68" r="1.35" fill="#1a4289"/>
<circle cx="547.51" cy="280.55" r="1.35" fill="#1a4289"/>
<circle cx="548.19" cy="279.54" r="1.35" fill="#1a4289"/>
<circle cx="548.86" cy="277.2" r="1.35" fill="#1a4289"/>
<circle cx="549.53" cy="276.41" r="1.35" fill="#1a4289"/>
<circle cx="550.2" cy="276.49" r="1.35" fill="#1a4289"/>
<circle cx="550.88" cy="275.92" r="1.35" fill="#1a4289"/>
<circle cx="551.55" cy="278.05" r="1.35" fill="#1a4289"/>
<circle cx="552.22" cy="277.85" r="1.35" fill="#1a4289"/>
<circle cx="552.89" cy="277.13" r="1.35" fill="#1a4289"/>
<circle cx="553.57" cy="275.3" r="1.35" fill="#1a4289"/>
<circle cx="554.24" cy="274.01" r="1.35" fill="#1a4289"/>
<circle cx="554.91" cy="275.39" r="1.35" fill="#1a4289"/>
<circle cx="555.58" cy="273.18" r="1.35" fill="#1a4289"/>
<circle cx="556.25" cy="273.73" r="1.35" fill="#1a4289"/>
<circle cx="556.93" cy="270.56" r="1.35" fill="#1a4289"/>
<circle cx="557.6" cy="272.12" r="1.35" fill="#1a4289"/>
<circle cx="558.27" cy="274.62" r="1.35" fill="#1a4289"/>
<circle cx="558.95" cy="270.63" r="1.35" fill="#1a4289"/>
<circle cx="559.62" cy="269.64" r="1.35" fill="#1a4289"/>
<circle cx="560.29" cy="271.36" r="1.35" fill="#1a4289"/>
<circle cx="560.96" cy="273.83" r="1.35" fill="#1a4289"/>
<circle cx="561.63" cy="273.24" r="1.35" fill="#1a4289"/>
<circle cx="562.31" cy="270.26" r="1.35" fill="#1a4289"/>
<circle cx="562.98" cy="269.83" r="1.35" fill="#1a4289"/>
<circle cx="563.65" cy="270.13" r="1.35" fill="#1a4289"/>
<circle cx="564.33" cy="268.65" r="1.35" fill="#1a4289"/>
<circle cx="565" cy="269.86" r="1.35" fill="#1a4289"/>
<circle cx="565.67" cy="269.12" r="1.35" fill="#1a4289"/>
<circle cx="566.34" cy="267.13" r="1.35" fill="#1a4289"/>
<circle cx="567.02" cy="268.25" r="1.35" fill="#1a4289"/>
<circle cx="567.69" cy="268.51" r="1.35" fill="#1a4289"/>
<circle cx="568.36" cy="267.38" r="1.35" fill="#1a4289"/>
<circle cx="569.03" cy="266.78" r="1.35" fill="#1a4289"/>
<circle cx="569.71" cy="269.61" r="1.35" fill="#1a4289"/>
<circle cx="570.38" cy="270.89" r="1.35" fill="#1a4289"/>
<circle cx="571.05" cy="267.41" r="1.35" fill="#1a4289"/>
<circle cx="571.72" cy="267" r="1.35" fill="#1a4289"/>
<circle cx="572.4" cy="268.2" r="1.35" fill="#1a4289"/>
<circle cx="573.07" cy="266.91" r="1.35" fill="#1a4289"/>
<circle cx="573.74" cy="265.89" r="1.35" fill="#1a4289"/>
<circle cx="574.41" cy="268.96" r="1.35" fill="#1a4289"/>
<circle cx="575.09" cy="265.13" r="1.35" fill="#1a4289"/>
<circle cx="575.76" cy="265.42" r="1.35" fill="#1a4289"/>
<circle cx="576.43" cy="265.34" r="1.35" fill="#1a4289"/>
<circle cx="577.1" cy="264.84" r="1.35" fill="#1a4289"/>
<circle cx="577.78" cy="265.81" r="1.35" fill="#1a4289"/>
<circle cx="578.45" cy="266.29" r="1.35" fill="#1a4289"/>
<circle cx="579.12" cy="266.82" r="1.35" fill="#1a4289"/>
<circle cx="579.79" cy="266.04" r="1.35" fill="#1a4289"/>
<circle cx="580.47" cy="265.38" r="1.35" fill="#1a4289"/>
<circle cx="581.14" cy="264.19" r="1.35" fill="#1a4289"/>
<circle cx="581.81" cy="264.99" r="1.35" fill="#1a4289"/>
<circle cx="582.48" cy="264.14" r="1.35" fill="#1a4289"/>
<circle cx="583.16" cy="264.67" r="1.35" fill="#1a4289"/>
<circle cx="583.83" cy="265.38" r="1.35" fill="#1a4289"/>
<circle cx="584.5" cy="264.62" r="1.35" fill="#1a4289"/>
<circle cx="585.17" cy="264.15" r="1.35" fill="#1a4289"/>
<circle cx="585.85" cy="263.58" r="1.35" fill="#1a4289"/>
<circle cx="586.52" cy="264.03" r="1.35" fill="#1a4289"/>
<circle cx="587.19" cy="264" r="1.35" fill="#1a4289"/>
<circle cx="587.86" cy="263.04" r="1.35" fill="#1a4289"/>
<circle cx="588.54" cy="263.25" r="1.35" fill="#1a4289"/>
<circle cx="589.21" cy="264.23" r="1.35" fill="#1a4289"/>
<circle cx="589.88" cy="262.07" r="1.35" fill="#1a4289"/>
<circle cx="590.55" cy="262.92" r="1.35" fill="#1a4289"/>
<circle cx="591.23" cy="262.23" r="1.35" fill="#1a4289"/>
<circle cx="591.9" cy="264.28" r="1.35" fill="#1a4289"/>
<circle cx="592.57" cy="263.41" r="1.35" fill="#1a4289"/>
<circle cx="593.24" cy="263.22" r="1.35" fill="#1a4289"/>
<circle cx="593.92" cy="263.01" r="1.35" fill="#1a4289"/>
<circle cx="594.59" cy="262.82" r="1.35" fill="#1a4289"/>
<circle cx="595.26" cy="262.71" r="1.35" fill="#1a4289"/>
<circle cx="595.93" cy="261.1" r="1.35" fill="#1a4289"/>
<circle cx="596.61" cy="262.47" r="1.35" fill="#1a4289"/>
<circle cx="597.28" cy="262.64" r="1.35" fill="#1a4289"/>
<circle cx="597.95" cy="260.92" r="1.35" fill="#1a4289"/>
<circle cx="598.62" cy="270.98" r="1.35" fill="#1a4289"/>
<circle cx="599.3" cy="276.37" r="1.35" fill="#1a4289"/>
<circle cx="599.97" cy="278.42" r="1.35" fill="#1a4289"/>
<circle cx="600.64" cy="282.02" r="1.35" fill="#1a4289"/>
<circle cx="601.31" cy="284.27" r="1.35" fill="#1a4289"/>
<circle cx="601.99" cy="285.82" r="1.35" fill="#1a4289"/>
<circle cx="602.66" cy="288.03" r="1.35" fill="#1a4289"/>
<circle cx="603.33" cy="288.01" r="1.35" fill="#1a4289"/>
<circle cx="604" cy="290.07" r="1.35" fill="#1a4289"/>
<circle cx="604.68" cy="291.57" r="1.35" fill="#1a4289"/>
<circle cx="605.35" cy="293.07" r="1.35" fill="#1a4289"/>
<circle cx="606.02" cy="293.59" r="1.35" fill="#1a4289"/>
<circle cx="606.69" cy="294.39" r="1.35" fill="#1a4289"/>
<circle cx="607.37" cy="296.14" r="1.35" fill="#1a4289"/>
<circle cx="608.04" cy="294.99" r="1.35" fill="#1a4289"/>
<circle cx="608.71" cy="298.3" r="1.35" fill="#1a4289"/>
<circle cx="609.38" cy="298.26" r="1.35" fill="#1a4289"/>
<circle cx="610.06" cy="298.44" r="1.35" fill="#1a4289"/>
<circle cx="610.73" cy="300.01" r="1.35" fill="#1a4289"/>
<circle cx="611.4" cy="299.79" r="1.35" fill="#1a4289"/>
<circle cx="612.07" cy="300.51" r="1.35" fill="#1a4289"/>
<circle cx="612.75" cy="302.76" r="1.35" fill="#1a4289"/>
<circle cx="613.42" cy="303.26" r="1.35" fill="#1a4289"/>
<circle cx="614.09" cy="305.31" r="1.35" fill="#1a4289"/>
<circle cx="614.76" cy="304.85" r="1.35" fill="#1a4289"/>
<circle cx="615.44" cy="305.34" r="1.35" fill="#1a4289"/>
<circle cx="616.11" cy="306.41" r="1.35" fill="#1a4289"/>
<circle cx="616.78" cy="309.34" r="1.35" fill="#1a4289"/>
<circle cx="617.45" cy="308.77" r="1.35" fill="#1a4289"/>
<circle cx="618.12" cy="309.02" r="1.35" fill="#1a4289"/>
<circle cx="618.8" cy="309.47" r="1.35" fill="#1a4289"/>
<circle cx="619.47" cy="310.12" r="1.35" fill="#1a4289"/>
<circle cx="620.14" cy="311.6" r="1.35" fill="#1a4289"/>
<circle cx="620.82" cy="312.79" r="1.35" fill="#1a4289"/>
<circle cx="621.49" cy="314.07" r="1.35" fill="#1a4289"/>
<circle cx="622.16" cy="314.76" r="1.35" fill="#1a4289"/>
<circle cx="622.83" cy="314.74" r="1.35" fill="#1a4289"/>
<circle cx="623.5" cy="314.66" r="1.35" fill="#1a4289"/>
<circle cx="624.18" cy="315.16" r="1.35" fill="#1a4289"/>
<circle cx="624.85" cy="314.64" r="1.35" fill="#1a4289"/>
<circle cx="625.52" cy="316.32" r="1.35" fill="#1a4289"/>
<circle cx="626.2" cy="318.09" r="1.35" fill="#1a4289"/>
<circle cx="626.87" cy="318.1" r="1.35" fill="#1a4289"/>
<circle cx="627.54" cy="319.27" r="1.35" fill="#1a4289"/>
<circle cx="628.21" cy="318.49" r="1.35" fill="#1a4289"/>
<circle cx="628.88" cy="320.88" r="1.35" fill="#1a4289"/>
<circle cx="629.56" cy="320.97" r="1.35" fill="#1a4289"/>
<circle cx="630.23" cy="321.33" r="1.35" fill="#1a4289"/>
<circle cx="630.9" cy="322.18" r="1.35" fill="#1a4289"/>
<circle cx="631.58" cy="320.62" r="1.35" fill="#1a4289"/>
<circle cx="632.25" cy="322.5" r="1.35" fill="#1a4289"/>
<circle cx="632.92" cy="322.76" r="1.35" fill="#1a4289"/>
<circle cx="633.59" cy="325.44" r="1.35" fill="#1a4289"/>
<circle cx="634.27" cy="324.36" r="1.35" fill="#1a4289"/>
<circle cx="634.94" cy="324.61" r="1.35" fill="#1a4289"/>
<circle cx="635.61" cy="326.19" r="1.35" fill="#1a4289"/>
<circle cx="636.28" cy="325.15" r="1.35" fill="#1a4289"/>
<circle cx="636.96" cy="327.61" r="1.35" fill="#1a4289"/>
<circle cx="637.63" cy="326.38" r="1.35" fill="#1a4289"/>
<circle cx="638.3" cy="327.36" r="1.35" fill="#1a4289"/>
<circle cx="638.97" cy="327.13" r="1.35" fill="#1a4289"/>
<circle cx="639.64" cy="328.96" r="1.35" fill="#1a4289"/>
<circle cx="640.32" cy="327.02" r="1.35" fill="#1a4289"/>
<circle cx="640.99" cy="329.74" r="1.35" fill="#1a4289"/>
<circle cx="641.66" cy="328.96" r="1.35" fill="#1a4289"/>
<circle cx="642.34" cy="330.07" r="1.35" fill="#1a4289"/>
<circle cx="643.01" cy="329.53" r="1.35" fill="#1a4289"/>
<circle cx="643.68" cy="331.04" r="1.35" fill="#1a4289"/>
<circle cx="644.35" cy="331.4" r="1.35" fill="#1a4289"/>
<circle cx="645.03" cy="332.12" r="1.35" fill="#1a4289"/>
<circle cx="645.7" cy="332.28" r="1.35" fill="#1a4289"/>
<circle cx="646.37" cy="332.91" r="1.35" fill="#1a4289"/>
<circle cx="647.04" cy="333.58" r="1.35" fill="#1a4289"/>
<circle cx="647.72" cy="332.84" r="1.35" fill="#1a4289"/>
<circle cx="648.39" cy="332.57" r="1.35" fill="#1a4289"/>
<circle cx="649.06" cy="332.85" r="1.35" fill="#1a4289"/>
<circle cx="649.73" cy="334.76" r="1.35" fill="#1a4289"/>
<circle cx="650.41" cy="334.26" r="1.35" fill="#1a4289"/>
<circle cx="651.08" cy="335.74" r="1.35" fill="#1a4289"/>
<circle cx="651.75" cy="335.27" r="1.35" fill="#1a4289"/>
<circle cx="652.42" cy="334.75" r="1.35" fill="#1a4289"/>
<circle cx="653.1" cy="336.6" r="1.35" fill="#1a4289"/>
<circle cx="653.77" cy="337.75" r="1.35" fill="#1a4289"/>
<circle cx="654.44" cy="336.36" r="1.35" fill="#1a4289"/>
<circle cx="655.11" cy="336.06" r="1.35" fill="#1a4289"/>
<circle cx="655.79" cy="336.43" r="1.35" fill="#1a4289"/>
<circle cx="656.46" cy="338.12" r="1.35" fill="#1a4289"/>
<circle cx="657.13" cy="337.23" r="1.35" fill="#1a4289"/>
<circle cx="657.8" cy="337.66" r="1.35" fill="#1a4289"/>
<circle cx="658.48" cy="338.81" r="1.35" fill="#1a4289"/>
<circle cx="659.15" cy="338.55" r="1.35" fill="#1a4289"/>
<circle cx="659.82" cy="338.91" r="1.35" fill="#1a4289"/>
<circle cx="660.49" cy="338.65" r="1.35" fill="#1a4289"/>
<circle cx="661.17" cy="338.83" r="1.35" fill="#1a4289"/>
<circle cx="661.84" cy="339.73" r="1.35" fill="#1a4289"/>
<circle cx="662.51" cy="339.98" r="1.35" fill="#1a4289"/>
<circle cx="663.18" cy="340.58" r="1.35" fill="#1a4289"/>
<circle cx="663.86" cy="339.95" r="1.35" fill="#1a4289"/>
<circle cx="664.53" cy="340.87" r="1.35" fill="#1a4289"/>
<circle cx="665.2" cy="341.21" r="1.35" fill="#1a4289"/>
</g>
<rect x="514.2" y="255" width="168.2" height="125.9" fill="none" stroke="#555" stroke-width="1"/>
<line x1="598" y1="255" x2="598" y2="380.9" stroke="#fff" stroke-width="0"/>
<text x="518.6" y="264.8" font-size="7.8" text-anchor="start" fill="#333" stroke="#333" stroke-width="0.18">LTP</text>
<text x="603.8" y="264.8" font-size="7.8" text-anchor="start" fill="#333" stroke="#333" stroke-width="0.18">LTD</text>
<text x="678" y="264.8" font-size="7.8" text-anchor="end" fill="#333" stroke="#333" stroke-width="0.18">Pulse width</text>
<line x1="639.4" y1="270.7" x2="655.2" y2="270.7" stroke="#111" stroke-width="0.8"/>
<circle cx="647.3" cy="270.7" r="1.4" fill="#111"/>
<text x="678" y="273.6" font-size="7.8" text-anchor="end" fill="#222" stroke="#222" stroke-width="0.18">20 ms</text>
<line x1="639.4" y1="280.1" x2="655.2" y2="280.1" stroke="#8f1d22" stroke-width="0.8"/>
<path d="M647.3 278.4 l1.5 2.6 l-3 0 Z" fill="#8f1d22"/>
<text x="678" y="283" font-size="7.8" text-anchor="end" fill="#222" stroke="#222" stroke-width="0.18">30 ms</text>
<line x1="639.4" y1="289.5" x2="655.2" y2="289.5" stroke="#1f4e96" stroke-width="0.8"/>
<circle cx="647.3" cy="289.5" r="1.4" fill="#1f4e96"/>
<text x="678" y="292.4" font-size="7.8" text-anchor="end" fill="#222" stroke="#222" stroke-width="0.18">40 ms</text>
<rect x="514.4" y="216.4" width="168.6" height="33.3" fill="#fff" stroke="#6a6a6a" stroke-width="0.9"/>
<line x1="598" y1="216.4" x2="598" y2="255" stroke="#888" stroke-width="0.9" stroke-dasharray="1.6 2.2"/>
<line x1="514.4" y1="228.3" x2="516.4" y2="228.3" stroke="#555" stroke-width="0.8"/>
<line x1="514.4" y1="242.6" x2="516.4" y2="242.6" stroke="#555" stroke-width="0.8"/>
<text x="511.5" y="231.2" font-size="8.2" text-anchor="end" fill="#222" stroke="#222" stroke-width="0.18">10</text>
<text x="511.5" y="245.5" font-size="8.2" text-anchor="end" fill="#222" stroke="#222" stroke-width="0.18">-10</text>
<text x="494" y="233" font-size="8.2" text-anchor="middle" fill="#222" stroke="#222" stroke-width="0.18" transform="rotate(-90 494 233)">V (V)</text>
<path d="M514.4 235.4 L528.4 235.4 L528.4 228 L533.6 228 L533.6 235.4 L538.3 235.4 L538.3 228 L543.3 228 L543.3 235.4 L546.5 235.4" stroke="#e0883a" stroke-width="1.1" fill="none"/>
<line x1="546.4" y1="237.4" x2="551" y2="232.4" stroke="#e0883a" stroke-width="1.1"/>
<line x1="579.8" y1="237.4" x2="584.3" y2="232.4" stroke="#e0883a" stroke-width="1.1"/>
<path d="M583.8 235.4 L587.9 235.4 L587.9 228 L593 228 L593 235.4 L598 235.4" stroke="#e0883a" stroke-width="1.1" fill="none"/>
<path d="M598 235.4 L603.3 235.4 L603.3 242.6 L608.4 242.6 L608.4 235.4 L612.2 235.4 L612.2 242.6 L617.3 242.6 L617.3 235.4 L620.5 235.4" stroke="#7a3fb5" stroke-width="1.1" fill="none"/>
<line x1="620" y1="238.4" x2="624.5" y2="233.4" stroke="#7a3fb5" stroke-width="1.1"/>
<line x1="651.8" y1="238.4" x2="656.3" y2="233.4" stroke="#7a3fb5" stroke-width="1.1"/>
<path d="M655.5 235.4 L659.4 235.4 L659.4 242.6 L664.6 242.6 L664.6 235.4 L683 235.4" stroke="#7a3fb5" stroke-width="1.1" fill="none"/>
<path d="M527.9 237.4 Q528.9 239 531.9 239 L555.55 239 Q558.05 239 558.55 240.4 Q559.05 239 561.55 239 L585.2 239 Q588.2 239 589.2 237.4" stroke="#444" stroke-width="0.7" fill="none"/>
<path d="M604.5 230.6 Q605.5 229 608.5 229 L632.15 229 Q634.65 229 635.15 227.6 Q635.65 229 638.15 229 L661.8 229 Q664.8 229 665.8 230.6" stroke="#444" stroke-width="0.7" fill="none"/>
<text x="564.5" y="247.3" font-size="7.6" text-anchor="middle" fill="#333" stroke="#333" stroke-width="0.18">100 pulse</text>
<text x="635.9" y="224.9" font-size="7.6" text-anchor="middle" fill="#333" stroke="#333" stroke-width="0.18">100 pulse</text>
<text x="572.7" y="192" font-size="7.6" text-anchor="middle" fill="#333" stroke="#333" stroke-width="0.18">Inputs</text>
<text x="622.3" y="192" font-size="7.6" text-anchor="middle" fill="#333" stroke="#333" stroke-width="0.18">PSC</text>
<line x1="553.3" y1="210.5" x2="590.5" y2="210.5" stroke="#e0883a" stroke-width="1.1"/>
<path d="M565.8 208.1 L571 208.1 L571 201.4 L576.3 201.4 L576.3 208.1 L580.9 208.1" stroke="#e0883a" stroke-width="1" fill="none"/>
<path d="M597 205.6 A6 4.9 0 0 0 597 215.4 Z" stroke="#e0883a" stroke-width="1.2" fill="#fff"/>
<path d="M598.6 205.6 A6 4.9 0 0 1 598.6 215.4 Z" stroke="#1f8a3c" stroke-width="1.3" fill="#fff"/>
<line x1="604.6" y1="210.5" x2="641.6" y2="210.5" stroke="#1f8a3c" stroke-width="1.1"/>
<line x1="590.5" y1="201.8" x2="602.5" y2="201.8" stroke="#222" stroke-width="1.1"/>
<path d="M604.8 201.8 L600.5 199.3 L601.3 201.8 L600.5 204.3 Z" stroke="none" stroke-width="1" fill="#222"/>
<path d="M615.8 208.6 C617 205 617.8 200 619 194.4 C620.5 198.4 624 199.1 630 200.6" stroke="#2a58a8" stroke-width="0.9" fill="none"/>
<path d="M615.8 208.6 C617 205 617.8 200 619 195.8 C620.5 199.8 624 202.8 630 204.3" stroke="#9b1c24" stroke-width="0.9" fill="none"/>
<path d="M615.8 208.6 C617 205 617.8 200 619 197.6 C620.5 201.6 624 206.3 630 207.8" stroke="#1a1a1a" stroke-width="0.9" fill="none"/>
</svg>
</body></html>
